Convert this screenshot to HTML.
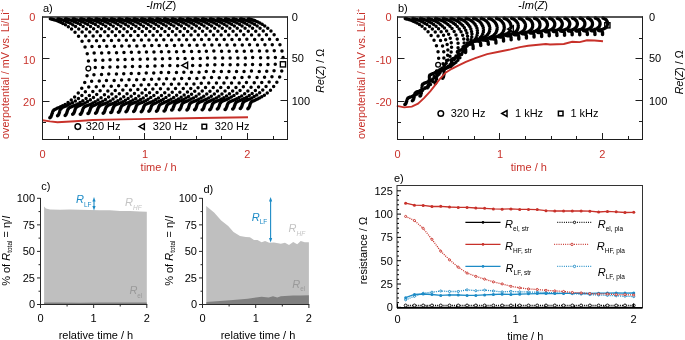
<!DOCTYPE html>
<html><head><meta charset="utf-8"><style>
html,body{margin:0;padding:0;background:#fff;width:685px;height:340px;overflow:hidden}
svg{will-change:transform}
</style></head><body>
<svg width="685" height="340" viewBox="0 0 685 340" style="display:block">
<g font-family='"Liberation Sans", sans-serif'>
<circle cx="88.35" cy="68.58" r="2.4" fill="#fff" stroke="#000" stroke-width="1.3"/>
<path d="M48.6 18.8a1.75 1.75 0 1 0 3.5 0a1.75 1.75 0 1 0 -3.5 0M48.9 18.8a1.75 1.75 0 1 0 3.5 0a1.75 1.75 0 1 0 -3.5 0M49.4 19.0a1.75 1.75 0 1 0 3.5 0a1.75 1.75 0 1 0 -3.5 0M49.8 19.1a1.75 1.75 0 1 0 3.5 0a1.75 1.75 0 1 0 -3.5 0M50.2 19.2a1.75 1.75 0 1 0 3.5 0a1.75 1.75 0 1 0 -3.5 0M50.7 19.3a1.75 1.75 0 1 0 3.5 0a1.75 1.75 0 1 0 -3.5 0M51.4 19.5a1.75 1.75 0 1 0 3.5 0a1.75 1.75 0 1 0 -3.5 0M52.1 19.7a1.75 1.75 0 1 0 3.5 0a1.75 1.75 0 1 0 -3.5 0M53.1 20.0a1.75 1.75 0 1 0 3.5 0a1.75 1.75 0 1 0 -3.5 0M54.2 20.3a1.75 1.75 0 1 0 3.5 0a1.75 1.75 0 1 0 -3.5 0M55.5 20.8a1.75 1.75 0 1 0 3.5 0a1.75 1.75 0 1 0 -3.5 0M57.1 21.4a1.75 1.75 0 1 0 3.5 0a1.75 1.75 0 1 0 -3.5 0M58.9 22.3a1.75 1.75 0 1 0 3.5 0a1.75 1.75 0 1 0 -3.5 0M61.1 23.4a1.75 1.75 0 1 0 3.5 0a1.75 1.75 0 1 0 -3.5 0M63.7 24.8a1.75 1.75 0 1 0 3.5 0a1.75 1.75 0 1 0 -3.5 0M66.6 26.7a1.75 1.75 0 1 0 3.5 0a1.75 1.75 0 1 0 -3.5 0M69.8 29.1a1.75 1.75 0 1 0 3.5 0a1.75 1.75 0 1 0 -3.5 0M73.3 32.3a1.75 1.75 0 1 0 3.5 0a1.75 1.75 0 1 0 -3.5 0M76.8 36.3a1.75 1.75 0 1 0 3.5 0a1.75 1.75 0 1 0 -3.5 0M80.3 41.2a1.75 1.75 0 1 0 3.5 0a1.75 1.75 0 1 0 -3.5 0M83.3 47.1a1.75 1.75 0 1 0 3.5 0a1.75 1.75 0 1 0 -3.5 0M85.5 53.8a1.75 1.75 0 1 0 3.5 0a1.75 1.75 0 1 0 -3.5 0M86.7 61.1a1.75 1.75 0 1 0 3.5 0a1.75 1.75 0 1 0 -3.5 0M85.3 75.8a1.75 1.75 0 1 0 3.5 0a1.75 1.75 0 1 0 -3.5 0M83.0 82.5a1.75 1.75 0 1 0 3.5 0a1.75 1.75 0 1 0 -3.5 0M80.0 88.3a1.75 1.75 0 1 0 3.5 0a1.75 1.75 0 1 0 -3.5 0M76.5 93.1a1.75 1.75 0 1 0 3.5 0a1.75 1.75 0 1 0 -3.5 0M72.9 97.1a1.75 1.75 0 1 0 3.5 0a1.75 1.75 0 1 0 -3.5 0M69.5 100.1a1.75 1.75 0 1 0 3.5 0a1.75 1.75 0 1 0 -3.5 0M66.3 102.5a1.75 1.75 0 1 0 3.5 0a1.75 1.75 0 1 0 -3.5 0M63.4 104.4a1.75 1.75 0 1 0 3.5 0a1.75 1.75 0 1 0 -3.5 0M60.9 105.8a1.75 1.75 0 1 0 3.5 0a1.75 1.75 0 1 0 -3.5 0M58.8 106.8a1.75 1.75 0 1 0 3.5 0a1.75 1.75 0 1 0 -3.5 0M56.9 107.7a1.75 1.75 0 1 0 3.5 0a1.75 1.75 0 1 0 -3.5 0M55.4 108.3a1.75 1.75 0 1 0 3.5 0a1.75 1.75 0 1 0 -3.5 0M54.1 108.9a1.75 1.75 0 1 0 3.5 0a1.75 1.75 0 1 0 -3.5 0M53.0 109.4a1.75 1.75 0 1 0 3.5 0a1.75 1.75 0 1 0 -3.5 0M52.2 109.9a1.75 1.75 0 1 0 3.5 0a1.75 1.75 0 1 0 -3.5 0M51.5 110.7a1.75 1.75 0 1 0 3.5 0a1.75 1.75 0 1 0 -3.5 0M51.0 111.7a1.75 1.75 0 1 0 3.5 0a1.75 1.75 0 1 0 -3.5 0M50.6 113.0a1.75 1.75 0 1 0 3.5 0a1.75 1.75 0 1 0 -3.5 0M50.1 114.3a1.75 1.75 0 1 0 3.5 0a1.75 1.75 0 1 0 -3.5 0M49.7 115.5a1.75 1.75 0 1 0 3.5 0a1.75 1.75 0 1 0 -3.5 0M49.3 116.4a1.75 1.75 0 1 0 3.5 0a1.75 1.75 0 1 0 -3.5 0M49.0 117.0a1.75 1.75 0 1 0 3.5 0a1.75 1.75 0 1 0 -3.5 0M48.8 117.3a1.75 1.75 0 1 0 3.5 0a1.75 1.75 0 1 0 -3.5 0M48.4 117.6a1.75 1.75 0 1 0 3.5 0a1.75 1.75 0 1 0 -3.5 0M48.1 117.7a1.75 1.75 0 1 0 3.5 0a1.75 1.75 0 1 0 -3.5 0" fill="#000"/>
<path d="M56.2 18.8a1.75 1.75 0 1 0 3.5 0a1.75 1.75 0 1 0 -3.5 0M56.5 18.8a1.75 1.75 0 1 0 3.5 0a1.75 1.75 0 1 0 -3.5 0M57.0 19.0a1.75 1.75 0 1 0 3.5 0a1.75 1.75 0 1 0 -3.5 0M57.4 19.0a1.75 1.75 0 1 0 3.5 0a1.75 1.75 0 1 0 -3.5 0M57.8 19.1a1.75 1.75 0 1 0 3.5 0a1.75 1.75 0 1 0 -3.5 0M58.3 19.3a1.75 1.75 0 1 0 3.5 0a1.75 1.75 0 1 0 -3.5 0M58.9 19.5a1.75 1.75 0 1 0 3.5 0a1.75 1.75 0 1 0 -3.5 0M59.7 19.7a1.75 1.75 0 1 0 3.5 0a1.75 1.75 0 1 0 -3.5 0M60.6 20.0a1.75 1.75 0 1 0 3.5 0a1.75 1.75 0 1 0 -3.5 0M61.6 20.3a1.75 1.75 0 1 0 3.5 0a1.75 1.75 0 1 0 -3.5 0M62.9 20.8a1.75 1.75 0 1 0 3.5 0a1.75 1.75 0 1 0 -3.5 0M64.5 21.4a1.75 1.75 0 1 0 3.5 0a1.75 1.75 0 1 0 -3.5 0M66.3 22.2a1.75 1.75 0 1 0 3.5 0a1.75 1.75 0 1 0 -3.5 0M68.5 23.3a1.75 1.75 0 1 0 3.5 0a1.75 1.75 0 1 0 -3.5 0M71.0 24.7a1.75 1.75 0 1 0 3.5 0a1.75 1.75 0 1 0 -3.5 0M73.8 26.5a1.75 1.75 0 1 0 3.5 0a1.75 1.75 0 1 0 -3.5 0M77.0 28.9a1.75 1.75 0 1 0 3.5 0a1.75 1.75 0 1 0 -3.5 0M80.4 32.0a1.75 1.75 0 1 0 3.5 0a1.75 1.75 0 1 0 -3.5 0M83.9 35.9a1.75 1.75 0 1 0 3.5 0a1.75 1.75 0 1 0 -3.5 0M87.2 40.8a1.75 1.75 0 1 0 3.5 0a1.75 1.75 0 1 0 -3.5 0M90.2 46.5a1.75 1.75 0 1 0 3.5 0a1.75 1.75 0 1 0 -3.5 0M92.4 53.1a1.75 1.75 0 1 0 3.5 0a1.75 1.75 0 1 0 -3.5 0M93.5 60.3a1.75 1.75 0 1 0 3.5 0a1.75 1.75 0 1 0 -3.5 0M93.5 67.6a1.75 1.75 0 1 0 3.5 0a1.75 1.75 0 1 0 -3.5 0M92.2 74.7a1.75 1.75 0 1 0 3.5 0a1.75 1.75 0 1 0 -3.5 0M89.9 81.2a1.75 1.75 0 1 0 3.5 0a1.75 1.75 0 1 0 -3.5 0M87.0 86.9a1.75 1.75 0 1 0 3.5 0a1.75 1.75 0 1 0 -3.5 0M83.6 91.7a1.75 1.75 0 1 0 3.5 0a1.75 1.75 0 1 0 -3.5 0M80.1 95.5a1.75 1.75 0 1 0 3.5 0a1.75 1.75 0 1 0 -3.5 0M76.7 98.6a1.75 1.75 0 1 0 3.5 0a1.75 1.75 0 1 0 -3.5 0M73.6 100.9a1.75 1.75 0 1 0 3.5 0a1.75 1.75 0 1 0 -3.5 0M70.7 102.7a1.75 1.75 0 1 0 3.5 0a1.75 1.75 0 1 0 -3.5 0M68.3 104.1a1.75 1.75 0 1 0 3.5 0a1.75 1.75 0 1 0 -3.5 0M66.2 105.1a1.75 1.75 0 1 0 3.5 0a1.75 1.75 0 1 0 -3.5 0M64.4 105.9a1.75 1.75 0 1 0 3.5 0a1.75 1.75 0 1 0 -3.5 0M62.8 106.6a1.75 1.75 0 1 0 3.5 0a1.75 1.75 0 1 0 -3.5 0M61.6 107.1a1.75 1.75 0 1 0 3.5 0a1.75 1.75 0 1 0 -3.5 0M60.5 107.6a1.75 1.75 0 1 0 3.5 0a1.75 1.75 0 1 0 -3.5 0M59.7 108.2a1.75 1.75 0 1 0 3.5 0a1.75 1.75 0 1 0 -3.5 0M59.1 108.9a1.75 1.75 0 1 0 3.5 0a1.75 1.75 0 1 0 -3.5 0M58.5 109.9a1.75 1.75 0 1 0 3.5 0a1.75 1.75 0 1 0 -3.5 0M58.1 111.1a1.75 1.75 0 1 0 3.5 0a1.75 1.75 0 1 0 -3.5 0M57.7 112.4a1.75 1.75 0 1 0 3.5 0a1.75 1.75 0 1 0 -3.5 0M57.3 113.6a1.75 1.75 0 1 0 3.5 0a1.75 1.75 0 1 0 -3.5 0M56.9 114.5a1.75 1.75 0 1 0 3.5 0a1.75 1.75 0 1 0 -3.5 0M56.6 115.0a1.75 1.75 0 1 0 3.5 0a1.75 1.75 0 1 0 -3.5 0M56.4 115.3a1.75 1.75 0 1 0 3.5 0a1.75 1.75 0 1 0 -3.5 0M56.0 115.6a1.75 1.75 0 1 0 3.5 0a1.75 1.75 0 1 0 -3.5 0M55.8 115.7a1.75 1.75 0 1 0 3.5 0a1.75 1.75 0 1 0 -3.5 0" fill="#000"/>
<path d="M63.8 18.8a1.75 1.75 0 1 0 3.5 0a1.75 1.75 0 1 0 -3.5 0M64.1 18.8a1.75 1.75 0 1 0 3.5 0a1.75 1.75 0 1 0 -3.5 0M64.6 19.0a1.75 1.75 0 1 0 3.5 0a1.75 1.75 0 1 0 -3.5 0M65.0 19.0a1.75 1.75 0 1 0 3.5 0a1.75 1.75 0 1 0 -3.5 0M65.4 19.1a1.75 1.75 0 1 0 3.5 0a1.75 1.75 0 1 0 -3.5 0M65.9 19.3a1.75 1.75 0 1 0 3.5 0a1.75 1.75 0 1 0 -3.5 0M66.5 19.5a1.75 1.75 0 1 0 3.5 0a1.75 1.75 0 1 0 -3.5 0M67.3 19.7a1.75 1.75 0 1 0 3.5 0a1.75 1.75 0 1 0 -3.5 0M68.2 19.9a1.75 1.75 0 1 0 3.5 0a1.75 1.75 0 1 0 -3.5 0M69.3 20.3a1.75 1.75 0 1 0 3.5 0a1.75 1.75 0 1 0 -3.5 0M70.5 20.8a1.75 1.75 0 1 0 3.5 0a1.75 1.75 0 1 0 -3.5 0M72.1 21.4a1.75 1.75 0 1 0 3.5 0a1.75 1.75 0 1 0 -3.5 0M73.9 22.2a1.75 1.75 0 1 0 3.5 0a1.75 1.75 0 1 0 -3.5 0M76.1 23.2a1.75 1.75 0 1 0 3.5 0a1.75 1.75 0 1 0 -3.5 0M78.6 24.6a1.75 1.75 0 1 0 3.5 0a1.75 1.75 0 1 0 -3.5 0M81.4 26.5a1.75 1.75 0 1 0 3.5 0a1.75 1.75 0 1 0 -3.5 0M84.6 28.9a1.75 1.75 0 1 0 3.5 0a1.75 1.75 0 1 0 -3.5 0M88.0 32.0a1.75 1.75 0 1 0 3.5 0a1.75 1.75 0 1 0 -3.5 0M91.4 35.9a1.75 1.75 0 1 0 3.5 0a1.75 1.75 0 1 0 -3.5 0M94.8 40.7a1.75 1.75 0 1 0 3.5 0a1.75 1.75 0 1 0 -3.5 0M97.7 46.5a1.75 1.75 0 1 0 3.5 0a1.75 1.75 0 1 0 -3.5 0M99.9 53.0a1.75 1.75 0 1 0 3.5 0a1.75 1.75 0 1 0 -3.5 0M101.1 60.2a1.75 1.75 0 1 0 3.5 0a1.75 1.75 0 1 0 -3.5 0M101.0 67.5a1.75 1.75 0 1 0 3.5 0a1.75 1.75 0 1 0 -3.5 0M99.8 74.6a1.75 1.75 0 1 0 3.5 0a1.75 1.75 0 1 0 -3.5 0M97.5 81.1a1.75 1.75 0 1 0 3.5 0a1.75 1.75 0 1 0 -3.5 0M94.5 86.8a1.75 1.75 0 1 0 3.5 0a1.75 1.75 0 1 0 -3.5 0M91.1 91.5a1.75 1.75 0 1 0 3.5 0a1.75 1.75 0 1 0 -3.5 0M87.6 95.4a1.75 1.75 0 1 0 3.5 0a1.75 1.75 0 1 0 -3.5 0M84.3 98.4a1.75 1.75 0 1 0 3.5 0a1.75 1.75 0 1 0 -3.5 0M81.1 100.7a1.75 1.75 0 1 0 3.5 0a1.75 1.75 0 1 0 -3.5 0M78.3 102.5a1.75 1.75 0 1 0 3.5 0a1.75 1.75 0 1 0 -3.5 0M75.9 103.9a1.75 1.75 0 1 0 3.5 0a1.75 1.75 0 1 0 -3.5 0M73.8 104.9a1.75 1.75 0 1 0 3.5 0a1.75 1.75 0 1 0 -3.5 0M72.0 105.7a1.75 1.75 0 1 0 3.5 0a1.75 1.75 0 1 0 -3.5 0M70.4 106.4a1.75 1.75 0 1 0 3.5 0a1.75 1.75 0 1 0 -3.5 0M69.2 106.9a1.75 1.75 0 1 0 3.5 0a1.75 1.75 0 1 0 -3.5 0M68.1 107.4a1.75 1.75 0 1 0 3.5 0a1.75 1.75 0 1 0 -3.5 0M67.3 108.0a1.75 1.75 0 1 0 3.5 0a1.75 1.75 0 1 0 -3.5 0M66.7 108.7a1.75 1.75 0 1 0 3.5 0a1.75 1.75 0 1 0 -3.5 0M66.2 109.6a1.75 1.75 0 1 0 3.5 0a1.75 1.75 0 1 0 -3.5 0M65.7 110.8a1.75 1.75 0 1 0 3.5 0a1.75 1.75 0 1 0 -3.5 0M65.3 112.1a1.75 1.75 0 1 0 3.5 0a1.75 1.75 0 1 0 -3.5 0M64.9 113.3a1.75 1.75 0 1 0 3.5 0a1.75 1.75 0 1 0 -3.5 0M64.5 114.1a1.75 1.75 0 1 0 3.5 0a1.75 1.75 0 1 0 -3.5 0M64.2 114.7a1.75 1.75 0 1 0 3.5 0a1.75 1.75 0 1 0 -3.5 0M64.0 115.0a1.75 1.75 0 1 0 3.5 0a1.75 1.75 0 1 0 -3.5 0M63.6 115.3a1.75 1.75 0 1 0 3.5 0a1.75 1.75 0 1 0 -3.5 0M63.4 115.4a1.75 1.75 0 1 0 3.5 0a1.75 1.75 0 1 0 -3.5 0" fill="#000"/>
<path d="M71.4 18.8a1.75 1.75 0 1 0 3.5 0a1.75 1.75 0 1 0 -3.5 0M71.7 18.8a1.75 1.75 0 1 0 3.5 0a1.75 1.75 0 1 0 -3.5 0M72.2 19.0a1.75 1.75 0 1 0 3.5 0a1.75 1.75 0 1 0 -3.5 0M72.6 19.0a1.75 1.75 0 1 0 3.5 0a1.75 1.75 0 1 0 -3.5 0M73.0 19.1a1.75 1.75 0 1 0 3.5 0a1.75 1.75 0 1 0 -3.5 0M73.5 19.3a1.75 1.75 0 1 0 3.5 0a1.75 1.75 0 1 0 -3.5 0M74.1 19.4a1.75 1.75 0 1 0 3.5 0a1.75 1.75 0 1 0 -3.5 0M74.8 19.7a1.75 1.75 0 1 0 3.5 0a1.75 1.75 0 1 0 -3.5 0M75.7 19.9a1.75 1.75 0 1 0 3.5 0a1.75 1.75 0 1 0 -3.5 0M76.8 20.3a1.75 1.75 0 1 0 3.5 0a1.75 1.75 0 1 0 -3.5 0M78.1 20.8a1.75 1.75 0 1 0 3.5 0a1.75 1.75 0 1 0 -3.5 0M79.6 21.4a1.75 1.75 0 1 0 3.5 0a1.75 1.75 0 1 0 -3.5 0M81.4 22.1a1.75 1.75 0 1 0 3.5 0a1.75 1.75 0 1 0 -3.5 0M83.5 23.2a1.75 1.75 0 1 0 3.5 0a1.75 1.75 0 1 0 -3.5 0M86.0 24.6a1.75 1.75 0 1 0 3.5 0a1.75 1.75 0 1 0 -3.5 0M88.8 26.4a1.75 1.75 0 1 0 3.5 0a1.75 1.75 0 1 0 -3.5 0M91.9 28.8a1.75 1.75 0 1 0 3.5 0a1.75 1.75 0 1 0 -3.5 0M95.3 31.8a1.75 1.75 0 1 0 3.5 0a1.75 1.75 0 1 0 -3.5 0M98.7 35.7a1.75 1.75 0 1 0 3.5 0a1.75 1.75 0 1 0 -3.5 0M102.1 40.5a1.75 1.75 0 1 0 3.5 0a1.75 1.75 0 1 0 -3.5 0M105.0 46.2a1.75 1.75 0 1 0 3.5 0a1.75 1.75 0 1 0 -3.5 0M107.1 52.7a1.75 1.75 0 1 0 3.5 0a1.75 1.75 0 1 0 -3.5 0M108.3 59.7a1.75 1.75 0 1 0 3.5 0a1.75 1.75 0 1 0 -3.5 0M108.2 67.0a1.75 1.75 0 1 0 3.5 0a1.75 1.75 0 1 0 -3.5 0M107.0 74.0a1.75 1.75 0 1 0 3.5 0a1.75 1.75 0 1 0 -3.5 0M104.7 80.4a1.75 1.75 0 1 0 3.5 0a1.75 1.75 0 1 0 -3.5 0M101.8 86.0a1.75 1.75 0 1 0 3.5 0a1.75 1.75 0 1 0 -3.5 0M98.4 90.7a1.75 1.75 0 1 0 3.5 0a1.75 1.75 0 1 0 -3.5 0M95.0 94.5a1.75 1.75 0 1 0 3.5 0a1.75 1.75 0 1 0 -3.5 0M91.7 97.5a1.75 1.75 0 1 0 3.5 0a1.75 1.75 0 1 0 -3.5 0M88.6 99.8a1.75 1.75 0 1 0 3.5 0a1.75 1.75 0 1 0 -3.5 0M85.8 101.6a1.75 1.75 0 1 0 3.5 0a1.75 1.75 0 1 0 -3.5 0M83.4 103.0a1.75 1.75 0 1 0 3.5 0a1.75 1.75 0 1 0 -3.5 0M81.3 104.0a1.75 1.75 0 1 0 3.5 0a1.75 1.75 0 1 0 -3.5 0M79.5 104.8a1.75 1.75 0 1 0 3.5 0a1.75 1.75 0 1 0 -3.5 0M78.0 105.4a1.75 1.75 0 1 0 3.5 0a1.75 1.75 0 1 0 -3.5 0M76.7 105.9a1.75 1.75 0 1 0 3.5 0a1.75 1.75 0 1 0 -3.5 0M75.7 106.4a1.75 1.75 0 1 0 3.5 0a1.75 1.75 0 1 0 -3.5 0M74.9 107.0a1.75 1.75 0 1 0 3.5 0a1.75 1.75 0 1 0 -3.5 0M74.2 107.7a1.75 1.75 0 1 0 3.5 0a1.75 1.75 0 1 0 -3.5 0M73.7 108.6a1.75 1.75 0 1 0 3.5 0a1.75 1.75 0 1 0 -3.5 0M73.3 109.8a1.75 1.75 0 1 0 3.5 0a1.75 1.75 0 1 0 -3.5 0M72.9 111.0a1.75 1.75 0 1 0 3.5 0a1.75 1.75 0 1 0 -3.5 0M72.5 112.2a1.75 1.75 0 1 0 3.5 0a1.75 1.75 0 1 0 -3.5 0M72.1 113.0a1.75 1.75 0 1 0 3.5 0a1.75 1.75 0 1 0 -3.5 0M71.8 113.5a1.75 1.75 0 1 0 3.5 0a1.75 1.75 0 1 0 -3.5 0M71.6 113.8a1.75 1.75 0 1 0 3.5 0a1.75 1.75 0 1 0 -3.5 0M71.3 114.1a1.75 1.75 0 1 0 3.5 0a1.75 1.75 0 1 0 -3.5 0M70.9 114.2a1.75 1.75 0 1 0 3.5 0a1.75 1.75 0 1 0 -3.5 0" fill="#000"/>
<path d="M79.0 18.8a1.75 1.75 0 1 0 3.5 0a1.75 1.75 0 1 0 -3.5 0M79.3 18.8a1.75 1.75 0 1 0 3.5 0a1.75 1.75 0 1 0 -3.5 0M79.9 19.0a1.75 1.75 0 1 0 3.5 0a1.75 1.75 0 1 0 -3.5 0M80.2 19.0a1.75 1.75 0 1 0 3.5 0a1.75 1.75 0 1 0 -3.5 0M80.6 19.1a1.75 1.75 0 1 0 3.5 0a1.75 1.75 0 1 0 -3.5 0M81.1 19.3a1.75 1.75 0 1 0 3.5 0a1.75 1.75 0 1 0 -3.5 0M81.7 19.4a1.75 1.75 0 1 0 3.5 0a1.75 1.75 0 1 0 -3.5 0M82.5 19.7a1.75 1.75 0 1 0 3.5 0a1.75 1.75 0 1 0 -3.5 0M83.4 19.9a1.75 1.75 0 1 0 3.5 0a1.75 1.75 0 1 0 -3.5 0M84.4 20.3a1.75 1.75 0 1 0 3.5 0a1.75 1.75 0 1 0 -3.5 0M85.7 20.8a1.75 1.75 0 1 0 3.5 0a1.75 1.75 0 1 0 -3.5 0M87.2 21.4a1.75 1.75 0 1 0 3.5 0a1.75 1.75 0 1 0 -3.5 0M89.1 22.2a1.75 1.75 0 1 0 3.5 0a1.75 1.75 0 1 0 -3.5 0M91.2 23.2a1.75 1.75 0 1 0 3.5 0a1.75 1.75 0 1 0 -3.5 0M93.7 24.6a1.75 1.75 0 1 0 3.5 0a1.75 1.75 0 1 0 -3.5 0M96.5 26.4a1.75 1.75 0 1 0 3.5 0a1.75 1.75 0 1 0 -3.5 0M99.6 28.8a1.75 1.75 0 1 0 3.5 0a1.75 1.75 0 1 0 -3.5 0M103.0 31.8a1.75 1.75 0 1 0 3.5 0a1.75 1.75 0 1 0 -3.5 0M106.4 35.7a1.75 1.75 0 1 0 3.5 0a1.75 1.75 0 1 0 -3.5 0M109.7 40.5a1.75 1.75 0 1 0 3.5 0a1.75 1.75 0 1 0 -3.5 0M112.6 46.2a1.75 1.75 0 1 0 3.5 0a1.75 1.75 0 1 0 -3.5 0M114.8 52.7a1.75 1.75 0 1 0 3.5 0a1.75 1.75 0 1 0 -3.5 0M116.0 59.8a1.75 1.75 0 1 0 3.5 0a1.75 1.75 0 1 0 -3.5 0M115.9 67.0a1.75 1.75 0 1 0 3.5 0a1.75 1.75 0 1 0 -3.5 0M114.7 74.1a1.75 1.75 0 1 0 3.5 0a1.75 1.75 0 1 0 -3.5 0M112.4 80.5a1.75 1.75 0 1 0 3.5 0a1.75 1.75 0 1 0 -3.5 0M109.5 86.2a1.75 1.75 0 1 0 3.5 0a1.75 1.75 0 1 0 -3.5 0M106.1 90.9a1.75 1.75 0 1 0 3.5 0a1.75 1.75 0 1 0 -3.5 0M102.7 94.7a1.75 1.75 0 1 0 3.5 0a1.75 1.75 0 1 0 -3.5 0M99.3 97.7a1.75 1.75 0 1 0 3.5 0a1.75 1.75 0 1 0 -3.5 0M96.2 100.0a1.75 1.75 0 1 0 3.5 0a1.75 1.75 0 1 0 -3.5 0M93.4 101.8a1.75 1.75 0 1 0 3.5 0a1.75 1.75 0 1 0 -3.5 0M91.0 103.1a1.75 1.75 0 1 0 3.5 0a1.75 1.75 0 1 0 -3.5 0M88.9 104.2a1.75 1.75 0 1 0 3.5 0a1.75 1.75 0 1 0 -3.5 0M87.1 105.0a1.75 1.75 0 1 0 3.5 0a1.75 1.75 0 1 0 -3.5 0M85.6 105.6a1.75 1.75 0 1 0 3.5 0a1.75 1.75 0 1 0 -3.5 0M84.4 106.1a1.75 1.75 0 1 0 3.5 0a1.75 1.75 0 1 0 -3.5 0M83.3 106.6a1.75 1.75 0 1 0 3.5 0a1.75 1.75 0 1 0 -3.5 0M82.5 107.1a1.75 1.75 0 1 0 3.5 0a1.75 1.75 0 1 0 -3.5 0M81.9 107.8a1.75 1.75 0 1 0 3.5 0a1.75 1.75 0 1 0 -3.5 0M81.4 108.8a1.75 1.75 0 1 0 3.5 0a1.75 1.75 0 1 0 -3.5 0M80.9 109.9a1.75 1.75 0 1 0 3.5 0a1.75 1.75 0 1 0 -3.5 0M80.5 111.2a1.75 1.75 0 1 0 3.5 0a1.75 1.75 0 1 0 -3.5 0M80.1 112.3a1.75 1.75 0 1 0 3.5 0a1.75 1.75 0 1 0 -3.5 0M79.7 113.1a1.75 1.75 0 1 0 3.5 0a1.75 1.75 0 1 0 -3.5 0M79.4 113.6a1.75 1.75 0 1 0 3.5 0a1.75 1.75 0 1 0 -3.5 0M79.2 113.9a1.75 1.75 0 1 0 3.5 0a1.75 1.75 0 1 0 -3.5 0M78.9 114.2a1.75 1.75 0 1 0 3.5 0a1.75 1.75 0 1 0 -3.5 0M78.5 114.3a1.75 1.75 0 1 0 3.5 0a1.75 1.75 0 1 0 -3.5 0" fill="#000"/>
<path d="M86.6 18.8a1.75 1.75 0 1 0 3.5 0a1.75 1.75 0 1 0 -3.5 0M87.0 18.8a1.75 1.75 0 1 0 3.5 0a1.75 1.75 0 1 0 -3.5 0M87.5 19.0a1.75 1.75 0 1 0 3.5 0a1.75 1.75 0 1 0 -3.5 0M87.8 19.0a1.75 1.75 0 1 0 3.5 0a1.75 1.75 0 1 0 -3.5 0M88.2 19.1a1.75 1.75 0 1 0 3.5 0a1.75 1.75 0 1 0 -3.5 0M88.7 19.3a1.75 1.75 0 1 0 3.5 0a1.75 1.75 0 1 0 -3.5 0M89.3 19.4a1.75 1.75 0 1 0 3.5 0a1.75 1.75 0 1 0 -3.5 0M90.1 19.7a1.75 1.75 0 1 0 3.5 0a1.75 1.75 0 1 0 -3.5 0M90.9 19.9a1.75 1.75 0 1 0 3.5 0a1.75 1.75 0 1 0 -3.5 0M92.0 20.3a1.75 1.75 0 1 0 3.5 0a1.75 1.75 0 1 0 -3.5 0M93.3 20.7a1.75 1.75 0 1 0 3.5 0a1.75 1.75 0 1 0 -3.5 0M94.8 21.3a1.75 1.75 0 1 0 3.5 0a1.75 1.75 0 1 0 -3.5 0M96.6 22.1a1.75 1.75 0 1 0 3.5 0a1.75 1.75 0 1 0 -3.5 0M98.7 23.2a1.75 1.75 0 1 0 3.5 0a1.75 1.75 0 1 0 -3.5 0M101.2 24.5a1.75 1.75 0 1 0 3.5 0a1.75 1.75 0 1 0 -3.5 0M104.0 26.3a1.75 1.75 0 1 0 3.5 0a1.75 1.75 0 1 0 -3.5 0M107.1 28.7a1.75 1.75 0 1 0 3.5 0a1.75 1.75 0 1 0 -3.5 0M110.4 31.7a1.75 1.75 0 1 0 3.5 0a1.75 1.75 0 1 0 -3.5 0M113.8 35.6a1.75 1.75 0 1 0 3.5 0a1.75 1.75 0 1 0 -3.5 0M117.1 40.3a1.75 1.75 0 1 0 3.5 0a1.75 1.75 0 1 0 -3.5 0M120.0 46.0a1.75 1.75 0 1 0 3.5 0a1.75 1.75 0 1 0 -3.5 0M122.2 52.5a1.75 1.75 0 1 0 3.5 0a1.75 1.75 0 1 0 -3.5 0M123.3 59.5a1.75 1.75 0 1 0 3.5 0a1.75 1.75 0 1 0 -3.5 0M123.3 66.7a1.75 1.75 0 1 0 3.5 0a1.75 1.75 0 1 0 -3.5 0M122.0 73.7a1.75 1.75 0 1 0 3.5 0a1.75 1.75 0 1 0 -3.5 0M119.8 80.1a1.75 1.75 0 1 0 3.5 0a1.75 1.75 0 1 0 -3.5 0M116.9 85.7a1.75 1.75 0 1 0 3.5 0a1.75 1.75 0 1 0 -3.5 0M113.5 90.4a1.75 1.75 0 1 0 3.5 0a1.75 1.75 0 1 0 -3.5 0M110.1 94.1a1.75 1.75 0 1 0 3.5 0a1.75 1.75 0 1 0 -3.5 0M106.8 97.1a1.75 1.75 0 1 0 3.5 0a1.75 1.75 0 1 0 -3.5 0M103.7 99.4a1.75 1.75 0 1 0 3.5 0a1.75 1.75 0 1 0 -3.5 0M101.0 101.2a1.75 1.75 0 1 0 3.5 0a1.75 1.75 0 1 0 -3.5 0M98.5 102.5a1.75 1.75 0 1 0 3.5 0a1.75 1.75 0 1 0 -3.5 0M96.4 103.6a1.75 1.75 0 1 0 3.5 0a1.75 1.75 0 1 0 -3.5 0M94.7 104.3a1.75 1.75 0 1 0 3.5 0a1.75 1.75 0 1 0 -3.5 0M93.2 105.0a1.75 1.75 0 1 0 3.5 0a1.75 1.75 0 1 0 -3.5 0M91.9 105.5a1.75 1.75 0 1 0 3.5 0a1.75 1.75 0 1 0 -3.5 0M90.9 106.0a1.75 1.75 0 1 0 3.5 0a1.75 1.75 0 1 0 -3.5 0M90.1 106.5a1.75 1.75 0 1 0 3.5 0a1.75 1.75 0 1 0 -3.5 0M89.5 107.2a1.75 1.75 0 1 0 3.5 0a1.75 1.75 0 1 0 -3.5 0M88.9 108.1a1.75 1.75 0 1 0 3.5 0a1.75 1.75 0 1 0 -3.5 0M88.5 109.3a1.75 1.75 0 1 0 3.5 0a1.75 1.75 0 1 0 -3.5 0M88.1 110.5a1.75 1.75 0 1 0 3.5 0a1.75 1.75 0 1 0 -3.5 0M87.7 111.6a1.75 1.75 0 1 0 3.5 0a1.75 1.75 0 1 0 -3.5 0M87.3 112.4a1.75 1.75 0 1 0 3.5 0a1.75 1.75 0 1 0 -3.5 0M87.0 112.9a1.75 1.75 0 1 0 3.5 0a1.75 1.75 0 1 0 -3.5 0M86.8 113.2a1.75 1.75 0 1 0 3.5 0a1.75 1.75 0 1 0 -3.5 0M86.5 113.5a1.75 1.75 0 1 0 3.5 0a1.75 1.75 0 1 0 -3.5 0M86.2 113.6a1.75 1.75 0 1 0 3.5 0a1.75 1.75 0 1 0 -3.5 0" fill="#000"/>
<path d="M94.2 18.8a1.75 1.75 0 1 0 3.5 0a1.75 1.75 0 1 0 -3.5 0M94.6 18.8a1.75 1.75 0 1 0 3.5 0a1.75 1.75 0 1 0 -3.5 0M95.1 18.9a1.75 1.75 0 1 0 3.5 0a1.75 1.75 0 1 0 -3.5 0M95.4 19.0a1.75 1.75 0 1 0 3.5 0a1.75 1.75 0 1 0 -3.5 0M95.8 19.1a1.75 1.75 0 1 0 3.5 0a1.75 1.75 0 1 0 -3.5 0M96.3 19.3a1.75 1.75 0 1 0 3.5 0a1.75 1.75 0 1 0 -3.5 0M96.9 19.4a1.75 1.75 0 1 0 3.5 0a1.75 1.75 0 1 0 -3.5 0M97.7 19.6a1.75 1.75 0 1 0 3.5 0a1.75 1.75 0 1 0 -3.5 0M98.5 19.9a1.75 1.75 0 1 0 3.5 0a1.75 1.75 0 1 0 -3.5 0M99.6 20.3a1.75 1.75 0 1 0 3.5 0a1.75 1.75 0 1 0 -3.5 0M100.9 20.7a1.75 1.75 0 1 0 3.5 0a1.75 1.75 0 1 0 -3.5 0M102.4 21.3a1.75 1.75 0 1 0 3.5 0a1.75 1.75 0 1 0 -3.5 0M104.2 22.1a1.75 1.75 0 1 0 3.5 0a1.75 1.75 0 1 0 -3.5 0M106.3 23.1a1.75 1.75 0 1 0 3.5 0a1.75 1.75 0 1 0 -3.5 0M108.7 24.5a1.75 1.75 0 1 0 3.5 0a1.75 1.75 0 1 0 -3.5 0M111.5 26.3a1.75 1.75 0 1 0 3.5 0a1.75 1.75 0 1 0 -3.5 0M114.6 28.7a1.75 1.75 0 1 0 3.5 0a1.75 1.75 0 1 0 -3.5 0M117.9 31.7a1.75 1.75 0 1 0 3.5 0a1.75 1.75 0 1 0 -3.5 0M121.3 35.5a1.75 1.75 0 1 0 3.5 0a1.75 1.75 0 1 0 -3.5 0M124.6 40.3a1.75 1.75 0 1 0 3.5 0a1.75 1.75 0 1 0 -3.5 0M127.5 45.9a1.75 1.75 0 1 0 3.5 0a1.75 1.75 0 1 0 -3.5 0M129.6 52.3a1.75 1.75 0 1 0 3.5 0a1.75 1.75 0 1 0 -3.5 0M130.8 59.3a1.75 1.75 0 1 0 3.5 0a1.75 1.75 0 1 0 -3.5 0M130.7 66.5a1.75 1.75 0 1 0 3.5 0a1.75 1.75 0 1 0 -3.5 0M129.5 73.4a1.75 1.75 0 1 0 3.5 0a1.75 1.75 0 1 0 -3.5 0M127.3 79.8a1.75 1.75 0 1 0 3.5 0a1.75 1.75 0 1 0 -3.5 0M124.4 85.4a1.75 1.75 0 1 0 3.5 0a1.75 1.75 0 1 0 -3.5 0M121.1 90.1a1.75 1.75 0 1 0 3.5 0a1.75 1.75 0 1 0 -3.5 0M117.6 93.8a1.75 1.75 0 1 0 3.5 0a1.75 1.75 0 1 0 -3.5 0M114.3 96.8a1.75 1.75 0 1 0 3.5 0a1.75 1.75 0 1 0 -3.5 0M111.3 99.1a1.75 1.75 0 1 0 3.5 0a1.75 1.75 0 1 0 -3.5 0M108.5 100.9a1.75 1.75 0 1 0 3.5 0a1.75 1.75 0 1 0 -3.5 0M106.1 102.2a1.75 1.75 0 1 0 3.5 0a1.75 1.75 0 1 0 -3.5 0M104.0 103.2a1.75 1.75 0 1 0 3.5 0a1.75 1.75 0 1 0 -3.5 0M102.3 104.0a1.75 1.75 0 1 0 3.5 0a1.75 1.75 0 1 0 -3.5 0M100.8 104.6a1.75 1.75 0 1 0 3.5 0a1.75 1.75 0 1 0 -3.5 0M99.5 105.1a1.75 1.75 0 1 0 3.5 0a1.75 1.75 0 1 0 -3.5 0M98.5 105.6a1.75 1.75 0 1 0 3.5 0a1.75 1.75 0 1 0 -3.5 0M97.7 106.2a1.75 1.75 0 1 0 3.5 0a1.75 1.75 0 1 0 -3.5 0M97.1 106.8a1.75 1.75 0 1 0 3.5 0a1.75 1.75 0 1 0 -3.5 0M96.6 107.8a1.75 1.75 0 1 0 3.5 0a1.75 1.75 0 1 0 -3.5 0M96.1 108.9a1.75 1.75 0 1 0 3.5 0a1.75 1.75 0 1 0 -3.5 0M95.7 110.1a1.75 1.75 0 1 0 3.5 0a1.75 1.75 0 1 0 -3.5 0M95.3 111.2a1.75 1.75 0 1 0 3.5 0a1.75 1.75 0 1 0 -3.5 0M95.0 112.0a1.75 1.75 0 1 0 3.5 0a1.75 1.75 0 1 0 -3.5 0M94.7 112.5a1.75 1.75 0 1 0 3.5 0a1.75 1.75 0 1 0 -3.5 0M94.4 112.8a1.75 1.75 0 1 0 3.5 0a1.75 1.75 0 1 0 -3.5 0M94.1 113.1a1.75 1.75 0 1 0 3.5 0a1.75 1.75 0 1 0 -3.5 0M93.8 113.2a1.75 1.75 0 1 0 3.5 0a1.75 1.75 0 1 0 -3.5 0" fill="#000"/>
<path d="M101.8 18.8a1.75 1.75 0 1 0 3.5 0a1.75 1.75 0 1 0 -3.5 0M102.2 18.8a1.75 1.75 0 1 0 3.5 0a1.75 1.75 0 1 0 -3.5 0M102.7 18.9a1.75 1.75 0 1 0 3.5 0a1.75 1.75 0 1 0 -3.5 0M103.0 19.0a1.75 1.75 0 1 0 3.5 0a1.75 1.75 0 1 0 -3.5 0M103.4 19.1a1.75 1.75 0 1 0 3.5 0a1.75 1.75 0 1 0 -3.5 0M103.9 19.3a1.75 1.75 0 1 0 3.5 0a1.75 1.75 0 1 0 -3.5 0M104.5 19.4a1.75 1.75 0 1 0 3.5 0a1.75 1.75 0 1 0 -3.5 0M105.3 19.6a1.75 1.75 0 1 0 3.5 0a1.75 1.75 0 1 0 -3.5 0M106.1 19.9a1.75 1.75 0 1 0 3.5 0a1.75 1.75 0 1 0 -3.5 0M107.2 20.3a1.75 1.75 0 1 0 3.5 0a1.75 1.75 0 1 0 -3.5 0M108.5 20.7a1.75 1.75 0 1 0 3.5 0a1.75 1.75 0 1 0 -3.5 0M110.0 21.3a1.75 1.75 0 1 0 3.5 0a1.75 1.75 0 1 0 -3.5 0M111.8 22.1a1.75 1.75 0 1 0 3.5 0a1.75 1.75 0 1 0 -3.5 0M113.9 23.1a1.75 1.75 0 1 0 3.5 0a1.75 1.75 0 1 0 -3.5 0M116.3 24.5a1.75 1.75 0 1 0 3.5 0a1.75 1.75 0 1 0 -3.5 0M119.1 26.3a1.75 1.75 0 1 0 3.5 0a1.75 1.75 0 1 0 -3.5 0M122.2 28.7a1.75 1.75 0 1 0 3.5 0a1.75 1.75 0 1 0 -3.5 0M125.5 31.7a1.75 1.75 0 1 0 3.5 0a1.75 1.75 0 1 0 -3.5 0M128.9 35.5a1.75 1.75 0 1 0 3.5 0a1.75 1.75 0 1 0 -3.5 0M132.2 40.2a1.75 1.75 0 1 0 3.5 0a1.75 1.75 0 1 0 -3.5 0M135.1 45.9a1.75 1.75 0 1 0 3.5 0a1.75 1.75 0 1 0 -3.5 0M137.3 52.3a1.75 1.75 0 1 0 3.5 0a1.75 1.75 0 1 0 -3.5 0M138.4 59.3a1.75 1.75 0 1 0 3.5 0a1.75 1.75 0 1 0 -3.5 0M138.3 66.5a1.75 1.75 0 1 0 3.5 0a1.75 1.75 0 1 0 -3.5 0M137.1 73.4a1.75 1.75 0 1 0 3.5 0a1.75 1.75 0 1 0 -3.5 0M134.9 79.8a1.75 1.75 0 1 0 3.5 0a1.75 1.75 0 1 0 -3.5 0M132.0 85.4a1.75 1.75 0 1 0 3.5 0a1.75 1.75 0 1 0 -3.5 0M128.7 90.1a1.75 1.75 0 1 0 3.5 0a1.75 1.75 0 1 0 -3.5 0M125.3 93.8a1.75 1.75 0 1 0 3.5 0a1.75 1.75 0 1 0 -3.5 0M122.0 96.8a1.75 1.75 0 1 0 3.5 0a1.75 1.75 0 1 0 -3.5 0M118.9 99.1a1.75 1.75 0 1 0 3.5 0a1.75 1.75 0 1 0 -3.5 0M116.1 100.8a1.75 1.75 0 1 0 3.5 0a1.75 1.75 0 1 0 -3.5 0M113.7 102.2a1.75 1.75 0 1 0 3.5 0a1.75 1.75 0 1 0 -3.5 0M111.6 103.2a1.75 1.75 0 1 0 3.5 0a1.75 1.75 0 1 0 -3.5 0M109.9 104.0a1.75 1.75 0 1 0 3.5 0a1.75 1.75 0 1 0 -3.5 0M108.4 104.6a1.75 1.75 0 1 0 3.5 0a1.75 1.75 0 1 0 -3.5 0M107.1 105.1a1.75 1.75 0 1 0 3.5 0a1.75 1.75 0 1 0 -3.5 0M106.1 105.6a1.75 1.75 0 1 0 3.5 0a1.75 1.75 0 1 0 -3.5 0M105.3 106.2a1.75 1.75 0 1 0 3.5 0a1.75 1.75 0 1 0 -3.5 0M104.7 106.8a1.75 1.75 0 1 0 3.5 0a1.75 1.75 0 1 0 -3.5 0M104.2 107.7a1.75 1.75 0 1 0 3.5 0a1.75 1.75 0 1 0 -3.5 0M103.7 108.9a1.75 1.75 0 1 0 3.5 0a1.75 1.75 0 1 0 -3.5 0M103.3 110.1a1.75 1.75 0 1 0 3.5 0a1.75 1.75 0 1 0 -3.5 0M102.9 111.2a1.75 1.75 0 1 0 3.5 0a1.75 1.75 0 1 0 -3.5 0M102.6 112.0a1.75 1.75 0 1 0 3.5 0a1.75 1.75 0 1 0 -3.5 0M102.3 112.5a1.75 1.75 0 1 0 3.5 0a1.75 1.75 0 1 0 -3.5 0M102.0 112.8a1.75 1.75 0 1 0 3.5 0a1.75 1.75 0 1 0 -3.5 0M101.7 113.0a1.75 1.75 0 1 0 3.5 0a1.75 1.75 0 1 0 -3.5 0M101.4 113.2a1.75 1.75 0 1 0 3.5 0a1.75 1.75 0 1 0 -3.5 0" fill="#000"/>
<path d="M109.5 18.8a1.75 1.75 0 1 0 3.5 0a1.75 1.75 0 1 0 -3.5 0M109.8 18.8a1.75 1.75 0 1 0 3.5 0a1.75 1.75 0 1 0 -3.5 0M110.3 18.9a1.75 1.75 0 1 0 3.5 0a1.75 1.75 0 1 0 -3.5 0M110.6 19.0a1.75 1.75 0 1 0 3.5 0a1.75 1.75 0 1 0 -3.5 0M111.0 19.1a1.75 1.75 0 1 0 3.5 0a1.75 1.75 0 1 0 -3.5 0M111.5 19.3a1.75 1.75 0 1 0 3.5 0a1.75 1.75 0 1 0 -3.5 0M112.1 19.4a1.75 1.75 0 1 0 3.5 0a1.75 1.75 0 1 0 -3.5 0M112.9 19.6a1.75 1.75 0 1 0 3.5 0a1.75 1.75 0 1 0 -3.5 0M113.7 19.9a1.75 1.75 0 1 0 3.5 0a1.75 1.75 0 1 0 -3.5 0M114.8 20.3a1.75 1.75 0 1 0 3.5 0a1.75 1.75 0 1 0 -3.5 0M116.0 20.7a1.75 1.75 0 1 0 3.5 0a1.75 1.75 0 1 0 -3.5 0M117.6 21.3a1.75 1.75 0 1 0 3.5 0a1.75 1.75 0 1 0 -3.5 0M119.3 22.1a1.75 1.75 0 1 0 3.5 0a1.75 1.75 0 1 0 -3.5 0M121.4 23.1a1.75 1.75 0 1 0 3.5 0a1.75 1.75 0 1 0 -3.5 0M123.9 24.5a1.75 1.75 0 1 0 3.5 0a1.75 1.75 0 1 0 -3.5 0M126.6 26.3a1.75 1.75 0 1 0 3.5 0a1.75 1.75 0 1 0 -3.5 0M129.7 28.6a1.75 1.75 0 1 0 3.5 0a1.75 1.75 0 1 0 -3.5 0M133.0 31.6a1.75 1.75 0 1 0 3.5 0a1.75 1.75 0 1 0 -3.5 0M136.4 35.4a1.75 1.75 0 1 0 3.5 0a1.75 1.75 0 1 0 -3.5 0M139.7 40.1a1.75 1.75 0 1 0 3.5 0a1.75 1.75 0 1 0 -3.5 0M142.5 45.7a1.75 1.75 0 1 0 3.5 0a1.75 1.75 0 1 0 -3.5 0M144.7 52.1a1.75 1.75 0 1 0 3.5 0a1.75 1.75 0 1 0 -3.5 0M145.8 59.1a1.75 1.75 0 1 0 3.5 0a1.75 1.75 0 1 0 -3.5 0M145.7 66.2a1.75 1.75 0 1 0 3.5 0a1.75 1.75 0 1 0 -3.5 0M144.5 73.1a1.75 1.75 0 1 0 3.5 0a1.75 1.75 0 1 0 -3.5 0M142.3 79.4a1.75 1.75 0 1 0 3.5 0a1.75 1.75 0 1 0 -3.5 0M139.4 85.0a1.75 1.75 0 1 0 3.5 0a1.75 1.75 0 1 0 -3.5 0M136.1 89.6a1.75 1.75 0 1 0 3.5 0a1.75 1.75 0 1 0 -3.5 0M132.7 93.4a1.75 1.75 0 1 0 3.5 0a1.75 1.75 0 1 0 -3.5 0M129.4 96.3a1.75 1.75 0 1 0 3.5 0a1.75 1.75 0 1 0 -3.5 0M126.4 98.6a1.75 1.75 0 1 0 3.5 0a1.75 1.75 0 1 0 -3.5 0M123.7 100.3a1.75 1.75 0 1 0 3.5 0a1.75 1.75 0 1 0 -3.5 0M121.3 101.7a1.75 1.75 0 1 0 3.5 0a1.75 1.75 0 1 0 -3.5 0M119.2 102.7a1.75 1.75 0 1 0 3.5 0a1.75 1.75 0 1 0 -3.5 0M117.4 103.5a1.75 1.75 0 1 0 3.5 0a1.75 1.75 0 1 0 -3.5 0M116.0 104.1a1.75 1.75 0 1 0 3.5 0a1.75 1.75 0 1 0 -3.5 0M114.7 104.6a1.75 1.75 0 1 0 3.5 0a1.75 1.75 0 1 0 -3.5 0M113.7 105.1a1.75 1.75 0 1 0 3.5 0a1.75 1.75 0 1 0 -3.5 0M112.9 105.6a1.75 1.75 0 1 0 3.5 0a1.75 1.75 0 1 0 -3.5 0M112.3 106.3a1.75 1.75 0 1 0 3.5 0a1.75 1.75 0 1 0 -3.5 0M111.8 107.2a1.75 1.75 0 1 0 3.5 0a1.75 1.75 0 1 0 -3.5 0M111.3 108.3a1.75 1.75 0 1 0 3.5 0a1.75 1.75 0 1 0 -3.5 0M110.9 109.5a1.75 1.75 0 1 0 3.5 0a1.75 1.75 0 1 0 -3.5 0M110.5 110.6a1.75 1.75 0 1 0 3.5 0a1.75 1.75 0 1 0 -3.5 0M110.2 111.4a1.75 1.75 0 1 0 3.5 0a1.75 1.75 0 1 0 -3.5 0M109.9 111.9a1.75 1.75 0 1 0 3.5 0a1.75 1.75 0 1 0 -3.5 0M109.7 112.2a1.75 1.75 0 1 0 3.5 0a1.75 1.75 0 1 0 -3.5 0M109.3 112.4a1.75 1.75 0 1 0 3.5 0a1.75 1.75 0 1 0 -3.5 0M109.0 112.6a1.75 1.75 0 1 0 3.5 0a1.75 1.75 0 1 0 -3.5 0" fill="#000"/>
<path d="M117.1 18.8a1.75 1.75 0 1 0 3.5 0a1.75 1.75 0 1 0 -3.5 0M117.4 18.8a1.75 1.75 0 1 0 3.5 0a1.75 1.75 0 1 0 -3.5 0M117.9 18.9a1.75 1.75 0 1 0 3.5 0a1.75 1.75 0 1 0 -3.5 0M118.2 19.0a1.75 1.75 0 1 0 3.5 0a1.75 1.75 0 1 0 -3.5 0M118.7 19.1a1.75 1.75 0 1 0 3.5 0a1.75 1.75 0 1 0 -3.5 0M119.1 19.3a1.75 1.75 0 1 0 3.5 0a1.75 1.75 0 1 0 -3.5 0M119.7 19.4a1.75 1.75 0 1 0 3.5 0a1.75 1.75 0 1 0 -3.5 0M120.5 19.6a1.75 1.75 0 1 0 3.5 0a1.75 1.75 0 1 0 -3.5 0M121.3 19.9a1.75 1.75 0 1 0 3.5 0a1.75 1.75 0 1 0 -3.5 0M122.4 20.3a1.75 1.75 0 1 0 3.5 0a1.75 1.75 0 1 0 -3.5 0M123.6 20.7a1.75 1.75 0 1 0 3.5 0a1.75 1.75 0 1 0 -3.5 0M125.1 21.3a1.75 1.75 0 1 0 3.5 0a1.75 1.75 0 1 0 -3.5 0M126.9 22.1a1.75 1.75 0 1 0 3.5 0a1.75 1.75 0 1 0 -3.5 0M129.0 23.1a1.75 1.75 0 1 0 3.5 0a1.75 1.75 0 1 0 -3.5 0M131.4 24.5a1.75 1.75 0 1 0 3.5 0a1.75 1.75 0 1 0 -3.5 0M134.2 26.2a1.75 1.75 0 1 0 3.5 0a1.75 1.75 0 1 0 -3.5 0M137.2 28.6a1.75 1.75 0 1 0 3.5 0a1.75 1.75 0 1 0 -3.5 0M140.5 31.6a1.75 1.75 0 1 0 3.5 0a1.75 1.75 0 1 0 -3.5 0M143.9 35.3a1.75 1.75 0 1 0 3.5 0a1.75 1.75 0 1 0 -3.5 0M147.2 40.0a1.75 1.75 0 1 0 3.5 0a1.75 1.75 0 1 0 -3.5 0M150.0 45.6a1.75 1.75 0 1 0 3.5 0a1.75 1.75 0 1 0 -3.5 0M152.2 52.0a1.75 1.75 0 1 0 3.5 0a1.75 1.75 0 1 0 -3.5 0M153.3 58.9a1.75 1.75 0 1 0 3.5 0a1.75 1.75 0 1 0 -3.5 0M153.2 66.0a1.75 1.75 0 1 0 3.5 0a1.75 1.75 0 1 0 -3.5 0M152.0 72.9a1.75 1.75 0 1 0 3.5 0a1.75 1.75 0 1 0 -3.5 0M149.8 79.2a1.75 1.75 0 1 0 3.5 0a1.75 1.75 0 1 0 -3.5 0M147.0 84.8a1.75 1.75 0 1 0 3.5 0a1.75 1.75 0 1 0 -3.5 0M143.7 89.4a1.75 1.75 0 1 0 3.5 0a1.75 1.75 0 1 0 -3.5 0M140.3 93.1a1.75 1.75 0 1 0 3.5 0a1.75 1.75 0 1 0 -3.5 0M137.0 96.1a1.75 1.75 0 1 0 3.5 0a1.75 1.75 0 1 0 -3.5 0M134.0 98.4a1.75 1.75 0 1 0 3.5 0a1.75 1.75 0 1 0 -3.5 0M131.2 100.1a1.75 1.75 0 1 0 3.5 0a1.75 1.75 0 1 0 -3.5 0M128.8 101.4a1.75 1.75 0 1 0 3.5 0a1.75 1.75 0 1 0 -3.5 0M126.8 102.4a1.75 1.75 0 1 0 3.5 0a1.75 1.75 0 1 0 -3.5 0M125.0 103.2a1.75 1.75 0 1 0 3.5 0a1.75 1.75 0 1 0 -3.5 0M123.6 103.8a1.75 1.75 0 1 0 3.5 0a1.75 1.75 0 1 0 -3.5 0M122.3 104.4a1.75 1.75 0 1 0 3.5 0a1.75 1.75 0 1 0 -3.5 0M121.3 104.8a1.75 1.75 0 1 0 3.5 0a1.75 1.75 0 1 0 -3.5 0M120.5 105.4a1.75 1.75 0 1 0 3.5 0a1.75 1.75 0 1 0 -3.5 0M119.9 106.0a1.75 1.75 0 1 0 3.5 0a1.75 1.75 0 1 0 -3.5 0M119.4 106.9a1.75 1.75 0 1 0 3.5 0a1.75 1.75 0 1 0 -3.5 0M119.0 108.0a1.75 1.75 0 1 0 3.5 0a1.75 1.75 0 1 0 -3.5 0M118.5 109.2a1.75 1.75 0 1 0 3.5 0a1.75 1.75 0 1 0 -3.5 0M118.2 110.3a1.75 1.75 0 1 0 3.5 0a1.75 1.75 0 1 0 -3.5 0M117.8 111.1a1.75 1.75 0 1 0 3.5 0a1.75 1.75 0 1 0 -3.5 0M117.5 111.6a1.75 1.75 0 1 0 3.5 0a1.75 1.75 0 1 0 -3.5 0M117.3 111.9a1.75 1.75 0 1 0 3.5 0a1.75 1.75 0 1 0 -3.5 0M117.0 112.1a1.75 1.75 0 1 0 3.5 0a1.75 1.75 0 1 0 -3.5 0M116.6 112.2a1.75 1.75 0 1 0 3.5 0a1.75 1.75 0 1 0 -3.5 0" fill="#000"/>
<path d="M124.7 18.7a1.75 1.75 0 1 0 3.5 0a1.75 1.75 0 1 0 -3.5 0M125.0 18.8a1.75 1.75 0 1 0 3.5 0a1.75 1.75 0 1 0 -3.5 0M125.5 18.9a1.75 1.75 0 1 0 3.5 0a1.75 1.75 0 1 0 -3.5 0M125.9 19.0a1.75 1.75 0 1 0 3.5 0a1.75 1.75 0 1 0 -3.5 0M126.3 19.1a1.75 1.75 0 1 0 3.5 0a1.75 1.75 0 1 0 -3.5 0M126.7 19.3a1.75 1.75 0 1 0 3.5 0a1.75 1.75 0 1 0 -3.5 0M127.3 19.4a1.75 1.75 0 1 0 3.5 0a1.75 1.75 0 1 0 -3.5 0M128.1 19.6a1.75 1.75 0 1 0 3.5 0a1.75 1.75 0 1 0 -3.5 0M128.9 19.9a1.75 1.75 0 1 0 3.5 0a1.75 1.75 0 1 0 -3.5 0M130.0 20.2a1.75 1.75 0 1 0 3.5 0a1.75 1.75 0 1 0 -3.5 0M131.2 20.7a1.75 1.75 0 1 0 3.5 0a1.75 1.75 0 1 0 -3.5 0M132.7 21.3a1.75 1.75 0 1 0 3.5 0a1.75 1.75 0 1 0 -3.5 0M134.5 22.1a1.75 1.75 0 1 0 3.5 0a1.75 1.75 0 1 0 -3.5 0M136.5 23.1a1.75 1.75 0 1 0 3.5 0a1.75 1.75 0 1 0 -3.5 0M138.9 24.4a1.75 1.75 0 1 0 3.5 0a1.75 1.75 0 1 0 -3.5 0M141.7 26.2a1.75 1.75 0 1 0 3.5 0a1.75 1.75 0 1 0 -3.5 0M144.7 28.5a1.75 1.75 0 1 0 3.5 0a1.75 1.75 0 1 0 -3.5 0M148.0 31.5a1.75 1.75 0 1 0 3.5 0a1.75 1.75 0 1 0 -3.5 0M151.4 35.2a1.75 1.75 0 1 0 3.5 0a1.75 1.75 0 1 0 -3.5 0M154.6 39.9a1.75 1.75 0 1 0 3.5 0a1.75 1.75 0 1 0 -3.5 0M157.4 45.4a1.75 1.75 0 1 0 3.5 0a1.75 1.75 0 1 0 -3.5 0M159.6 51.8a1.75 1.75 0 1 0 3.5 0a1.75 1.75 0 1 0 -3.5 0M160.7 58.7a1.75 1.75 0 1 0 3.5 0a1.75 1.75 0 1 0 -3.5 0M160.6 65.7a1.75 1.75 0 1 0 3.5 0a1.75 1.75 0 1 0 -3.5 0M159.4 72.6a1.75 1.75 0 1 0 3.5 0a1.75 1.75 0 1 0 -3.5 0M157.3 78.9a1.75 1.75 0 1 0 3.5 0a1.75 1.75 0 1 0 -3.5 0M154.4 84.4a1.75 1.75 0 1 0 3.5 0a1.75 1.75 0 1 0 -3.5 0M151.1 89.0a1.75 1.75 0 1 0 3.5 0a1.75 1.75 0 1 0 -3.5 0M147.8 92.7a1.75 1.75 0 1 0 3.5 0a1.75 1.75 0 1 0 -3.5 0M144.5 95.6a1.75 1.75 0 1 0 3.5 0a1.75 1.75 0 1 0 -3.5 0M141.5 97.9a1.75 1.75 0 1 0 3.5 0a1.75 1.75 0 1 0 -3.5 0M138.8 99.6a1.75 1.75 0 1 0 3.5 0a1.75 1.75 0 1 0 -3.5 0M136.4 100.9a1.75 1.75 0 1 0 3.5 0a1.75 1.75 0 1 0 -3.5 0M134.3 101.9a1.75 1.75 0 1 0 3.5 0a1.75 1.75 0 1 0 -3.5 0M132.6 102.7a1.75 1.75 0 1 0 3.5 0a1.75 1.75 0 1 0 -3.5 0M131.1 103.3a1.75 1.75 0 1 0 3.5 0a1.75 1.75 0 1 0 -3.5 0M129.9 103.8a1.75 1.75 0 1 0 3.5 0a1.75 1.75 0 1 0 -3.5 0M128.9 104.3a1.75 1.75 0 1 0 3.5 0a1.75 1.75 0 1 0 -3.5 0M128.1 104.8a1.75 1.75 0 1 0 3.5 0a1.75 1.75 0 1 0 -3.5 0M127.5 105.5a1.75 1.75 0 1 0 3.5 0a1.75 1.75 0 1 0 -3.5 0M127.0 106.4a1.75 1.75 0 1 0 3.5 0a1.75 1.75 0 1 0 -3.5 0M126.6 107.5a1.75 1.75 0 1 0 3.5 0a1.75 1.75 0 1 0 -3.5 0M126.2 108.7a1.75 1.75 0 1 0 3.5 0a1.75 1.75 0 1 0 -3.5 0M125.8 109.7a1.75 1.75 0 1 0 3.5 0a1.75 1.75 0 1 0 -3.5 0M125.4 110.5a1.75 1.75 0 1 0 3.5 0a1.75 1.75 0 1 0 -3.5 0M125.1 111.0a1.75 1.75 0 1 0 3.5 0a1.75 1.75 0 1 0 -3.5 0M124.9 111.3a1.75 1.75 0 1 0 3.5 0a1.75 1.75 0 1 0 -3.5 0M124.6 111.5a1.75 1.75 0 1 0 3.5 0a1.75 1.75 0 1 0 -3.5 0M124.2 111.7a1.75 1.75 0 1 0 3.5 0a1.75 1.75 0 1 0 -3.5 0" fill="#000"/>
<path d="M132.3 18.7a1.75 1.75 0 1 0 3.5 0a1.75 1.75 0 1 0 -3.5 0M132.6 18.8a1.75 1.75 0 1 0 3.5 0a1.75 1.75 0 1 0 -3.5 0M133.1 18.9a1.75 1.75 0 1 0 3.5 0a1.75 1.75 0 1 0 -3.5 0M133.5 19.0a1.75 1.75 0 1 0 3.5 0a1.75 1.75 0 1 0 -3.5 0M133.9 19.1a1.75 1.75 0 1 0 3.5 0a1.75 1.75 0 1 0 -3.5 0M134.4 19.3a1.75 1.75 0 1 0 3.5 0a1.75 1.75 0 1 0 -3.5 0M134.9 19.4a1.75 1.75 0 1 0 3.5 0a1.75 1.75 0 1 0 -3.5 0M135.7 19.6a1.75 1.75 0 1 0 3.5 0a1.75 1.75 0 1 0 -3.5 0M136.5 19.9a1.75 1.75 0 1 0 3.5 0a1.75 1.75 0 1 0 -3.5 0M137.6 20.2a1.75 1.75 0 1 0 3.5 0a1.75 1.75 0 1 0 -3.5 0M138.8 20.7a1.75 1.75 0 1 0 3.5 0a1.75 1.75 0 1 0 -3.5 0M140.3 21.3a1.75 1.75 0 1 0 3.5 0a1.75 1.75 0 1 0 -3.5 0M142.1 22.0a1.75 1.75 0 1 0 3.5 0a1.75 1.75 0 1 0 -3.5 0M144.1 23.1a1.75 1.75 0 1 0 3.5 0a1.75 1.75 0 1 0 -3.5 0M146.5 24.4a1.75 1.75 0 1 0 3.5 0a1.75 1.75 0 1 0 -3.5 0M149.2 26.2a1.75 1.75 0 1 0 3.5 0a1.75 1.75 0 1 0 -3.5 0M152.3 28.5a1.75 1.75 0 1 0 3.5 0a1.75 1.75 0 1 0 -3.5 0M155.5 31.4a1.75 1.75 0 1 0 3.5 0a1.75 1.75 0 1 0 -3.5 0M158.9 35.2a1.75 1.75 0 1 0 3.5 0a1.75 1.75 0 1 0 -3.5 0M162.1 39.8a1.75 1.75 0 1 0 3.5 0a1.75 1.75 0 1 0 -3.5 0M164.9 45.4a1.75 1.75 0 1 0 3.5 0a1.75 1.75 0 1 0 -3.5 0M167.1 51.7a1.75 1.75 0 1 0 3.5 0a1.75 1.75 0 1 0 -3.5 0M168.2 58.5a1.75 1.75 0 1 0 3.5 0a1.75 1.75 0 1 0 -3.5 0M168.1 65.6a1.75 1.75 0 1 0 3.5 0a1.75 1.75 0 1 0 -3.5 0M166.9 72.4a1.75 1.75 0 1 0 3.5 0a1.75 1.75 0 1 0 -3.5 0M164.8 78.7a1.75 1.75 0 1 0 3.5 0a1.75 1.75 0 1 0 -3.5 0M161.9 84.1a1.75 1.75 0 1 0 3.5 0a1.75 1.75 0 1 0 -3.5 0M158.7 88.7a1.75 1.75 0 1 0 3.5 0a1.75 1.75 0 1 0 -3.5 0M155.3 92.4a1.75 1.75 0 1 0 3.5 0a1.75 1.75 0 1 0 -3.5 0M152.1 95.4a1.75 1.75 0 1 0 3.5 0a1.75 1.75 0 1 0 -3.5 0M149.0 97.6a1.75 1.75 0 1 0 3.5 0a1.75 1.75 0 1 0 -3.5 0M146.3 99.3a1.75 1.75 0 1 0 3.5 0a1.75 1.75 0 1 0 -3.5 0M144.0 100.7a1.75 1.75 0 1 0 3.5 0a1.75 1.75 0 1 0 -3.5 0M141.9 101.7a1.75 1.75 0 1 0 3.5 0a1.75 1.75 0 1 0 -3.5 0M140.2 102.4a1.75 1.75 0 1 0 3.5 0a1.75 1.75 0 1 0 -3.5 0M138.7 103.0a1.75 1.75 0 1 0 3.5 0a1.75 1.75 0 1 0 -3.5 0M137.5 103.6a1.75 1.75 0 1 0 3.5 0a1.75 1.75 0 1 0 -3.5 0M136.5 104.0a1.75 1.75 0 1 0 3.5 0a1.75 1.75 0 1 0 -3.5 0M135.7 104.6a1.75 1.75 0 1 0 3.5 0a1.75 1.75 0 1 0 -3.5 0M135.1 105.2a1.75 1.75 0 1 0 3.5 0a1.75 1.75 0 1 0 -3.5 0M134.6 106.1a1.75 1.75 0 1 0 3.5 0a1.75 1.75 0 1 0 -3.5 0M134.2 107.2a1.75 1.75 0 1 0 3.5 0a1.75 1.75 0 1 0 -3.5 0M133.8 108.4a1.75 1.75 0 1 0 3.5 0a1.75 1.75 0 1 0 -3.5 0M133.4 109.5a1.75 1.75 0 1 0 3.5 0a1.75 1.75 0 1 0 -3.5 0M133.0 110.2a1.75 1.75 0 1 0 3.5 0a1.75 1.75 0 1 0 -3.5 0M132.7 110.7a1.75 1.75 0 1 0 3.5 0a1.75 1.75 0 1 0 -3.5 0M132.5 111.0a1.75 1.75 0 1 0 3.5 0a1.75 1.75 0 1 0 -3.5 0M132.2 111.3a1.75 1.75 0 1 0 3.5 0a1.75 1.75 0 1 0 -3.5 0M131.9 111.4a1.75 1.75 0 1 0 3.5 0a1.75 1.75 0 1 0 -3.5 0" fill="#000"/>
<path d="M139.9 18.7a1.75 1.75 0 1 0 3.5 0a1.75 1.75 0 1 0 -3.5 0M140.3 18.8a1.75 1.75 0 1 0 3.5 0a1.75 1.75 0 1 0 -3.5 0M140.8 18.9a1.75 1.75 0 1 0 3.5 0a1.75 1.75 0 1 0 -3.5 0M141.1 19.0a1.75 1.75 0 1 0 3.5 0a1.75 1.75 0 1 0 -3.5 0M141.5 19.1a1.75 1.75 0 1 0 3.5 0a1.75 1.75 0 1 0 -3.5 0M142.0 19.3a1.75 1.75 0 1 0 3.5 0a1.75 1.75 0 1 0 -3.5 0M142.6 19.4a1.75 1.75 0 1 0 3.5 0a1.75 1.75 0 1 0 -3.5 0M143.3 19.6a1.75 1.75 0 1 0 3.5 0a1.75 1.75 0 1 0 -3.5 0M144.2 19.9a1.75 1.75 0 1 0 3.5 0a1.75 1.75 0 1 0 -3.5 0M145.2 20.2a1.75 1.75 0 1 0 3.5 0a1.75 1.75 0 1 0 -3.5 0M146.4 20.7a1.75 1.75 0 1 0 3.5 0a1.75 1.75 0 1 0 -3.5 0M147.9 21.3a1.75 1.75 0 1 0 3.5 0a1.75 1.75 0 1 0 -3.5 0M149.7 22.1a1.75 1.75 0 1 0 3.5 0a1.75 1.75 0 1 0 -3.5 0M151.8 23.1a1.75 1.75 0 1 0 3.5 0a1.75 1.75 0 1 0 -3.5 0M154.2 24.4a1.75 1.75 0 1 0 3.5 0a1.75 1.75 0 1 0 -3.5 0M156.9 26.2a1.75 1.75 0 1 0 3.5 0a1.75 1.75 0 1 0 -3.5 0M159.9 28.5a1.75 1.75 0 1 0 3.5 0a1.75 1.75 0 1 0 -3.5 0M163.2 31.5a1.75 1.75 0 1 0 3.5 0a1.75 1.75 0 1 0 -3.5 0M166.6 35.2a1.75 1.75 0 1 0 3.5 0a1.75 1.75 0 1 0 -3.5 0M169.8 39.9a1.75 1.75 0 1 0 3.5 0a1.75 1.75 0 1 0 -3.5 0M172.7 45.4a1.75 1.75 0 1 0 3.5 0a1.75 1.75 0 1 0 -3.5 0M174.8 51.8a1.75 1.75 0 1 0 3.5 0a1.75 1.75 0 1 0 -3.5 0M175.9 58.6a1.75 1.75 0 1 0 3.5 0a1.75 1.75 0 1 0 -3.5 0M175.9 65.7a1.75 1.75 0 1 0 3.5 0a1.75 1.75 0 1 0 -3.5 0M174.7 72.6a1.75 1.75 0 1 0 3.5 0a1.75 1.75 0 1 0 -3.5 0M172.5 78.9a1.75 1.75 0 1 0 3.5 0a1.75 1.75 0 1 0 -3.5 0M169.6 84.3a1.75 1.75 0 1 0 3.5 0a1.75 1.75 0 1 0 -3.5 0M166.4 88.9a1.75 1.75 0 1 0 3.5 0a1.75 1.75 0 1 0 -3.5 0M163.0 92.7a1.75 1.75 0 1 0 3.5 0a1.75 1.75 0 1 0 -3.5 0M159.7 95.6a1.75 1.75 0 1 0 3.5 0a1.75 1.75 0 1 0 -3.5 0M156.7 97.9a1.75 1.75 0 1 0 3.5 0a1.75 1.75 0 1 0 -3.5 0M154.0 99.6a1.75 1.75 0 1 0 3.5 0a1.75 1.75 0 1 0 -3.5 0M151.6 100.9a1.75 1.75 0 1 0 3.5 0a1.75 1.75 0 1 0 -3.5 0M149.6 101.9a1.75 1.75 0 1 0 3.5 0a1.75 1.75 0 1 0 -3.5 0M147.8 102.7a1.75 1.75 0 1 0 3.5 0a1.75 1.75 0 1 0 -3.5 0M146.4 103.3a1.75 1.75 0 1 0 3.5 0a1.75 1.75 0 1 0 -3.5 0M145.2 103.8a1.75 1.75 0 1 0 3.5 0a1.75 1.75 0 1 0 -3.5 0M144.1 104.3a1.75 1.75 0 1 0 3.5 0a1.75 1.75 0 1 0 -3.5 0M143.3 104.8a1.75 1.75 0 1 0 3.5 0a1.75 1.75 0 1 0 -3.5 0M142.7 105.5a1.75 1.75 0 1 0 3.5 0a1.75 1.75 0 1 0 -3.5 0M142.2 106.4a1.75 1.75 0 1 0 3.5 0a1.75 1.75 0 1 0 -3.5 0M141.8 107.5a1.75 1.75 0 1 0 3.5 0a1.75 1.75 0 1 0 -3.5 0M141.4 108.7a1.75 1.75 0 1 0 3.5 0a1.75 1.75 0 1 0 -3.5 0M141.0 109.7a1.75 1.75 0 1 0 3.5 0a1.75 1.75 0 1 0 -3.5 0M140.6 110.5a1.75 1.75 0 1 0 3.5 0a1.75 1.75 0 1 0 -3.5 0M140.3 111.0a1.75 1.75 0 1 0 3.5 0a1.75 1.75 0 1 0 -3.5 0M140.1 111.3a1.75 1.75 0 1 0 3.5 0a1.75 1.75 0 1 0 -3.5 0M139.8 111.5a1.75 1.75 0 1 0 3.5 0a1.75 1.75 0 1 0 -3.5 0M139.5 111.7a1.75 1.75 0 1 0 3.5 0a1.75 1.75 0 1 0 -3.5 0" fill="#000"/>
<path d="M181.84 65.46L187.6 62.26L187.6 68.66Z" fill="#fff" stroke="#000" stroke-width="1.4" stroke-linejoin="miter"/>
<path d="M147.5 18.7a1.75 1.75 0 1 0 3.5 0a1.75 1.75 0 1 0 -3.5 0M147.9 18.8a1.75 1.75 0 1 0 3.5 0a1.75 1.75 0 1 0 -3.5 0M148.4 18.9a1.75 1.75 0 1 0 3.5 0a1.75 1.75 0 1 0 -3.5 0M148.7 19.0a1.75 1.75 0 1 0 3.5 0a1.75 1.75 0 1 0 -3.5 0M149.1 19.1a1.75 1.75 0 1 0 3.5 0a1.75 1.75 0 1 0 -3.5 0M149.6 19.3a1.75 1.75 0 1 0 3.5 0a1.75 1.75 0 1 0 -3.5 0M150.2 19.4a1.75 1.75 0 1 0 3.5 0a1.75 1.75 0 1 0 -3.5 0M150.9 19.6a1.75 1.75 0 1 0 3.5 0a1.75 1.75 0 1 0 -3.5 0M151.7 19.9a1.75 1.75 0 1 0 3.5 0a1.75 1.75 0 1 0 -3.5 0M152.8 20.2a1.75 1.75 0 1 0 3.5 0a1.75 1.75 0 1 0 -3.5 0M154.0 20.7a1.75 1.75 0 1 0 3.5 0a1.75 1.75 0 1 0 -3.5 0M155.5 21.3a1.75 1.75 0 1 0 3.5 0a1.75 1.75 0 1 0 -3.5 0M157.3 22.0a1.75 1.75 0 1 0 3.5 0a1.75 1.75 0 1 0 -3.5 0M159.3 23.0a1.75 1.75 0 1 0 3.5 0a1.75 1.75 0 1 0 -3.5 0M161.7 24.4a1.75 1.75 0 1 0 3.5 0a1.75 1.75 0 1 0 -3.5 0M164.4 26.1a1.75 1.75 0 1 0 3.5 0a1.75 1.75 0 1 0 -3.5 0M167.5 28.4a1.75 1.75 0 1 0 3.5 0a1.75 1.75 0 1 0 -3.5 0M170.7 31.4a1.75 1.75 0 1 0 3.5 0a1.75 1.75 0 1 0 -3.5 0M174.1 35.1a1.75 1.75 0 1 0 3.5 0a1.75 1.75 0 1 0 -3.5 0M177.3 39.8a1.75 1.75 0 1 0 3.5 0a1.75 1.75 0 1 0 -3.5 0M180.1 45.3a1.75 1.75 0 1 0 3.5 0a1.75 1.75 0 1 0 -3.5 0M182.2 51.6a1.75 1.75 0 1 0 3.5 0a1.75 1.75 0 1 0 -3.5 0M183.3 58.4a1.75 1.75 0 1 0 3.5 0a1.75 1.75 0 1 0 -3.5 0M182.1 72.3a1.75 1.75 0 1 0 3.5 0a1.75 1.75 0 1 0 -3.5 0M179.9 78.5a1.75 1.75 0 1 0 3.5 0a1.75 1.75 0 1 0 -3.5 0M177.1 84.0a1.75 1.75 0 1 0 3.5 0a1.75 1.75 0 1 0 -3.5 0M173.8 88.6a1.75 1.75 0 1 0 3.5 0a1.75 1.75 0 1 0 -3.5 0M170.5 92.3a1.75 1.75 0 1 0 3.5 0a1.75 1.75 0 1 0 -3.5 0M167.3 95.2a1.75 1.75 0 1 0 3.5 0a1.75 1.75 0 1 0 -3.5 0M164.2 97.4a1.75 1.75 0 1 0 3.5 0a1.75 1.75 0 1 0 -3.5 0M161.5 99.2a1.75 1.75 0 1 0 3.5 0a1.75 1.75 0 1 0 -3.5 0M159.2 100.5a1.75 1.75 0 1 0 3.5 0a1.75 1.75 0 1 0 -3.5 0M157.1 101.5a1.75 1.75 0 1 0 3.5 0a1.75 1.75 0 1 0 -3.5 0M155.4 102.3a1.75 1.75 0 1 0 3.5 0a1.75 1.75 0 1 0 -3.5 0M154.0 102.9a1.75 1.75 0 1 0 3.5 0a1.75 1.75 0 1 0 -3.5 0M152.7 103.4a1.75 1.75 0 1 0 3.5 0a1.75 1.75 0 1 0 -3.5 0M151.7 103.9a1.75 1.75 0 1 0 3.5 0a1.75 1.75 0 1 0 -3.5 0M150.9 104.4a1.75 1.75 0 1 0 3.5 0a1.75 1.75 0 1 0 -3.5 0M150.3 105.0a1.75 1.75 0 1 0 3.5 0a1.75 1.75 0 1 0 -3.5 0M149.8 105.9a1.75 1.75 0 1 0 3.5 0a1.75 1.75 0 1 0 -3.5 0M149.4 107.0a1.75 1.75 0 1 0 3.5 0a1.75 1.75 0 1 0 -3.5 0M149.0 108.2a1.75 1.75 0 1 0 3.5 0a1.75 1.75 0 1 0 -3.5 0M148.6 109.3a1.75 1.75 0 1 0 3.5 0a1.75 1.75 0 1 0 -3.5 0M148.2 110.1a1.75 1.75 0 1 0 3.5 0a1.75 1.75 0 1 0 -3.5 0M148.0 110.5a1.75 1.75 0 1 0 3.5 0a1.75 1.75 0 1 0 -3.5 0M147.7 110.8a1.75 1.75 0 1 0 3.5 0a1.75 1.75 0 1 0 -3.5 0M147.4 111.1a1.75 1.75 0 1 0 3.5 0a1.75 1.75 0 1 0 -3.5 0M147.1 111.2a1.75 1.75 0 1 0 3.5 0a1.75 1.75 0 1 0 -3.5 0" fill="#000"/>
<path d="M155.1 18.7a1.75 1.75 0 1 0 3.5 0a1.75 1.75 0 1 0 -3.5 0M155.5 18.8a1.75 1.75 0 1 0 3.5 0a1.75 1.75 0 1 0 -3.5 0M156.0 18.9a1.75 1.75 0 1 0 3.5 0a1.75 1.75 0 1 0 -3.5 0M156.3 19.0a1.75 1.75 0 1 0 3.5 0a1.75 1.75 0 1 0 -3.5 0M156.7 19.1a1.75 1.75 0 1 0 3.5 0a1.75 1.75 0 1 0 -3.5 0M157.2 19.3a1.75 1.75 0 1 0 3.5 0a1.75 1.75 0 1 0 -3.5 0M157.8 19.4a1.75 1.75 0 1 0 3.5 0a1.75 1.75 0 1 0 -3.5 0M158.5 19.6a1.75 1.75 0 1 0 3.5 0a1.75 1.75 0 1 0 -3.5 0M159.4 19.9a1.75 1.75 0 1 0 3.5 0a1.75 1.75 0 1 0 -3.5 0M160.4 20.2a1.75 1.75 0 1 0 3.5 0a1.75 1.75 0 1 0 -3.5 0M161.6 20.7a1.75 1.75 0 1 0 3.5 0a1.75 1.75 0 1 0 -3.5 0M163.1 21.3a1.75 1.75 0 1 0 3.5 0a1.75 1.75 0 1 0 -3.5 0M164.9 22.0a1.75 1.75 0 1 0 3.5 0a1.75 1.75 0 1 0 -3.5 0M166.9 23.1a1.75 1.75 0 1 0 3.5 0a1.75 1.75 0 1 0 -3.5 0M169.3 24.4a1.75 1.75 0 1 0 3.5 0a1.75 1.75 0 1 0 -3.5 0M172.1 26.1a1.75 1.75 0 1 0 3.5 0a1.75 1.75 0 1 0 -3.5 0M175.1 28.4a1.75 1.75 0 1 0 3.5 0a1.75 1.75 0 1 0 -3.5 0M178.3 31.4a1.75 1.75 0 1 0 3.5 0a1.75 1.75 0 1 0 -3.5 0M181.7 35.2a1.75 1.75 0 1 0 3.5 0a1.75 1.75 0 1 0 -3.5 0M184.9 39.8a1.75 1.75 0 1 0 3.5 0a1.75 1.75 0 1 0 -3.5 0M187.7 45.3a1.75 1.75 0 1 0 3.5 0a1.75 1.75 0 1 0 -3.5 0M189.8 51.6a1.75 1.75 0 1 0 3.5 0a1.75 1.75 0 1 0 -3.5 0M190.9 58.5a1.75 1.75 0 1 0 3.5 0a1.75 1.75 0 1 0 -3.5 0M190.9 65.5a1.75 1.75 0 1 0 3.5 0a1.75 1.75 0 1 0 -3.5 0M189.7 72.3a1.75 1.75 0 1 0 3.5 0a1.75 1.75 0 1 0 -3.5 0M187.6 78.6a1.75 1.75 0 1 0 3.5 0a1.75 1.75 0 1 0 -3.5 0M184.7 84.0a1.75 1.75 0 1 0 3.5 0a1.75 1.75 0 1 0 -3.5 0M181.5 88.6a1.75 1.75 0 1 0 3.5 0a1.75 1.75 0 1 0 -3.5 0M178.1 92.3a1.75 1.75 0 1 0 3.5 0a1.75 1.75 0 1 0 -3.5 0M174.9 95.2a1.75 1.75 0 1 0 3.5 0a1.75 1.75 0 1 0 -3.5 0M171.9 97.4a1.75 1.75 0 1 0 3.5 0a1.75 1.75 0 1 0 -3.5 0M169.2 99.2a1.75 1.75 0 1 0 3.5 0a1.75 1.75 0 1 0 -3.5 0M166.8 100.5a1.75 1.75 0 1 0 3.5 0a1.75 1.75 0 1 0 -3.5 0M164.8 101.5a1.75 1.75 0 1 0 3.5 0a1.75 1.75 0 1 0 -3.5 0M163.0 102.3a1.75 1.75 0 1 0 3.5 0a1.75 1.75 0 1 0 -3.5 0M161.6 102.9a1.75 1.75 0 1 0 3.5 0a1.75 1.75 0 1 0 -3.5 0M160.4 103.4a1.75 1.75 0 1 0 3.5 0a1.75 1.75 0 1 0 -3.5 0M159.4 103.9a1.75 1.75 0 1 0 3.5 0a1.75 1.75 0 1 0 -3.5 0M158.6 104.4a1.75 1.75 0 1 0 3.5 0a1.75 1.75 0 1 0 -3.5 0M157.9 105.0a1.75 1.75 0 1 0 3.5 0a1.75 1.75 0 1 0 -3.5 0M157.4 105.9a1.75 1.75 0 1 0 3.5 0a1.75 1.75 0 1 0 -3.5 0M157.0 107.0a1.75 1.75 0 1 0 3.5 0a1.75 1.75 0 1 0 -3.5 0M156.6 108.2a1.75 1.75 0 1 0 3.5 0a1.75 1.75 0 1 0 -3.5 0M156.2 109.3a1.75 1.75 0 1 0 3.5 0a1.75 1.75 0 1 0 -3.5 0M155.9 110.1a1.75 1.75 0 1 0 3.5 0a1.75 1.75 0 1 0 -3.5 0M155.6 110.5a1.75 1.75 0 1 0 3.5 0a1.75 1.75 0 1 0 -3.5 0M155.3 110.8a1.75 1.75 0 1 0 3.5 0a1.75 1.75 0 1 0 -3.5 0M155.0 111.1a1.75 1.75 0 1 0 3.5 0a1.75 1.75 0 1 0 -3.5 0M154.7 111.2a1.75 1.75 0 1 0 3.5 0a1.75 1.75 0 1 0 -3.5 0" fill="#000"/>
<path d="M162.8 18.7a1.75 1.75 0 1 0 3.5 0a1.75 1.75 0 1 0 -3.5 0M163.1 18.8a1.75 1.75 0 1 0 3.5 0a1.75 1.75 0 1 0 -3.5 0M163.6 18.9a1.75 1.75 0 1 0 3.5 0a1.75 1.75 0 1 0 -3.5 0M163.9 19.0a1.75 1.75 0 1 0 3.5 0a1.75 1.75 0 1 0 -3.5 0M164.3 19.1a1.75 1.75 0 1 0 3.5 0a1.75 1.75 0 1 0 -3.5 0M164.8 19.3a1.75 1.75 0 1 0 3.5 0a1.75 1.75 0 1 0 -3.5 0M165.4 19.4a1.75 1.75 0 1 0 3.5 0a1.75 1.75 0 1 0 -3.5 0M166.1 19.6a1.75 1.75 0 1 0 3.5 0a1.75 1.75 0 1 0 -3.5 0M167.0 19.9a1.75 1.75 0 1 0 3.5 0a1.75 1.75 0 1 0 -3.5 0M168.0 20.2a1.75 1.75 0 1 0 3.5 0a1.75 1.75 0 1 0 -3.5 0M169.3 20.7a1.75 1.75 0 1 0 3.5 0a1.75 1.75 0 1 0 -3.5 0M170.7 21.3a1.75 1.75 0 1 0 3.5 0a1.75 1.75 0 1 0 -3.5 0M172.5 22.0a1.75 1.75 0 1 0 3.5 0a1.75 1.75 0 1 0 -3.5 0M174.5 23.0a1.75 1.75 0 1 0 3.5 0a1.75 1.75 0 1 0 -3.5 0M176.9 24.4a1.75 1.75 0 1 0 3.5 0a1.75 1.75 0 1 0 -3.5 0M179.6 26.1a1.75 1.75 0 1 0 3.5 0a1.75 1.75 0 1 0 -3.5 0M182.7 28.4a1.75 1.75 0 1 0 3.5 0a1.75 1.75 0 1 0 -3.5 0M185.9 31.4a1.75 1.75 0 1 0 3.5 0a1.75 1.75 0 1 0 -3.5 0M189.3 35.1a1.75 1.75 0 1 0 3.5 0a1.75 1.75 0 1 0 -3.5 0M192.5 39.8a1.75 1.75 0 1 0 3.5 0a1.75 1.75 0 1 0 -3.5 0M195.3 45.3a1.75 1.75 0 1 0 3.5 0a1.75 1.75 0 1 0 -3.5 0M197.4 51.6a1.75 1.75 0 1 0 3.5 0a1.75 1.75 0 1 0 -3.5 0M198.5 58.4a1.75 1.75 0 1 0 3.5 0a1.75 1.75 0 1 0 -3.5 0M198.4 65.4a1.75 1.75 0 1 0 3.5 0a1.75 1.75 0 1 0 -3.5 0M197.3 72.2a1.75 1.75 0 1 0 3.5 0a1.75 1.75 0 1 0 -3.5 0M195.1 78.5a1.75 1.75 0 1 0 3.5 0a1.75 1.75 0 1 0 -3.5 0M192.2 83.9a1.75 1.75 0 1 0 3.5 0a1.75 1.75 0 1 0 -3.5 0M189.0 88.5a1.75 1.75 0 1 0 3.5 0a1.75 1.75 0 1 0 -3.5 0M185.7 92.1a1.75 1.75 0 1 0 3.5 0a1.75 1.75 0 1 0 -3.5 0M182.4 95.0a1.75 1.75 0 1 0 3.5 0a1.75 1.75 0 1 0 -3.5 0M179.4 97.3a1.75 1.75 0 1 0 3.5 0a1.75 1.75 0 1 0 -3.5 0M176.7 99.0a1.75 1.75 0 1 0 3.5 0a1.75 1.75 0 1 0 -3.5 0M174.4 100.3a1.75 1.75 0 1 0 3.5 0a1.75 1.75 0 1 0 -3.5 0M172.3 101.3a1.75 1.75 0 1 0 3.5 0a1.75 1.75 0 1 0 -3.5 0M170.6 102.1a1.75 1.75 0 1 0 3.5 0a1.75 1.75 0 1 0 -3.5 0M169.2 102.7a1.75 1.75 0 1 0 3.5 0a1.75 1.75 0 1 0 -3.5 0M168.0 103.2a1.75 1.75 0 1 0 3.5 0a1.75 1.75 0 1 0 -3.5 0M167.0 103.7a1.75 1.75 0 1 0 3.5 0a1.75 1.75 0 1 0 -3.5 0M166.2 104.2a1.75 1.75 0 1 0 3.5 0a1.75 1.75 0 1 0 -3.5 0M165.5 104.9a1.75 1.75 0 1 0 3.5 0a1.75 1.75 0 1 0 -3.5 0M165.0 105.7a1.75 1.75 0 1 0 3.5 0a1.75 1.75 0 1 0 -3.5 0M164.6 106.9a1.75 1.75 0 1 0 3.5 0a1.75 1.75 0 1 0 -3.5 0M164.2 108.1a1.75 1.75 0 1 0 3.5 0a1.75 1.75 0 1 0 -3.5 0M163.8 109.1a1.75 1.75 0 1 0 3.5 0a1.75 1.75 0 1 0 -3.5 0M163.5 109.9a1.75 1.75 0 1 0 3.5 0a1.75 1.75 0 1 0 -3.5 0M163.2 110.4a1.75 1.75 0 1 0 3.5 0a1.75 1.75 0 1 0 -3.5 0M163.0 110.7a1.75 1.75 0 1 0 3.5 0a1.75 1.75 0 1 0 -3.5 0M162.6 110.9a1.75 1.75 0 1 0 3.5 0a1.75 1.75 0 1 0 -3.5 0M162.3 111.1a1.75 1.75 0 1 0 3.5 0a1.75 1.75 0 1 0 -3.5 0" fill="#000"/>
<path d="M170.4 18.7a1.75 1.75 0 1 0 3.5 0a1.75 1.75 0 1 0 -3.5 0M170.7 18.8a1.75 1.75 0 1 0 3.5 0a1.75 1.75 0 1 0 -3.5 0M171.2 18.9a1.75 1.75 0 1 0 3.5 0a1.75 1.75 0 1 0 -3.5 0M171.5 19.0a1.75 1.75 0 1 0 3.5 0a1.75 1.75 0 1 0 -3.5 0M171.9 19.1a1.75 1.75 0 1 0 3.5 0a1.75 1.75 0 1 0 -3.5 0M172.4 19.2a1.75 1.75 0 1 0 3.5 0a1.75 1.75 0 1 0 -3.5 0M173.0 19.4a1.75 1.75 0 1 0 3.5 0a1.75 1.75 0 1 0 -3.5 0M173.7 19.6a1.75 1.75 0 1 0 3.5 0a1.75 1.75 0 1 0 -3.5 0M174.5 19.9a1.75 1.75 0 1 0 3.5 0a1.75 1.75 0 1 0 -3.5 0M175.6 20.2a1.75 1.75 0 1 0 3.5 0a1.75 1.75 0 1 0 -3.5 0M176.8 20.7a1.75 1.75 0 1 0 3.5 0a1.75 1.75 0 1 0 -3.5 0M178.3 21.2a1.75 1.75 0 1 0 3.5 0a1.75 1.75 0 1 0 -3.5 0M180.0 22.0a1.75 1.75 0 1 0 3.5 0a1.75 1.75 0 1 0 -3.5 0M182.0 23.0a1.75 1.75 0 1 0 3.5 0a1.75 1.75 0 1 0 -3.5 0M184.4 24.3a1.75 1.75 0 1 0 3.5 0a1.75 1.75 0 1 0 -3.5 0M187.1 26.1a1.75 1.75 0 1 0 3.5 0a1.75 1.75 0 1 0 -3.5 0M190.1 28.3a1.75 1.75 0 1 0 3.5 0a1.75 1.75 0 1 0 -3.5 0M193.3 31.2a1.75 1.75 0 1 0 3.5 0a1.75 1.75 0 1 0 -3.5 0M196.6 35.0a1.75 1.75 0 1 0 3.5 0a1.75 1.75 0 1 0 -3.5 0M199.8 39.5a1.75 1.75 0 1 0 3.5 0a1.75 1.75 0 1 0 -3.5 0M202.5 45.0a1.75 1.75 0 1 0 3.5 0a1.75 1.75 0 1 0 -3.5 0M204.6 51.2a1.75 1.75 0 1 0 3.5 0a1.75 1.75 0 1 0 -3.5 0M205.7 58.0a1.75 1.75 0 1 0 3.5 0a1.75 1.75 0 1 0 -3.5 0M205.6 64.9a1.75 1.75 0 1 0 3.5 0a1.75 1.75 0 1 0 -3.5 0M204.5 71.6a1.75 1.75 0 1 0 3.5 0a1.75 1.75 0 1 0 -3.5 0M202.3 77.8a1.75 1.75 0 1 0 3.5 0a1.75 1.75 0 1 0 -3.5 0M199.5 83.2a1.75 1.75 0 1 0 3.5 0a1.75 1.75 0 1 0 -3.5 0M196.3 87.7a1.75 1.75 0 1 0 3.5 0a1.75 1.75 0 1 0 -3.5 0M193.0 91.3a1.75 1.75 0 1 0 3.5 0a1.75 1.75 0 1 0 -3.5 0M189.8 94.2a1.75 1.75 0 1 0 3.5 0a1.75 1.75 0 1 0 -3.5 0M186.8 96.4a1.75 1.75 0 1 0 3.5 0a1.75 1.75 0 1 0 -3.5 0M184.2 98.1a1.75 1.75 0 1 0 3.5 0a1.75 1.75 0 1 0 -3.5 0M181.8 99.4a1.75 1.75 0 1 0 3.5 0a1.75 1.75 0 1 0 -3.5 0M179.8 100.4a1.75 1.75 0 1 0 3.5 0a1.75 1.75 0 1 0 -3.5 0M178.1 101.1a1.75 1.75 0 1 0 3.5 0a1.75 1.75 0 1 0 -3.5 0M176.7 101.7a1.75 1.75 0 1 0 3.5 0a1.75 1.75 0 1 0 -3.5 0M175.5 102.2a1.75 1.75 0 1 0 3.5 0a1.75 1.75 0 1 0 -3.5 0M174.5 102.7a1.75 1.75 0 1 0 3.5 0a1.75 1.75 0 1 0 -3.5 0M173.7 103.2a1.75 1.75 0 1 0 3.5 0a1.75 1.75 0 1 0 -3.5 0M173.1 103.9a1.75 1.75 0 1 0 3.5 0a1.75 1.75 0 1 0 -3.5 0M172.6 104.8a1.75 1.75 0 1 0 3.5 0a1.75 1.75 0 1 0 -3.5 0M172.2 105.9a1.75 1.75 0 1 0 3.5 0a1.75 1.75 0 1 0 -3.5 0M171.8 107.1a1.75 1.75 0 1 0 3.5 0a1.75 1.75 0 1 0 -3.5 0M171.4 108.1a1.75 1.75 0 1 0 3.5 0a1.75 1.75 0 1 0 -3.5 0M171.1 108.9a1.75 1.75 0 1 0 3.5 0a1.75 1.75 0 1 0 -3.5 0M170.8 109.4a1.75 1.75 0 1 0 3.5 0a1.75 1.75 0 1 0 -3.5 0M170.6 109.7a1.75 1.75 0 1 0 3.5 0a1.75 1.75 0 1 0 -3.5 0M170.3 109.9a1.75 1.75 0 1 0 3.5 0a1.75 1.75 0 1 0 -3.5 0M169.9 110.1a1.75 1.75 0 1 0 3.5 0a1.75 1.75 0 1 0 -3.5 0" fill="#000"/>
<path d="M178.0 18.7a1.75 1.75 0 1 0 3.5 0a1.75 1.75 0 1 0 -3.5 0M178.3 18.8a1.75 1.75 0 1 0 3.5 0a1.75 1.75 0 1 0 -3.5 0M178.8 18.9a1.75 1.75 0 1 0 3.5 0a1.75 1.75 0 1 0 -3.5 0M179.1 19.0a1.75 1.75 0 1 0 3.5 0a1.75 1.75 0 1 0 -3.5 0M179.5 19.1a1.75 1.75 0 1 0 3.5 0a1.75 1.75 0 1 0 -3.5 0M180.0 19.2a1.75 1.75 0 1 0 3.5 0a1.75 1.75 0 1 0 -3.5 0M180.6 19.4a1.75 1.75 0 1 0 3.5 0a1.75 1.75 0 1 0 -3.5 0M181.3 19.6a1.75 1.75 0 1 0 3.5 0a1.75 1.75 0 1 0 -3.5 0M182.1 19.9a1.75 1.75 0 1 0 3.5 0a1.75 1.75 0 1 0 -3.5 0M183.2 20.2a1.75 1.75 0 1 0 3.5 0a1.75 1.75 0 1 0 -3.5 0M184.4 20.7a1.75 1.75 0 1 0 3.5 0a1.75 1.75 0 1 0 -3.5 0M185.9 21.2a1.75 1.75 0 1 0 3.5 0a1.75 1.75 0 1 0 -3.5 0M187.6 22.0a1.75 1.75 0 1 0 3.5 0a1.75 1.75 0 1 0 -3.5 0M189.6 23.0a1.75 1.75 0 1 0 3.5 0a1.75 1.75 0 1 0 -3.5 0M192.0 24.3a1.75 1.75 0 1 0 3.5 0a1.75 1.75 0 1 0 -3.5 0M194.6 26.0a1.75 1.75 0 1 0 3.5 0a1.75 1.75 0 1 0 -3.5 0M197.6 28.3a1.75 1.75 0 1 0 3.5 0a1.75 1.75 0 1 0 -3.5 0M200.8 31.2a1.75 1.75 0 1 0 3.5 0a1.75 1.75 0 1 0 -3.5 0M204.1 34.9a1.75 1.75 0 1 0 3.5 0a1.75 1.75 0 1 0 -3.5 0M207.3 39.5a1.75 1.75 0 1 0 3.5 0a1.75 1.75 0 1 0 -3.5 0M210.1 44.9a1.75 1.75 0 1 0 3.5 0a1.75 1.75 0 1 0 -3.5 0M212.1 51.1a1.75 1.75 0 1 0 3.5 0a1.75 1.75 0 1 0 -3.5 0M213.2 57.9a1.75 1.75 0 1 0 3.5 0a1.75 1.75 0 1 0 -3.5 0M213.1 64.8a1.75 1.75 0 1 0 3.5 0a1.75 1.75 0 1 0 -3.5 0M212.0 71.5a1.75 1.75 0 1 0 3.5 0a1.75 1.75 0 1 0 -3.5 0M209.8 77.6a1.75 1.75 0 1 0 3.5 0a1.75 1.75 0 1 0 -3.5 0M207.0 83.0a1.75 1.75 0 1 0 3.5 0a1.75 1.75 0 1 0 -3.5 0M203.8 87.5a1.75 1.75 0 1 0 3.5 0a1.75 1.75 0 1 0 -3.5 0M200.5 91.1a1.75 1.75 0 1 0 3.5 0a1.75 1.75 0 1 0 -3.5 0M197.3 94.0a1.75 1.75 0 1 0 3.5 0a1.75 1.75 0 1 0 -3.5 0M194.4 96.2a1.75 1.75 0 1 0 3.5 0a1.75 1.75 0 1 0 -3.5 0M191.7 97.9a1.75 1.75 0 1 0 3.5 0a1.75 1.75 0 1 0 -3.5 0M189.4 99.1a1.75 1.75 0 1 0 3.5 0a1.75 1.75 0 1 0 -3.5 0M187.4 100.1a1.75 1.75 0 1 0 3.5 0a1.75 1.75 0 1 0 -3.5 0M185.7 100.9a1.75 1.75 0 1 0 3.5 0a1.75 1.75 0 1 0 -3.5 0M184.3 101.5a1.75 1.75 0 1 0 3.5 0a1.75 1.75 0 1 0 -3.5 0M183.1 102.0a1.75 1.75 0 1 0 3.5 0a1.75 1.75 0 1 0 -3.5 0M182.1 102.5a1.75 1.75 0 1 0 3.5 0a1.75 1.75 0 1 0 -3.5 0M181.3 103.0a1.75 1.75 0 1 0 3.5 0a1.75 1.75 0 1 0 -3.5 0M180.7 103.6a1.75 1.75 0 1 0 3.5 0a1.75 1.75 0 1 0 -3.5 0M180.2 104.5a1.75 1.75 0 1 0 3.5 0a1.75 1.75 0 1 0 -3.5 0M179.8 105.6a1.75 1.75 0 1 0 3.5 0a1.75 1.75 0 1 0 -3.5 0M179.4 106.8a1.75 1.75 0 1 0 3.5 0a1.75 1.75 0 1 0 -3.5 0M179.0 107.9a1.75 1.75 0 1 0 3.5 0a1.75 1.75 0 1 0 -3.5 0M178.7 108.6a1.75 1.75 0 1 0 3.5 0a1.75 1.75 0 1 0 -3.5 0M178.4 109.1a1.75 1.75 0 1 0 3.5 0a1.75 1.75 0 1 0 -3.5 0M178.2 109.4a1.75 1.75 0 1 0 3.5 0a1.75 1.75 0 1 0 -3.5 0M177.9 109.7a1.75 1.75 0 1 0 3.5 0a1.75 1.75 0 1 0 -3.5 0M177.6 109.8a1.75 1.75 0 1 0 3.5 0a1.75 1.75 0 1 0 -3.5 0" fill="#000"/>
<path d="M185.6 18.7a1.75 1.75 0 1 0 3.5 0a1.75 1.75 0 1 0 -3.5 0M185.9 18.8a1.75 1.75 0 1 0 3.5 0a1.75 1.75 0 1 0 -3.5 0M186.4 18.9a1.75 1.75 0 1 0 3.5 0a1.75 1.75 0 1 0 -3.5 0M186.8 19.0a1.75 1.75 0 1 0 3.5 0a1.75 1.75 0 1 0 -3.5 0M187.2 19.1a1.75 1.75 0 1 0 3.5 0a1.75 1.75 0 1 0 -3.5 0M187.6 19.2a1.75 1.75 0 1 0 3.5 0a1.75 1.75 0 1 0 -3.5 0M188.2 19.4a1.75 1.75 0 1 0 3.5 0a1.75 1.75 0 1 0 -3.5 0M188.9 19.6a1.75 1.75 0 1 0 3.5 0a1.75 1.75 0 1 0 -3.5 0M189.8 19.9a1.75 1.75 0 1 0 3.5 0a1.75 1.75 0 1 0 -3.5 0M190.8 20.2a1.75 1.75 0 1 0 3.5 0a1.75 1.75 0 1 0 -3.5 0M192.0 20.7a1.75 1.75 0 1 0 3.5 0a1.75 1.75 0 1 0 -3.5 0M193.5 21.2a1.75 1.75 0 1 0 3.5 0a1.75 1.75 0 1 0 -3.5 0M195.2 22.0a1.75 1.75 0 1 0 3.5 0a1.75 1.75 0 1 0 -3.5 0M197.2 23.0a1.75 1.75 0 1 0 3.5 0a1.75 1.75 0 1 0 -3.5 0M199.6 24.3a1.75 1.75 0 1 0 3.5 0a1.75 1.75 0 1 0 -3.5 0M202.3 26.1a1.75 1.75 0 1 0 3.5 0a1.75 1.75 0 1 0 -3.5 0M205.3 28.3a1.75 1.75 0 1 0 3.5 0a1.75 1.75 0 1 0 -3.5 0M208.5 31.2a1.75 1.75 0 1 0 3.5 0a1.75 1.75 0 1 0 -3.5 0M211.8 35.0a1.75 1.75 0 1 0 3.5 0a1.75 1.75 0 1 0 -3.5 0M214.9 39.5a1.75 1.75 0 1 0 3.5 0a1.75 1.75 0 1 0 -3.5 0M217.7 45.0a1.75 1.75 0 1 0 3.5 0a1.75 1.75 0 1 0 -3.5 0M219.8 51.2a1.75 1.75 0 1 0 3.5 0a1.75 1.75 0 1 0 -3.5 0M220.9 57.9a1.75 1.75 0 1 0 3.5 0a1.75 1.75 0 1 0 -3.5 0M220.8 64.8a1.75 1.75 0 1 0 3.5 0a1.75 1.75 0 1 0 -3.5 0M219.6 71.6a1.75 1.75 0 1 0 3.5 0a1.75 1.75 0 1 0 -3.5 0M217.5 77.7a1.75 1.75 0 1 0 3.5 0a1.75 1.75 0 1 0 -3.5 0M214.7 83.1a1.75 1.75 0 1 0 3.5 0a1.75 1.75 0 1 0 -3.5 0M211.5 87.6a1.75 1.75 0 1 0 3.5 0a1.75 1.75 0 1 0 -3.5 0M208.2 91.2a1.75 1.75 0 1 0 3.5 0a1.75 1.75 0 1 0 -3.5 0M205.0 94.0a1.75 1.75 0 1 0 3.5 0a1.75 1.75 0 1 0 -3.5 0M202.0 96.2a1.75 1.75 0 1 0 3.5 0a1.75 1.75 0 1 0 -3.5 0M199.4 97.9a1.75 1.75 0 1 0 3.5 0a1.75 1.75 0 1 0 -3.5 0M197.0 99.2a1.75 1.75 0 1 0 3.5 0a1.75 1.75 0 1 0 -3.5 0M195.0 100.2a1.75 1.75 0 1 0 3.5 0a1.75 1.75 0 1 0 -3.5 0M193.3 101.0a1.75 1.75 0 1 0 3.5 0a1.75 1.75 0 1 0 -3.5 0M191.9 101.6a1.75 1.75 0 1 0 3.5 0a1.75 1.75 0 1 0 -3.5 0M190.7 102.1a1.75 1.75 0 1 0 3.5 0a1.75 1.75 0 1 0 -3.5 0M189.7 102.5a1.75 1.75 0 1 0 3.5 0a1.75 1.75 0 1 0 -3.5 0M188.9 103.1a1.75 1.75 0 1 0 3.5 0a1.75 1.75 0 1 0 -3.5 0M188.3 103.7a1.75 1.75 0 1 0 3.5 0a1.75 1.75 0 1 0 -3.5 0M187.8 104.6a1.75 1.75 0 1 0 3.5 0a1.75 1.75 0 1 0 -3.5 0M187.4 105.7a1.75 1.75 0 1 0 3.5 0a1.75 1.75 0 1 0 -3.5 0M187.0 106.9a1.75 1.75 0 1 0 3.5 0a1.75 1.75 0 1 0 -3.5 0M186.7 108.0a1.75 1.75 0 1 0 3.5 0a1.75 1.75 0 1 0 -3.5 0M186.3 108.7a1.75 1.75 0 1 0 3.5 0a1.75 1.75 0 1 0 -3.5 0M186.0 109.2a1.75 1.75 0 1 0 3.5 0a1.75 1.75 0 1 0 -3.5 0M185.8 109.5a1.75 1.75 0 1 0 3.5 0a1.75 1.75 0 1 0 -3.5 0M185.5 109.8a1.75 1.75 0 1 0 3.5 0a1.75 1.75 0 1 0 -3.5 0M185.2 109.9a1.75 1.75 0 1 0 3.5 0a1.75 1.75 0 1 0 -3.5 0" fill="#000"/>
<path d="M193.2 18.7a1.75 1.75 0 1 0 3.5 0a1.75 1.75 0 1 0 -3.5 0M193.6 18.8a1.75 1.75 0 1 0 3.5 0a1.75 1.75 0 1 0 -3.5 0M194.0 18.9a1.75 1.75 0 1 0 3.5 0a1.75 1.75 0 1 0 -3.5 0M194.4 19.0a1.75 1.75 0 1 0 3.5 0a1.75 1.75 0 1 0 -3.5 0M194.8 19.1a1.75 1.75 0 1 0 3.5 0a1.75 1.75 0 1 0 -3.5 0M195.2 19.2a1.75 1.75 0 1 0 3.5 0a1.75 1.75 0 1 0 -3.5 0M195.8 19.4a1.75 1.75 0 1 0 3.5 0a1.75 1.75 0 1 0 -3.5 0M196.5 19.6a1.75 1.75 0 1 0 3.5 0a1.75 1.75 0 1 0 -3.5 0M197.4 19.9a1.75 1.75 0 1 0 3.5 0a1.75 1.75 0 1 0 -3.5 0M198.4 20.2a1.75 1.75 0 1 0 3.5 0a1.75 1.75 0 1 0 -3.5 0M199.6 20.7a1.75 1.75 0 1 0 3.5 0a1.75 1.75 0 1 0 -3.5 0M201.1 21.2a1.75 1.75 0 1 0 3.5 0a1.75 1.75 0 1 0 -3.5 0M202.8 22.0a1.75 1.75 0 1 0 3.5 0a1.75 1.75 0 1 0 -3.5 0M204.9 23.0a1.75 1.75 0 1 0 3.5 0a1.75 1.75 0 1 0 -3.5 0M207.2 24.3a1.75 1.75 0 1 0 3.5 0a1.75 1.75 0 1 0 -3.5 0M209.9 26.1a1.75 1.75 0 1 0 3.5 0a1.75 1.75 0 1 0 -3.5 0M212.9 28.3a1.75 1.75 0 1 0 3.5 0a1.75 1.75 0 1 0 -3.5 0M216.1 31.2a1.75 1.75 0 1 0 3.5 0a1.75 1.75 0 1 0 -3.5 0M219.4 34.9a1.75 1.75 0 1 0 3.5 0a1.75 1.75 0 1 0 -3.5 0M222.5 39.5a1.75 1.75 0 1 0 3.5 0a1.75 1.75 0 1 0 -3.5 0M225.3 45.0a1.75 1.75 0 1 0 3.5 0a1.75 1.75 0 1 0 -3.5 0M227.4 51.2a1.75 1.75 0 1 0 3.5 0a1.75 1.75 0 1 0 -3.5 0M228.4 57.9a1.75 1.75 0 1 0 3.5 0a1.75 1.75 0 1 0 -3.5 0M228.4 64.8a1.75 1.75 0 1 0 3.5 0a1.75 1.75 0 1 0 -3.5 0M227.2 71.5a1.75 1.75 0 1 0 3.5 0a1.75 1.75 0 1 0 -3.5 0M225.0 77.7a1.75 1.75 0 1 0 3.5 0a1.75 1.75 0 1 0 -3.5 0M222.2 83.0a1.75 1.75 0 1 0 3.5 0a1.75 1.75 0 1 0 -3.5 0M219.0 87.5a1.75 1.75 0 1 0 3.5 0a1.75 1.75 0 1 0 -3.5 0M215.7 91.1a1.75 1.75 0 1 0 3.5 0a1.75 1.75 0 1 0 -3.5 0M212.6 94.0a1.75 1.75 0 1 0 3.5 0a1.75 1.75 0 1 0 -3.5 0M209.6 96.2a1.75 1.75 0 1 0 3.5 0a1.75 1.75 0 1 0 -3.5 0M207.0 97.9a1.75 1.75 0 1 0 3.5 0a1.75 1.75 0 1 0 -3.5 0M204.6 99.2a1.75 1.75 0 1 0 3.5 0a1.75 1.75 0 1 0 -3.5 0M202.6 100.1a1.75 1.75 0 1 0 3.5 0a1.75 1.75 0 1 0 -3.5 0M200.9 100.9a1.75 1.75 0 1 0 3.5 0a1.75 1.75 0 1 0 -3.5 0M199.5 101.5a1.75 1.75 0 1 0 3.5 0a1.75 1.75 0 1 0 -3.5 0M198.3 102.0a1.75 1.75 0 1 0 3.5 0a1.75 1.75 0 1 0 -3.5 0M197.3 102.5a1.75 1.75 0 1 0 3.5 0a1.75 1.75 0 1 0 -3.5 0M196.6 103.0a1.75 1.75 0 1 0 3.5 0a1.75 1.75 0 1 0 -3.5 0M195.9 103.6a1.75 1.75 0 1 0 3.5 0a1.75 1.75 0 1 0 -3.5 0M195.5 104.5a1.75 1.75 0 1 0 3.5 0a1.75 1.75 0 1 0 -3.5 0M195.1 105.6a1.75 1.75 0 1 0 3.5 0a1.75 1.75 0 1 0 -3.5 0M194.7 106.8a1.75 1.75 0 1 0 3.5 0a1.75 1.75 0 1 0 -3.5 0M194.3 107.9a1.75 1.75 0 1 0 3.5 0a1.75 1.75 0 1 0 -3.5 0M193.9 108.7a1.75 1.75 0 1 0 3.5 0a1.75 1.75 0 1 0 -3.5 0M193.6 109.1a1.75 1.75 0 1 0 3.5 0a1.75 1.75 0 1 0 -3.5 0M193.4 109.4a1.75 1.75 0 1 0 3.5 0a1.75 1.75 0 1 0 -3.5 0M193.1 109.7a1.75 1.75 0 1 0 3.5 0a1.75 1.75 0 1 0 -3.5 0M192.8 109.8a1.75 1.75 0 1 0 3.5 0a1.75 1.75 0 1 0 -3.5 0" fill="#000"/>
<path d="M200.8 18.7a1.75 1.75 0 1 0 3.5 0a1.75 1.75 0 1 0 -3.5 0M201.2 18.8a1.75 1.75 0 1 0 3.5 0a1.75 1.75 0 1 0 -3.5 0M201.7 18.9a1.75 1.75 0 1 0 3.5 0a1.75 1.75 0 1 0 -3.5 0M202.0 19.0a1.75 1.75 0 1 0 3.5 0a1.75 1.75 0 1 0 -3.5 0M202.4 19.1a1.75 1.75 0 1 0 3.5 0a1.75 1.75 0 1 0 -3.5 0M202.9 19.2a1.75 1.75 0 1 0 3.5 0a1.75 1.75 0 1 0 -3.5 0M203.4 19.4a1.75 1.75 0 1 0 3.5 0a1.75 1.75 0 1 0 -3.5 0M204.2 19.6a1.75 1.75 0 1 0 3.5 0a1.75 1.75 0 1 0 -3.5 0M205.0 19.9a1.75 1.75 0 1 0 3.5 0a1.75 1.75 0 1 0 -3.5 0M206.0 20.2a1.75 1.75 0 1 0 3.5 0a1.75 1.75 0 1 0 -3.5 0M207.3 20.7a1.75 1.75 0 1 0 3.5 0a1.75 1.75 0 1 0 -3.5 0M208.7 21.2a1.75 1.75 0 1 0 3.5 0a1.75 1.75 0 1 0 -3.5 0M210.5 22.0a1.75 1.75 0 1 0 3.5 0a1.75 1.75 0 1 0 -3.5 0M212.5 23.0a1.75 1.75 0 1 0 3.5 0a1.75 1.75 0 1 0 -3.5 0M214.8 24.3a1.75 1.75 0 1 0 3.5 0a1.75 1.75 0 1 0 -3.5 0M217.5 26.1a1.75 1.75 0 1 0 3.5 0a1.75 1.75 0 1 0 -3.5 0M220.5 28.3a1.75 1.75 0 1 0 3.5 0a1.75 1.75 0 1 0 -3.5 0M223.7 31.3a1.75 1.75 0 1 0 3.5 0a1.75 1.75 0 1 0 -3.5 0M227.0 35.0a1.75 1.75 0 1 0 3.5 0a1.75 1.75 0 1 0 -3.5 0M230.2 39.5a1.75 1.75 0 1 0 3.5 0a1.75 1.75 0 1 0 -3.5 0M232.9 45.0a1.75 1.75 0 1 0 3.5 0a1.75 1.75 0 1 0 -3.5 0M235.0 51.2a1.75 1.75 0 1 0 3.5 0a1.75 1.75 0 1 0 -3.5 0M236.1 57.9a1.75 1.75 0 1 0 3.5 0a1.75 1.75 0 1 0 -3.5 0M236.0 64.8a1.75 1.75 0 1 0 3.5 0a1.75 1.75 0 1 0 -3.5 0M234.8 71.5a1.75 1.75 0 1 0 3.5 0a1.75 1.75 0 1 0 -3.5 0M232.7 77.7a1.75 1.75 0 1 0 3.5 0a1.75 1.75 0 1 0 -3.5 0M229.8 83.0a1.75 1.75 0 1 0 3.5 0a1.75 1.75 0 1 0 -3.5 0M226.6 87.5a1.75 1.75 0 1 0 3.5 0a1.75 1.75 0 1 0 -3.5 0M223.3 91.1a1.75 1.75 0 1 0 3.5 0a1.75 1.75 0 1 0 -3.5 0M220.2 94.0a1.75 1.75 0 1 0 3.5 0a1.75 1.75 0 1 0 -3.5 0M217.2 96.2a1.75 1.75 0 1 0 3.5 0a1.75 1.75 0 1 0 -3.5 0M214.6 97.9a1.75 1.75 0 1 0 3.5 0a1.75 1.75 0 1 0 -3.5 0M212.2 99.2a1.75 1.75 0 1 0 3.5 0a1.75 1.75 0 1 0 -3.5 0M210.2 100.1a1.75 1.75 0 1 0 3.5 0a1.75 1.75 0 1 0 -3.5 0M208.6 100.9a1.75 1.75 0 1 0 3.5 0a1.75 1.75 0 1 0 -3.5 0M207.1 101.5a1.75 1.75 0 1 0 3.5 0a1.75 1.75 0 1 0 -3.5 0M205.9 102.0a1.75 1.75 0 1 0 3.5 0a1.75 1.75 0 1 0 -3.5 0M205.0 102.5a1.75 1.75 0 1 0 3.5 0a1.75 1.75 0 1 0 -3.5 0M204.2 103.0a1.75 1.75 0 1 0 3.5 0a1.75 1.75 0 1 0 -3.5 0M203.6 103.6a1.75 1.75 0 1 0 3.5 0a1.75 1.75 0 1 0 -3.5 0M203.1 104.5a1.75 1.75 0 1 0 3.5 0a1.75 1.75 0 1 0 -3.5 0M202.7 105.6a1.75 1.75 0 1 0 3.5 0a1.75 1.75 0 1 0 -3.5 0M202.3 106.8a1.75 1.75 0 1 0 3.5 0a1.75 1.75 0 1 0 -3.5 0M201.9 107.9a1.75 1.75 0 1 0 3.5 0a1.75 1.75 0 1 0 -3.5 0M201.5 108.7a1.75 1.75 0 1 0 3.5 0a1.75 1.75 0 1 0 -3.5 0M201.3 109.2a1.75 1.75 0 1 0 3.5 0a1.75 1.75 0 1 0 -3.5 0M201.0 109.4a1.75 1.75 0 1 0 3.5 0a1.75 1.75 0 1 0 -3.5 0M200.7 109.7a1.75 1.75 0 1 0 3.5 0a1.75 1.75 0 1 0 -3.5 0M200.4 109.8a1.75 1.75 0 1 0 3.5 0a1.75 1.75 0 1 0 -3.5 0" fill="#000"/>
<path d="M208.5 18.7a1.75 1.75 0 1 0 3.5 0a1.75 1.75 0 1 0 -3.5 0M208.8 18.8a1.75 1.75 0 1 0 3.5 0a1.75 1.75 0 1 0 -3.5 0M209.3 18.9a1.75 1.75 0 1 0 3.5 0a1.75 1.75 0 1 0 -3.5 0M209.6 19.0a1.75 1.75 0 1 0 3.5 0a1.75 1.75 0 1 0 -3.5 0M210.0 19.1a1.75 1.75 0 1 0 3.5 0a1.75 1.75 0 1 0 -3.5 0M210.5 19.2a1.75 1.75 0 1 0 3.5 0a1.75 1.75 0 1 0 -3.5 0M211.1 19.4a1.75 1.75 0 1 0 3.5 0a1.75 1.75 0 1 0 -3.5 0M211.8 19.6a1.75 1.75 0 1 0 3.5 0a1.75 1.75 0 1 0 -3.5 0M212.6 19.9a1.75 1.75 0 1 0 3.5 0a1.75 1.75 0 1 0 -3.5 0M213.6 20.2a1.75 1.75 0 1 0 3.5 0a1.75 1.75 0 1 0 -3.5 0M214.9 20.7a1.75 1.75 0 1 0 3.5 0a1.75 1.75 0 1 0 -3.5 0M216.3 21.2a1.75 1.75 0 1 0 3.5 0a1.75 1.75 0 1 0 -3.5 0M218.1 22.0a1.75 1.75 0 1 0 3.5 0a1.75 1.75 0 1 0 -3.5 0M220.1 23.0a1.75 1.75 0 1 0 3.5 0a1.75 1.75 0 1 0 -3.5 0M222.4 24.3a1.75 1.75 0 1 0 3.5 0a1.75 1.75 0 1 0 -3.5 0M225.1 26.0a1.75 1.75 0 1 0 3.5 0a1.75 1.75 0 1 0 -3.5 0M228.1 28.3a1.75 1.75 0 1 0 3.5 0a1.75 1.75 0 1 0 -3.5 0M231.3 31.2a1.75 1.75 0 1 0 3.5 0a1.75 1.75 0 1 0 -3.5 0M234.6 34.9a1.75 1.75 0 1 0 3.5 0a1.75 1.75 0 1 0 -3.5 0M237.7 39.5a1.75 1.75 0 1 0 3.5 0a1.75 1.75 0 1 0 -3.5 0M240.5 44.9a1.75 1.75 0 1 0 3.5 0a1.75 1.75 0 1 0 -3.5 0M242.5 51.2a1.75 1.75 0 1 0 3.5 0a1.75 1.75 0 1 0 -3.5 0M243.6 57.9a1.75 1.75 0 1 0 3.5 0a1.75 1.75 0 1 0 -3.5 0M243.5 64.8a1.75 1.75 0 1 0 3.5 0a1.75 1.75 0 1 0 -3.5 0M242.3 71.5a1.75 1.75 0 1 0 3.5 0a1.75 1.75 0 1 0 -3.5 0M240.2 77.6a1.75 1.75 0 1 0 3.5 0a1.75 1.75 0 1 0 -3.5 0M237.4 82.9a1.75 1.75 0 1 0 3.5 0a1.75 1.75 0 1 0 -3.5 0M234.2 87.4a1.75 1.75 0 1 0 3.5 0a1.75 1.75 0 1 0 -3.5 0M230.9 91.0a1.75 1.75 0 1 0 3.5 0a1.75 1.75 0 1 0 -3.5 0M227.7 93.8a1.75 1.75 0 1 0 3.5 0a1.75 1.75 0 1 0 -3.5 0M224.8 96.0a1.75 1.75 0 1 0 3.5 0a1.75 1.75 0 1 0 -3.5 0M222.1 97.7a1.75 1.75 0 1 0 3.5 0a1.75 1.75 0 1 0 -3.5 0M219.8 99.0a1.75 1.75 0 1 0 3.5 0a1.75 1.75 0 1 0 -3.5 0M217.8 100.0a1.75 1.75 0 1 0 3.5 0a1.75 1.75 0 1 0 -3.5 0M216.1 100.7a1.75 1.75 0 1 0 3.5 0a1.75 1.75 0 1 0 -3.5 0M214.7 101.3a1.75 1.75 0 1 0 3.5 0a1.75 1.75 0 1 0 -3.5 0M213.5 101.8a1.75 1.75 0 1 0 3.5 0a1.75 1.75 0 1 0 -3.5 0M212.6 102.3a1.75 1.75 0 1 0 3.5 0a1.75 1.75 0 1 0 -3.5 0M211.8 102.8a1.75 1.75 0 1 0 3.5 0a1.75 1.75 0 1 0 -3.5 0M211.2 103.5a1.75 1.75 0 1 0 3.5 0a1.75 1.75 0 1 0 -3.5 0M210.7 104.3a1.75 1.75 0 1 0 3.5 0a1.75 1.75 0 1 0 -3.5 0M210.3 105.5a1.75 1.75 0 1 0 3.5 0a1.75 1.75 0 1 0 -3.5 0M209.9 106.7a1.75 1.75 0 1 0 3.5 0a1.75 1.75 0 1 0 -3.5 0M209.5 107.7a1.75 1.75 0 1 0 3.5 0a1.75 1.75 0 1 0 -3.5 0M209.2 108.5a1.75 1.75 0 1 0 3.5 0a1.75 1.75 0 1 0 -3.5 0M208.9 109.0a1.75 1.75 0 1 0 3.5 0a1.75 1.75 0 1 0 -3.5 0M208.6 109.3a1.75 1.75 0 1 0 3.5 0a1.75 1.75 0 1 0 -3.5 0M208.3 109.5a1.75 1.75 0 1 0 3.5 0a1.75 1.75 0 1 0 -3.5 0M208.0 109.7a1.75 1.75 0 1 0 3.5 0a1.75 1.75 0 1 0 -3.5 0" fill="#000"/>
<path d="M216.1 18.7a1.75 1.75 0 1 0 3.5 0a1.75 1.75 0 1 0 -3.5 0M216.4 18.8a1.75 1.75 0 1 0 3.5 0a1.75 1.75 0 1 0 -3.5 0M216.9 18.9a1.75 1.75 0 1 0 3.5 0a1.75 1.75 0 1 0 -3.5 0M217.2 19.0a1.75 1.75 0 1 0 3.5 0a1.75 1.75 0 1 0 -3.5 0M217.6 19.1a1.75 1.75 0 1 0 3.5 0a1.75 1.75 0 1 0 -3.5 0M218.1 19.2a1.75 1.75 0 1 0 3.5 0a1.75 1.75 0 1 0 -3.5 0M218.7 19.4a1.75 1.75 0 1 0 3.5 0a1.75 1.75 0 1 0 -3.5 0M219.4 19.6a1.75 1.75 0 1 0 3.5 0a1.75 1.75 0 1 0 -3.5 0M220.2 19.9a1.75 1.75 0 1 0 3.5 0a1.75 1.75 0 1 0 -3.5 0M221.2 20.2a1.75 1.75 0 1 0 3.5 0a1.75 1.75 0 1 0 -3.5 0M222.4 20.6a1.75 1.75 0 1 0 3.5 0a1.75 1.75 0 1 0 -3.5 0M223.9 21.2a1.75 1.75 0 1 0 3.5 0a1.75 1.75 0 1 0 -3.5 0M225.6 22.0a1.75 1.75 0 1 0 3.5 0a1.75 1.75 0 1 0 -3.5 0M227.6 23.0a1.75 1.75 0 1 0 3.5 0a1.75 1.75 0 1 0 -3.5 0M229.9 24.3a1.75 1.75 0 1 0 3.5 0a1.75 1.75 0 1 0 -3.5 0M232.6 26.0a1.75 1.75 0 1 0 3.5 0a1.75 1.75 0 1 0 -3.5 0M235.5 28.2a1.75 1.75 0 1 0 3.5 0a1.75 1.75 0 1 0 -3.5 0M238.7 31.1a1.75 1.75 0 1 0 3.5 0a1.75 1.75 0 1 0 -3.5 0M242.0 34.8a1.75 1.75 0 1 0 3.5 0a1.75 1.75 0 1 0 -3.5 0M245.1 39.3a1.75 1.75 0 1 0 3.5 0a1.75 1.75 0 1 0 -3.5 0M247.8 44.7a1.75 1.75 0 1 0 3.5 0a1.75 1.75 0 1 0 -3.5 0M249.9 50.9a1.75 1.75 0 1 0 3.5 0a1.75 1.75 0 1 0 -3.5 0M250.9 57.6a1.75 1.75 0 1 0 3.5 0a1.75 1.75 0 1 0 -3.5 0M250.8 64.4a1.75 1.75 0 1 0 3.5 0a1.75 1.75 0 1 0 -3.5 0M249.7 71.0a1.75 1.75 0 1 0 3.5 0a1.75 1.75 0 1 0 -3.5 0M247.5 77.1a1.75 1.75 0 1 0 3.5 0a1.75 1.75 0 1 0 -3.5 0M244.7 82.4a1.75 1.75 0 1 0 3.5 0a1.75 1.75 0 1 0 -3.5 0M241.6 86.8a1.75 1.75 0 1 0 3.5 0a1.75 1.75 0 1 0 -3.5 0M238.3 90.4a1.75 1.75 0 1 0 3.5 0a1.75 1.75 0 1 0 -3.5 0M235.2 93.2a1.75 1.75 0 1 0 3.5 0a1.75 1.75 0 1 0 -3.5 0M232.2 95.4a1.75 1.75 0 1 0 3.5 0a1.75 1.75 0 1 0 -3.5 0M229.6 97.0a1.75 1.75 0 1 0 3.5 0a1.75 1.75 0 1 0 -3.5 0M227.3 98.3a1.75 1.75 0 1 0 3.5 0a1.75 1.75 0 1 0 -3.5 0M225.4 99.3a1.75 1.75 0 1 0 3.5 0a1.75 1.75 0 1 0 -3.5 0M223.7 100.0a1.75 1.75 0 1 0 3.5 0a1.75 1.75 0 1 0 -3.5 0M222.3 100.6a1.75 1.75 0 1 0 3.5 0a1.75 1.75 0 1 0 -3.5 0M221.1 101.1a1.75 1.75 0 1 0 3.5 0a1.75 1.75 0 1 0 -3.5 0M220.1 101.6a1.75 1.75 0 1 0 3.5 0a1.75 1.75 0 1 0 -3.5 0M219.4 102.1a1.75 1.75 0 1 0 3.5 0a1.75 1.75 0 1 0 -3.5 0M218.8 102.7a1.75 1.75 0 1 0 3.5 0a1.75 1.75 0 1 0 -3.5 0M218.3 103.6a1.75 1.75 0 1 0 3.5 0a1.75 1.75 0 1 0 -3.5 0M217.9 104.7a1.75 1.75 0 1 0 3.5 0a1.75 1.75 0 1 0 -3.5 0M217.5 106.0a1.75 1.75 0 1 0 3.5 0a1.75 1.75 0 1 0 -3.5 0M217.1 107.0a1.75 1.75 0 1 0 3.5 0a1.75 1.75 0 1 0 -3.5 0M216.8 107.8a1.75 1.75 0 1 0 3.5 0a1.75 1.75 0 1 0 -3.5 0M216.5 108.3a1.75 1.75 0 1 0 3.5 0a1.75 1.75 0 1 0 -3.5 0M216.3 108.6a1.75 1.75 0 1 0 3.5 0a1.75 1.75 0 1 0 -3.5 0M216.0 108.8a1.75 1.75 0 1 0 3.5 0a1.75 1.75 0 1 0 -3.5 0M215.6 108.9a1.75 1.75 0 1 0 3.5 0a1.75 1.75 0 1 0 -3.5 0" fill="#000"/>
<path d="M223.7 18.7a1.75 1.75 0 1 0 3.5 0a1.75 1.75 0 1 0 -3.5 0M224.0 18.8a1.75 1.75 0 1 0 3.5 0a1.75 1.75 0 1 0 -3.5 0M224.5 18.9a1.75 1.75 0 1 0 3.5 0a1.75 1.75 0 1 0 -3.5 0M224.8 19.0a1.75 1.75 0 1 0 3.5 0a1.75 1.75 0 1 0 -3.5 0M225.2 19.1a1.75 1.75 0 1 0 3.5 0a1.75 1.75 0 1 0 -3.5 0M225.7 19.2a1.75 1.75 0 1 0 3.5 0a1.75 1.75 0 1 0 -3.5 0M226.3 19.4a1.75 1.75 0 1 0 3.5 0a1.75 1.75 0 1 0 -3.5 0M227.0 19.6a1.75 1.75 0 1 0 3.5 0a1.75 1.75 0 1 0 -3.5 0M227.8 19.9a1.75 1.75 0 1 0 3.5 0a1.75 1.75 0 1 0 -3.5 0M228.9 20.2a1.75 1.75 0 1 0 3.5 0a1.75 1.75 0 1 0 -3.5 0M230.1 20.7a1.75 1.75 0 1 0 3.5 0a1.75 1.75 0 1 0 -3.5 0M231.5 21.2a1.75 1.75 0 1 0 3.5 0a1.75 1.75 0 1 0 -3.5 0M233.3 22.0a1.75 1.75 0 1 0 3.5 0a1.75 1.75 0 1 0 -3.5 0M235.3 23.0a1.75 1.75 0 1 0 3.5 0a1.75 1.75 0 1 0 -3.5 0M237.7 24.3a1.75 1.75 0 1 0 3.5 0a1.75 1.75 0 1 0 -3.5 0M240.3 26.0a1.75 1.75 0 1 0 3.5 0a1.75 1.75 0 1 0 -3.5 0M243.3 28.3a1.75 1.75 0 1 0 3.5 0a1.75 1.75 0 1 0 -3.5 0M246.5 31.2a1.75 1.75 0 1 0 3.5 0a1.75 1.75 0 1 0 -3.5 0M249.8 34.9a1.75 1.75 0 1 0 3.5 0a1.75 1.75 0 1 0 -3.5 0M252.9 39.5a1.75 1.75 0 1 0 3.5 0a1.75 1.75 0 1 0 -3.5 0M255.7 44.9a1.75 1.75 0 1 0 3.5 0a1.75 1.75 0 1 0 -3.5 0M257.7 51.1a1.75 1.75 0 1 0 3.5 0a1.75 1.75 0 1 0 -3.5 0M258.8 57.8a1.75 1.75 0 1 0 3.5 0a1.75 1.75 0 1 0 -3.5 0M258.7 64.7a1.75 1.75 0 1 0 3.5 0a1.75 1.75 0 1 0 -3.5 0M257.5 71.4a1.75 1.75 0 1 0 3.5 0a1.75 1.75 0 1 0 -3.5 0M255.3 77.5a1.75 1.75 0 1 0 3.5 0a1.75 1.75 0 1 0 -3.5 0M252.5 82.8a1.75 1.75 0 1 0 3.5 0a1.75 1.75 0 1 0 -3.5 0M249.3 87.3a1.75 1.75 0 1 0 3.5 0a1.75 1.75 0 1 0 -3.5 0M246.1 90.9a1.75 1.75 0 1 0 3.5 0a1.75 1.75 0 1 0 -3.5 0M242.9 93.7a1.75 1.75 0 1 0 3.5 0a1.75 1.75 0 1 0 -3.5 0M240.0 95.9a1.75 1.75 0 1 0 3.5 0a1.75 1.75 0 1 0 -3.5 0M237.3 97.5a1.75 1.75 0 1 0 3.5 0a1.75 1.75 0 1 0 -3.5 0M235.0 98.8a1.75 1.75 0 1 0 3.5 0a1.75 1.75 0 1 0 -3.5 0M233.0 99.8a1.75 1.75 0 1 0 3.5 0a1.75 1.75 0 1 0 -3.5 0M231.4 100.6a1.75 1.75 0 1 0 3.5 0a1.75 1.75 0 1 0 -3.5 0M229.9 101.1a1.75 1.75 0 1 0 3.5 0a1.75 1.75 0 1 0 -3.5 0M228.8 101.6a1.75 1.75 0 1 0 3.5 0a1.75 1.75 0 1 0 -3.5 0M227.8 102.1a1.75 1.75 0 1 0 3.5 0a1.75 1.75 0 1 0 -3.5 0M227.0 102.6a1.75 1.75 0 1 0 3.5 0a1.75 1.75 0 1 0 -3.5 0M226.4 103.3a1.75 1.75 0 1 0 3.5 0a1.75 1.75 0 1 0 -3.5 0M225.9 104.2a1.75 1.75 0 1 0 3.5 0a1.75 1.75 0 1 0 -3.5 0M225.5 105.3a1.75 1.75 0 1 0 3.5 0a1.75 1.75 0 1 0 -3.5 0M225.1 106.5a1.75 1.75 0 1 0 3.5 0a1.75 1.75 0 1 0 -3.5 0M224.7 107.5a1.75 1.75 0 1 0 3.5 0a1.75 1.75 0 1 0 -3.5 0M224.4 108.3a1.75 1.75 0 1 0 3.5 0a1.75 1.75 0 1 0 -3.5 0M224.1 108.8a1.75 1.75 0 1 0 3.5 0a1.75 1.75 0 1 0 -3.5 0M223.9 109.1a1.75 1.75 0 1 0 3.5 0a1.75 1.75 0 1 0 -3.5 0M223.6 109.4a1.75 1.75 0 1 0 3.5 0a1.75 1.75 0 1 0 -3.5 0M223.3 109.5a1.75 1.75 0 1 0 3.5 0a1.75 1.75 0 1 0 -3.5 0" fill="#000"/>
<path d="M231.3 18.7a1.75 1.75 0 1 0 3.5 0a1.75 1.75 0 1 0 -3.5 0M231.6 18.8a1.75 1.75 0 1 0 3.5 0a1.75 1.75 0 1 0 -3.5 0M232.1 18.9a1.75 1.75 0 1 0 3.5 0a1.75 1.75 0 1 0 -3.5 0M232.4 19.0a1.75 1.75 0 1 0 3.5 0a1.75 1.75 0 1 0 -3.5 0M232.8 19.1a1.75 1.75 0 1 0 3.5 0a1.75 1.75 0 1 0 -3.5 0M233.3 19.2a1.75 1.75 0 1 0 3.5 0a1.75 1.75 0 1 0 -3.5 0M233.9 19.4a1.75 1.75 0 1 0 3.5 0a1.75 1.75 0 1 0 -3.5 0M234.6 19.6a1.75 1.75 0 1 0 3.5 0a1.75 1.75 0 1 0 -3.5 0M235.4 19.9a1.75 1.75 0 1 0 3.5 0a1.75 1.75 0 1 0 -3.5 0M236.5 20.2a1.75 1.75 0 1 0 3.5 0a1.75 1.75 0 1 0 -3.5 0M237.7 20.6a1.75 1.75 0 1 0 3.5 0a1.75 1.75 0 1 0 -3.5 0M239.1 21.2a1.75 1.75 0 1 0 3.5 0a1.75 1.75 0 1 0 -3.5 0M240.9 22.0a1.75 1.75 0 1 0 3.5 0a1.75 1.75 0 1 0 -3.5 0M242.9 23.0a1.75 1.75 0 1 0 3.5 0a1.75 1.75 0 1 0 -3.5 0M245.2 24.3a1.75 1.75 0 1 0 3.5 0a1.75 1.75 0 1 0 -3.5 0M247.9 26.0a1.75 1.75 0 1 0 3.5 0a1.75 1.75 0 1 0 -3.5 0M250.8 28.3a1.75 1.75 0 1 0 3.5 0a1.75 1.75 0 1 0 -3.5 0M254.0 31.2a1.75 1.75 0 1 0 3.5 0a1.75 1.75 0 1 0 -3.5 0M257.3 34.9a1.75 1.75 0 1 0 3.5 0a1.75 1.75 0 1 0 -3.5 0M260.4 39.4a1.75 1.75 0 1 0 3.5 0a1.75 1.75 0 1 0 -3.5 0M263.2 44.8a1.75 1.75 0 1 0 3.5 0a1.75 1.75 0 1 0 -3.5 0M265.2 51.0a1.75 1.75 0 1 0 3.5 0a1.75 1.75 0 1 0 -3.5 0M266.2 57.7a1.75 1.75 0 1 0 3.5 0a1.75 1.75 0 1 0 -3.5 0M266.2 64.5a1.75 1.75 0 1 0 3.5 0a1.75 1.75 0 1 0 -3.5 0M265.0 71.2a1.75 1.75 0 1 0 3.5 0a1.75 1.75 0 1 0 -3.5 0M262.8 77.3a1.75 1.75 0 1 0 3.5 0a1.75 1.75 0 1 0 -3.5 0M260.0 82.6a1.75 1.75 0 1 0 3.5 0a1.75 1.75 0 1 0 -3.5 0M256.8 87.0a1.75 1.75 0 1 0 3.5 0a1.75 1.75 0 1 0 -3.5 0M253.6 90.6a1.75 1.75 0 1 0 3.5 0a1.75 1.75 0 1 0 -3.5 0M250.4 93.4a1.75 1.75 0 1 0 3.5 0a1.75 1.75 0 1 0 -3.5 0M247.5 95.6a1.75 1.75 0 1 0 3.5 0a1.75 1.75 0 1 0 -3.5 0M244.9 97.2a1.75 1.75 0 1 0 3.5 0a1.75 1.75 0 1 0 -3.5 0M242.6 98.5a1.75 1.75 0 1 0 3.5 0a1.75 1.75 0 1 0 -3.5 0M240.6 99.5a1.75 1.75 0 1 0 3.5 0a1.75 1.75 0 1 0 -3.5 0M238.9 100.2a1.75 1.75 0 1 0 3.5 0a1.75 1.75 0 1 0 -3.5 0M237.5 100.8a1.75 1.75 0 1 0 3.5 0a1.75 1.75 0 1 0 -3.5 0M236.3 101.3a1.75 1.75 0 1 0 3.5 0a1.75 1.75 0 1 0 -3.5 0M235.4 101.8a1.75 1.75 0 1 0 3.5 0a1.75 1.75 0 1 0 -3.5 0M234.6 102.3a1.75 1.75 0 1 0 3.5 0a1.75 1.75 0 1 0 -3.5 0M234.0 102.9a1.75 1.75 0 1 0 3.5 0a1.75 1.75 0 1 0 -3.5 0M233.5 103.8a1.75 1.75 0 1 0 3.5 0a1.75 1.75 0 1 0 -3.5 0M233.1 104.9a1.75 1.75 0 1 0 3.5 0a1.75 1.75 0 1 0 -3.5 0M232.7 106.1a1.75 1.75 0 1 0 3.5 0a1.75 1.75 0 1 0 -3.5 0M232.3 107.2a1.75 1.75 0 1 0 3.5 0a1.75 1.75 0 1 0 -3.5 0M232.0 108.0a1.75 1.75 0 1 0 3.5 0a1.75 1.75 0 1 0 -3.5 0M231.7 108.5a1.75 1.75 0 1 0 3.5 0a1.75 1.75 0 1 0 -3.5 0M231.5 108.7a1.75 1.75 0 1 0 3.5 0a1.75 1.75 0 1 0 -3.5 0M231.2 109.0a1.75 1.75 0 1 0 3.5 0a1.75 1.75 0 1 0 -3.5 0M230.9 109.1a1.75 1.75 0 1 0 3.5 0a1.75 1.75 0 1 0 -3.5 0" fill="#000"/>
<path d="M238.9 18.7a1.75 1.75 0 1 0 3.5 0a1.75 1.75 0 1 0 -3.5 0M239.2 18.8a1.75 1.75 0 1 0 3.5 0a1.75 1.75 0 1 0 -3.5 0M239.7 18.9a1.75 1.75 0 1 0 3.5 0a1.75 1.75 0 1 0 -3.5 0M240.1 19.0a1.75 1.75 0 1 0 3.5 0a1.75 1.75 0 1 0 -3.5 0M240.4 19.1a1.75 1.75 0 1 0 3.5 0a1.75 1.75 0 1 0 -3.5 0M240.9 19.2a1.75 1.75 0 1 0 3.5 0a1.75 1.75 0 1 0 -3.5 0M241.5 19.4a1.75 1.75 0 1 0 3.5 0a1.75 1.75 0 1 0 -3.5 0M242.2 19.6a1.75 1.75 0 1 0 3.5 0a1.75 1.75 0 1 0 -3.5 0M243.0 19.9a1.75 1.75 0 1 0 3.5 0a1.75 1.75 0 1 0 -3.5 0M244.0 20.2a1.75 1.75 0 1 0 3.5 0a1.75 1.75 0 1 0 -3.5 0M245.3 20.6a1.75 1.75 0 1 0 3.5 0a1.75 1.75 0 1 0 -3.5 0M246.7 21.2a1.75 1.75 0 1 0 3.5 0a1.75 1.75 0 1 0 -3.5 0M248.4 22.0a1.75 1.75 0 1 0 3.5 0a1.75 1.75 0 1 0 -3.5 0M250.4 23.0a1.75 1.75 0 1 0 3.5 0a1.75 1.75 0 1 0 -3.5 0M252.7 24.3a1.75 1.75 0 1 0 3.5 0a1.75 1.75 0 1 0 -3.5 0M255.4 26.0a1.75 1.75 0 1 0 3.5 0a1.75 1.75 0 1 0 -3.5 0M258.3 28.2a1.75 1.75 0 1 0 3.5 0a1.75 1.75 0 1 0 -3.5 0M261.5 31.1a1.75 1.75 0 1 0 3.5 0a1.75 1.75 0 1 0 -3.5 0M264.7 34.8a1.75 1.75 0 1 0 3.5 0a1.75 1.75 0 1 0 -3.5 0M267.8 39.3a1.75 1.75 0 1 0 3.5 0a1.75 1.75 0 1 0 -3.5 0M270.5 44.7a1.75 1.75 0 1 0 3.5 0a1.75 1.75 0 1 0 -3.5 0M272.5 50.8a1.75 1.75 0 1 0 3.5 0a1.75 1.75 0 1 0 -3.5 0M273.6 57.4a1.75 1.75 0 1 0 3.5 0a1.75 1.75 0 1 0 -3.5 0M273.5 64.2a1.75 1.75 0 1 0 3.5 0a1.75 1.75 0 1 0 -3.5 0M272.3 70.8a1.75 1.75 0 1 0 3.5 0a1.75 1.75 0 1 0 -3.5 0M270.2 76.8a1.75 1.75 0 1 0 3.5 0a1.75 1.75 0 1 0 -3.5 0M267.4 82.1a1.75 1.75 0 1 0 3.5 0a1.75 1.75 0 1 0 -3.5 0M264.3 86.5a1.75 1.75 0 1 0 3.5 0a1.75 1.75 0 1 0 -3.5 0M261.0 90.0a1.75 1.75 0 1 0 3.5 0a1.75 1.75 0 1 0 -3.5 0M257.9 92.8a1.75 1.75 0 1 0 3.5 0a1.75 1.75 0 1 0 -3.5 0M255.0 95.0a1.75 1.75 0 1 0 3.5 0a1.75 1.75 0 1 0 -3.5 0M252.4 96.6a1.75 1.75 0 1 0 3.5 0a1.75 1.75 0 1 0 -3.5 0M250.1 97.9a1.75 1.75 0 1 0 3.5 0a1.75 1.75 0 1 0 -3.5 0M248.1 98.9a1.75 1.75 0 1 0 3.5 0a1.75 1.75 0 1 0 -3.5 0M246.5 99.6a1.75 1.75 0 1 0 3.5 0a1.75 1.75 0 1 0 -3.5 0M245.1 100.2a1.75 1.75 0 1 0 3.5 0a1.75 1.75 0 1 0 -3.5 0M243.9 100.7a1.75 1.75 0 1 0 3.5 0a1.75 1.75 0 1 0 -3.5 0M243.0 101.1a1.75 1.75 0 1 0 3.5 0a1.75 1.75 0 1 0 -3.5 0M242.2 101.7a1.75 1.75 0 1 0 3.5 0a1.75 1.75 0 1 0 -3.5 0M241.6 102.3a1.75 1.75 0 1 0 3.5 0a1.75 1.75 0 1 0 -3.5 0M241.1 103.2a1.75 1.75 0 1 0 3.5 0a1.75 1.75 0 1 0 -3.5 0M240.7 104.3a1.75 1.75 0 1 0 3.5 0a1.75 1.75 0 1 0 -3.5 0M240.3 105.5a1.75 1.75 0 1 0 3.5 0a1.75 1.75 0 1 0 -3.5 0M240.0 106.6a1.75 1.75 0 1 0 3.5 0a1.75 1.75 0 1 0 -3.5 0M239.6 107.3a1.75 1.75 0 1 0 3.5 0a1.75 1.75 0 1 0 -3.5 0M239.3 107.8a1.75 1.75 0 1 0 3.5 0a1.75 1.75 0 1 0 -3.5 0M239.1 108.1a1.75 1.75 0 1 0 3.5 0a1.75 1.75 0 1 0 -3.5 0M238.8 108.4a1.75 1.75 0 1 0 3.5 0a1.75 1.75 0 1 0 -3.5 0M238.5 108.5a1.75 1.75 0 1 0 3.5 0a1.75 1.75 0 1 0 -3.5 0" fill="#000"/>
<rect x="280.34" y="61.75" width="5.2" height="5.2" fill="#fff" stroke="#000" stroke-width="1.4"/>
<path d="M246.5 18.7a1.75 1.75 0 1 0 3.5 0a1.75 1.75 0 1 0 -3.5 0M246.9 18.8a1.75 1.75 0 1 0 3.5 0a1.75 1.75 0 1 0 -3.5 0M247.4 18.9a1.75 1.75 0 1 0 3.5 0a1.75 1.75 0 1 0 -3.5 0M247.7 19.0a1.75 1.75 0 1 0 3.5 0a1.75 1.75 0 1 0 -3.5 0M248.1 19.1a1.75 1.75 0 1 0 3.5 0a1.75 1.75 0 1 0 -3.5 0M248.5 19.2a1.75 1.75 0 1 0 3.5 0a1.75 1.75 0 1 0 -3.5 0M249.1 19.4a1.75 1.75 0 1 0 3.5 0a1.75 1.75 0 1 0 -3.5 0M249.8 19.6a1.75 1.75 0 1 0 3.5 0a1.75 1.75 0 1 0 -3.5 0M250.7 19.9a1.75 1.75 0 1 0 3.5 0a1.75 1.75 0 1 0 -3.5 0M251.7 20.2a1.75 1.75 0 1 0 3.5 0a1.75 1.75 0 1 0 -3.5 0M252.9 20.6a1.75 1.75 0 1 0 3.5 0a1.75 1.75 0 1 0 -3.5 0M254.3 21.2a1.75 1.75 0 1 0 3.5 0a1.75 1.75 0 1 0 -3.5 0M256.1 22.0a1.75 1.75 0 1 0 3.5 0a1.75 1.75 0 1 0 -3.5 0M258.1 23.0a1.75 1.75 0 1 0 3.5 0a1.75 1.75 0 1 0 -3.5 0M260.4 24.3a1.75 1.75 0 1 0 3.5 0a1.75 1.75 0 1 0 -3.5 0M263.0 26.0a1.75 1.75 0 1 0 3.5 0a1.75 1.75 0 1 0 -3.5 0M266.0 28.2a1.75 1.75 0 1 0 3.5 0a1.75 1.75 0 1 0 -3.5 0M269.2 31.1a1.75 1.75 0 1 0 3.5 0a1.75 1.75 0 1 0 -3.5 0M272.4 34.8a1.75 1.75 0 1 0 3.5 0a1.75 1.75 0 1 0 -3.5 0M275.5 39.4a1.75 1.75 0 1 0 3.5 0a1.75 1.75 0 1 0 -3.5 0M278.2 44.7a1.75 1.75 0 1 0 3.5 0a1.75 1.75 0 1 0 -3.5 0M280.2 50.9a1.75 1.75 0 1 0 3.5 0a1.75 1.75 0 1 0 -3.5 0M281.3 57.5a1.75 1.75 0 1 0 3.5 0a1.75 1.75 0 1 0 -3.5 0M280.0 70.9a1.75 1.75 0 1 0 3.5 0a1.75 1.75 0 1 0 -3.5 0M277.9 77.0a1.75 1.75 0 1 0 3.5 0a1.75 1.75 0 1 0 -3.5 0M275.1 82.2a1.75 1.75 0 1 0 3.5 0a1.75 1.75 0 1 0 -3.5 0M271.9 86.6a1.75 1.75 0 1 0 3.5 0a1.75 1.75 0 1 0 -3.5 0M268.7 90.2a1.75 1.75 0 1 0 3.5 0a1.75 1.75 0 1 0 -3.5 0M265.5 93.0a1.75 1.75 0 1 0 3.5 0a1.75 1.75 0 1 0 -3.5 0M262.6 95.2a1.75 1.75 0 1 0 3.5 0a1.75 1.75 0 1 0 -3.5 0M260.0 96.8a1.75 1.75 0 1 0 3.5 0a1.75 1.75 0 1 0 -3.5 0M257.7 98.1a1.75 1.75 0 1 0 3.5 0a1.75 1.75 0 1 0 -3.5 0M255.8 99.0a1.75 1.75 0 1 0 3.5 0a1.75 1.75 0 1 0 -3.5 0M254.1 99.8a1.75 1.75 0 1 0 3.5 0a1.75 1.75 0 1 0 -3.5 0M252.7 100.4a1.75 1.75 0 1 0 3.5 0a1.75 1.75 0 1 0 -3.5 0M251.5 100.9a1.75 1.75 0 1 0 3.5 0a1.75 1.75 0 1 0 -3.5 0M250.6 101.3a1.75 1.75 0 1 0 3.5 0a1.75 1.75 0 1 0 -3.5 0M249.8 101.8a1.75 1.75 0 1 0 3.5 0a1.75 1.75 0 1 0 -3.5 0M249.2 102.5a1.75 1.75 0 1 0 3.5 0a1.75 1.75 0 1 0 -3.5 0M248.7 103.4a1.75 1.75 0 1 0 3.5 0a1.75 1.75 0 1 0 -3.5 0M248.3 104.5a1.75 1.75 0 1 0 3.5 0a1.75 1.75 0 1 0 -3.5 0M248.0 105.7a1.75 1.75 0 1 0 3.5 0a1.75 1.75 0 1 0 -3.5 0M247.6 106.8a1.75 1.75 0 1 0 3.5 0a1.75 1.75 0 1 0 -3.5 0M247.2 107.5a1.75 1.75 0 1 0 3.5 0a1.75 1.75 0 1 0 -3.5 0M246.9 108.0a1.75 1.75 0 1 0 3.5 0a1.75 1.75 0 1 0 -3.5 0M246.7 108.3a1.75 1.75 0 1 0 3.5 0a1.75 1.75 0 1 0 -3.5 0M246.4 108.6a1.75 1.75 0 1 0 3.5 0a1.75 1.75 0 1 0 -3.5 0M246.1 108.7a1.75 1.75 0 1 0 3.5 0a1.75 1.75 0 1 0 -3.5 0" fill="#000"/>
<polyline points="42.5,120.2 50,121.4 57.5,122.3 75,121.2 92.6,120 120,119.4 150,118.9 200,118 248,117.3" fill="none" stroke="#c8312a" stroke-width="1.9" />
<line x1="42" y1="17" x2="288" y2="17" stroke="#1e1e1e" stroke-width="1.5" />
<line x1="42.5" y1="16.5" x2="42.5" y2="140" stroke="#1e1e1e" stroke-width="1" />
<line x1="287.5" y1="16.5" x2="287.5" y2="140" stroke="#1e1e1e" stroke-width="1" />
<line x1="42" y1="139.5" x2="288" y2="139.5" stroke="#1e1e1e" stroke-width="1" />
<line x1="42.5" y1="37.5" x2="46" y2="37.5" stroke="#1e1e1e" stroke-width="1" />
<line x1="42.5" y1="58.5" x2="49.5" y2="58.5" stroke="#1e1e1e" stroke-width="1" />
<line x1="42.5" y1="80.5" x2="46" y2="80.5" stroke="#1e1e1e" stroke-width="1" />
<line x1="42.5" y1="101.5" x2="49.5" y2="101.5" stroke="#1e1e1e" stroke-width="1" />
<line x1="42.5" y1="122.5" x2="46" y2="122.5" stroke="#1e1e1e" stroke-width="1" />
<line x1="287.5" y1="38.5" x2="284" y2="38.5" stroke="#1e1e1e" stroke-width="1" />
<line x1="287.5" y1="58.5" x2="280.5" y2="58.5" stroke="#1e1e1e" stroke-width="1" />
<line x1="287.5" y1="79.5" x2="284" y2="79.5" stroke="#1e1e1e" stroke-width="1" />
<line x1="287.5" y1="100.5" x2="280.5" y2="100.5" stroke="#1e1e1e" stroke-width="1" />
<line x1="287.5" y1="121.5" x2="284" y2="121.5" stroke="#1e1e1e" stroke-width="1" />
<line x1="68.5" y1="139.5" x2="68.5" y2="136" stroke="#1e1e1e" stroke-width="1" />
<line x1="93.5" y1="139.5" x2="93.5" y2="136" stroke="#1e1e1e" stroke-width="1" />
<line x1="119.5" y1="139.5" x2="119.5" y2="136" stroke="#1e1e1e" stroke-width="1" />
<line x1="144.5" y1="139.5" x2="144.5" y2="133" stroke="#1e1e1e" stroke-width="1" />
<line x1="170.5" y1="139.5" x2="170.5" y2="136" stroke="#1e1e1e" stroke-width="1" />
<line x1="196.5" y1="139.5" x2="196.5" y2="136" stroke="#1e1e1e" stroke-width="1" />
<line x1="221.5" y1="139.5" x2="221.5" y2="136" stroke="#1e1e1e" stroke-width="1" />
<line x1="247.5" y1="139.5" x2="247.5" y2="133" stroke="#1e1e1e" stroke-width="1" />
<line x1="273.5" y1="139.5" x2="273.5" y2="136" stroke="#1e1e1e" stroke-width="1" />
<text x="35.3" y="21.3" font-size="11" fill="#c8312a" text-anchor="end" >0</text>
<text x="35.3" y="63.5" font-size="11" fill="#c8312a" text-anchor="end" >10</text>
<text x="35.3" y="105.7" font-size="11" fill="#c8312a" text-anchor="end" >20</text>
<text x="291.7" y="20.6" font-size="11" fill="#000" text-anchor="start" >0</text>
<text x="291.7" y="62" font-size="11" fill="#000" text-anchor="start" >50</text>
<text x="291.7" y="104.8" font-size="11" fill="#000" text-anchor="start" >100</text>
<text x="42.5" y="157.8" font-size="11" fill="#c8312a" text-anchor="middle" >0</text>
<text x="144.95" y="157.8" font-size="11" fill="#c8312a" text-anchor="middle" >1</text>
<text x="247.4" y="157.8" font-size="11" fill="#c8312a" text-anchor="middle" >2</text>
<circle cx="77.8" cy="126.6" r="2.8" fill="none" stroke="#000" stroke-width="1.45"/>
<text x="85.7" y="129.6" font-size="11" fill="#000" text-anchor="start" >320 Hz</text>
<path d="M139.1 126.6L144.32 123.7L144.32 129.5Z" fill="#fff" stroke="#000" stroke-width="1.5" stroke-linejoin="miter"/>
<text x="152.8" y="129.6" font-size="11" fill="#000" text-anchor="start" >320 Hz</text>
<rect x="202" y="124.3" width="4.6" height="4.6" fill="#fff" stroke="#000" stroke-width="1.5"/>
<text x="214.7" y="129.6" font-size="11" fill="#000" text-anchor="start" >320 Hz</text>
<text x="43" y="11.6" font-size="11" fill="#000" text-anchor="start" >a)</text>
<text x="146.2" y="9.4" font-size="11" fill="#000" text-anchor="start" ><tspan font-style="italic">-Im</tspan>(<tspan font-style="italic">Z</tspan>)</text>
<circle cx="438.1" cy="64.73" r="2.4" fill="#fff" stroke="#000" stroke-width="1.3"/>
<path d="M403.5 18.6a1.75 1.75 0 1 0 3.5 0a1.75 1.75 0 1 0 -3.5 0M403.9 18.7a1.75 1.75 0 1 0 3.5 0a1.75 1.75 0 1 0 -3.5 0M404.4 18.8a1.75 1.75 0 1 0 3.5 0a1.75 1.75 0 1 0 -3.5 0M404.7 18.9a1.75 1.75 0 1 0 3.5 0a1.75 1.75 0 1 0 -3.5 0M405.1 19.0a1.75 1.75 0 1 0 3.5 0a1.75 1.75 0 1 0 -3.5 0M405.6 19.1a1.75 1.75 0 1 0 3.5 0a1.75 1.75 0 1 0 -3.5 0M406.2 19.3a1.75 1.75 0 1 0 3.5 0a1.75 1.75 0 1 0 -3.5 0M406.9 19.5a1.75 1.75 0 1 0 3.5 0a1.75 1.75 0 1 0 -3.5 0M407.8 19.8a1.75 1.75 0 1 0 3.5 0a1.75 1.75 0 1 0 -3.5 0M408.8 20.1a1.75 1.75 0 1 0 3.5 0a1.75 1.75 0 1 0 -3.5 0M410.0 20.6a1.75 1.75 0 1 0 3.5 0a1.75 1.75 0 1 0 -3.5 0M411.5 21.2a1.75 1.75 0 1 0 3.5 0a1.75 1.75 0 1 0 -3.5 0M413.3 22.0a1.75 1.75 0 1 0 3.5 0a1.75 1.75 0 1 0 -3.5 0M415.3 23.1a1.75 1.75 0 1 0 3.5 0a1.75 1.75 0 1 0 -3.5 0M417.7 24.4a1.75 1.75 0 1 0 3.5 0a1.75 1.75 0 1 0 -3.5 0M420.3 26.3a1.75 1.75 0 1 0 3.5 0a1.75 1.75 0 1 0 -3.5 0M423.2 28.7a1.75 1.75 0 1 0 3.5 0a1.75 1.75 0 1 0 -3.5 0M426.3 31.7a1.75 1.75 0 1 0 3.5 0a1.75 1.75 0 1 0 -3.5 0M429.4 35.5a1.75 1.75 0 1 0 3.5 0a1.75 1.75 0 1 0 -3.5 0M432.3 40.2a1.75 1.75 0 1 0 3.5 0a1.75 1.75 0 1 0 -3.5 0M434.7 45.7a1.75 1.75 0 1 0 3.5 0a1.75 1.75 0 1 0 -3.5 0M436.3 51.8a1.75 1.75 0 1 0 3.5 0a1.75 1.75 0 1 0 -3.5 0M436.9 58.2a1.75 1.75 0 1 0 3.5 0a1.75 1.75 0 1 0 -3.5 0M434.8 70.9a1.75 1.75 0 1 0 3.5 0a1.75 1.75 0 1 0 -3.5 0M432.5 76.4a1.75 1.75 0 1 0 3.5 0a1.75 1.75 0 1 0 -3.5 0M429.7 81.1a1.75 1.75 0 1 0 3.5 0a1.75 1.75 0 1 0 -3.5 0M426.6 85.0a1.75 1.75 0 1 0 3.5 0a1.75 1.75 0 1 0 -3.5 0M423.5 88.1a1.75 1.75 0 1 0 3.5 0a1.75 1.75 0 1 0 -3.5 0M420.6 90.6a1.75 1.75 0 1 0 3.5 0a1.75 1.75 0 1 0 -3.5 0M417.9 92.4a1.75 1.75 0 1 0 3.5 0a1.75 1.75 0 1 0 -3.5 0M415.5 93.9a1.75 1.75 0 1 0 3.5 0a1.75 1.75 0 1 0 -3.5 0M413.4 95.0a1.75 1.75 0 1 0 3.5 0a1.75 1.75 0 1 0 -3.5 0M411.7 95.8a1.75 1.75 0 1 0 3.5 0a1.75 1.75 0 1 0 -3.5 0M410.2 96.4a1.75 1.75 0 1 0 3.5 0a1.75 1.75 0 1 0 -3.5 0M408.9 96.9a1.75 1.75 0 1 0 3.5 0a1.75 1.75 0 1 0 -3.5 0M407.9 97.3a1.75 1.75 0 1 0 3.5 0a1.75 1.75 0 1 0 -3.5 0M407.0 97.7a1.75 1.75 0 1 0 3.5 0a1.75 1.75 0 1 0 -3.5 0M406.3 98.1a1.75 1.75 0 1 0 3.5 0a1.75 1.75 0 1 0 -3.5 0M405.8 98.7a1.75 1.75 0 1 0 3.5 0a1.75 1.75 0 1 0 -3.5 0M405.4 99.7a1.75 1.75 0 1 0 3.5 0a1.75 1.75 0 1 0 -3.5 0M405.0 101.1a1.75 1.75 0 1 0 3.5 0a1.75 1.75 0 1 0 -3.5 0M404.6 102.4a1.75 1.75 0 1 0 3.5 0a1.75 1.75 0 1 0 -3.5 0M404.2 103.3a1.75 1.75 0 1 0 3.5 0a1.75 1.75 0 1 0 -3.5 0M403.9 103.9a1.75 1.75 0 1 0 3.5 0a1.75 1.75 0 1 0 -3.5 0M403.7 104.1a1.75 1.75 0 1 0 3.5 0a1.75 1.75 0 1 0 -3.5 0M403.4 104.3a1.75 1.75 0 1 0 3.5 0a1.75 1.75 0 1 0 -3.5 0M403.1 104.4a1.75 1.75 0 1 0 3.5 0a1.75 1.75 0 1 0 -3.5 0" fill="#000"/>
<path d="M411.1 18.6a1.75 1.75 0 1 0 3.5 0a1.75 1.75 0 1 0 -3.5 0M411.5 18.6a1.75 1.75 0 1 0 3.5 0a1.75 1.75 0 1 0 -3.5 0M412.0 18.8a1.75 1.75 0 1 0 3.5 0a1.75 1.75 0 1 0 -3.5 0M412.3 18.9a1.75 1.75 0 1 0 3.5 0a1.75 1.75 0 1 0 -3.5 0M412.7 19.0a1.75 1.75 0 1 0 3.5 0a1.75 1.75 0 1 0 -3.5 0M413.2 19.1a1.75 1.75 0 1 0 3.5 0a1.75 1.75 0 1 0 -3.5 0M413.8 19.3a1.75 1.75 0 1 0 3.5 0a1.75 1.75 0 1 0 -3.5 0M414.5 19.5a1.75 1.75 0 1 0 3.5 0a1.75 1.75 0 1 0 -3.5 0M415.4 19.8a1.75 1.75 0 1 0 3.5 0a1.75 1.75 0 1 0 -3.5 0M416.4 20.1a1.75 1.75 0 1 0 3.5 0a1.75 1.75 0 1 0 -3.5 0M417.7 20.6a1.75 1.75 0 1 0 3.5 0a1.75 1.75 0 1 0 -3.5 0M419.2 21.3a1.75 1.75 0 1 0 3.5 0a1.75 1.75 0 1 0 -3.5 0M420.9 22.1a1.75 1.75 0 1 0 3.5 0a1.75 1.75 0 1 0 -3.5 0M422.9 23.2a1.75 1.75 0 1 0 3.5 0a1.75 1.75 0 1 0 -3.5 0M425.2 24.6a1.75 1.75 0 1 0 3.5 0a1.75 1.75 0 1 0 -3.5 0M427.8 26.5a1.75 1.75 0 1 0 3.5 0a1.75 1.75 0 1 0 -3.5 0M430.6 29.0a1.75 1.75 0 1 0 3.5 0a1.75 1.75 0 1 0 -3.5 0M433.5 32.1a1.75 1.75 0 1 0 3.5 0a1.75 1.75 0 1 0 -3.5 0M436.3 35.9a1.75 1.75 0 1 0 3.5 0a1.75 1.75 0 1 0 -3.5 0M438.8 40.6a1.75 1.75 0 1 0 3.5 0a1.75 1.75 0 1 0 -3.5 0M440.8 45.9a1.75 1.75 0 1 0 3.5 0a1.75 1.75 0 1 0 -3.5 0M442.0 51.8a1.75 1.75 0 1 0 3.5 0a1.75 1.75 0 1 0 -3.5 0M442.1 57.9a1.75 1.75 0 1 0 3.5 0a1.75 1.75 0 1 0 -3.5 0M441.3 63.8a1.75 1.75 0 1 0 3.5 0a1.75 1.75 0 1 0 -3.5 0M439.6 69.4a1.75 1.75 0 1 0 3.5 0a1.75 1.75 0 1 0 -3.5 0M437.2 74.3a1.75 1.75 0 1 0 3.5 0a1.75 1.75 0 1 0 -3.5 0M434.4 78.4a1.75 1.75 0 1 0 3.5 0a1.75 1.75 0 1 0 -3.5 0M431.5 81.7a1.75 1.75 0 1 0 3.5 0a1.75 1.75 0 1 0 -3.5 0M428.7 84.4a1.75 1.75 0 1 0 3.5 0a1.75 1.75 0 1 0 -3.5 0M426.0 86.4a1.75 1.75 0 1 0 3.5 0a1.75 1.75 0 1 0 -3.5 0M423.6 88.0a1.75 1.75 0 1 0 3.5 0a1.75 1.75 0 1 0 -3.5 0M421.5 89.2a1.75 1.75 0 1 0 3.5 0a1.75 1.75 0 1 0 -3.5 0M419.7 90.1a1.75 1.75 0 1 0 3.5 0a1.75 1.75 0 1 0 -3.5 0M418.1 90.8a1.75 1.75 0 1 0 3.5 0a1.75 1.75 0 1 0 -3.5 0M416.8 91.4a1.75 1.75 0 1 0 3.5 0a1.75 1.75 0 1 0 -3.5 0M415.7 91.8a1.75 1.75 0 1 0 3.5 0a1.75 1.75 0 1 0 -3.5 0M414.8 92.1a1.75 1.75 0 1 0 3.5 0a1.75 1.75 0 1 0 -3.5 0M414.1 92.5a1.75 1.75 0 1 0 3.5 0a1.75 1.75 0 1 0 -3.5 0M413.5 93.0a1.75 1.75 0 1 0 3.5 0a1.75 1.75 0 1 0 -3.5 0M413.1 93.7a1.75 1.75 0 1 0 3.5 0a1.75 1.75 0 1 0 -3.5 0M412.8 95.0a1.75 1.75 0 1 0 3.5 0a1.75 1.75 0 1 0 -3.5 0M412.5 96.7a1.75 1.75 0 1 0 3.5 0a1.75 1.75 0 1 0 -3.5 0M412.1 98.4a1.75 1.75 0 1 0 3.5 0a1.75 1.75 0 1 0 -3.5 0M411.7 99.5a1.75 1.75 0 1 0 3.5 0a1.75 1.75 0 1 0 -3.5 0M411.4 100.1a1.75 1.75 0 1 0 3.5 0a1.75 1.75 0 1 0 -3.5 0M411.2 100.4a1.75 1.75 0 1 0 3.5 0a1.75 1.75 0 1 0 -3.5 0M410.9 100.6a1.75 1.75 0 1 0 3.5 0a1.75 1.75 0 1 0 -3.5 0M410.6 100.7a1.75 1.75 0 1 0 3.5 0a1.75 1.75 0 1 0 -3.5 0" fill="#000"/>
<path d="M418.7 18.5a1.75 1.75 0 1 0 3.5 0a1.75 1.75 0 1 0 -3.5 0M419.0 18.6a1.75 1.75 0 1 0 3.5 0a1.75 1.75 0 1 0 -3.5 0M419.5 18.7a1.75 1.75 0 1 0 3.5 0a1.75 1.75 0 1 0 -3.5 0M419.8 18.8a1.75 1.75 0 1 0 3.5 0a1.75 1.75 0 1 0 -3.5 0M420.2 18.9a1.75 1.75 0 1 0 3.5 0a1.75 1.75 0 1 0 -3.5 0M420.7 19.1a1.75 1.75 0 1 0 3.5 0a1.75 1.75 0 1 0 -3.5 0M421.3 19.2a1.75 1.75 0 1 0 3.5 0a1.75 1.75 0 1 0 -3.5 0M421.9 19.4a1.75 1.75 0 1 0 3.5 0a1.75 1.75 0 1 0 -3.5 0M422.8 19.7a1.75 1.75 0 1 0 3.5 0a1.75 1.75 0 1 0 -3.5 0M423.7 20.1a1.75 1.75 0 1 0 3.5 0a1.75 1.75 0 1 0 -3.5 0M424.9 20.5a1.75 1.75 0 1 0 3.5 0a1.75 1.75 0 1 0 -3.5 0M426.3 21.2a1.75 1.75 0 1 0 3.5 0a1.75 1.75 0 1 0 -3.5 0M427.9 22.0a1.75 1.75 0 1 0 3.5 0a1.75 1.75 0 1 0 -3.5 0M429.8 23.0a1.75 1.75 0 1 0 3.5 0a1.75 1.75 0 1 0 -3.5 0M431.9 24.5a1.75 1.75 0 1 0 3.5 0a1.75 1.75 0 1 0 -3.5 0M434.3 26.3a1.75 1.75 0 1 0 3.5 0a1.75 1.75 0 1 0 -3.5 0M436.8 28.7a1.75 1.75 0 1 0 3.5 0a1.75 1.75 0 1 0 -3.5 0M439.4 31.7a1.75 1.75 0 1 0 3.5 0a1.75 1.75 0 1 0 -3.5 0M441.8 35.3a1.75 1.75 0 1 0 3.5 0a1.75 1.75 0 1 0 -3.5 0M443.9 39.7a1.75 1.75 0 1 0 3.5 0a1.75 1.75 0 1 0 -3.5 0M445.4 44.6a1.75 1.75 0 1 0 3.5 0a1.75 1.75 0 1 0 -3.5 0M446.1 49.9a1.75 1.75 0 1 0 3.5 0a1.75 1.75 0 1 0 -3.5 0M445.9 55.3a1.75 1.75 0 1 0 3.5 0a1.75 1.75 0 1 0 -3.5 0M444.8 60.4a1.75 1.75 0 1 0 3.5 0a1.75 1.75 0 1 0 -3.5 0M443.0 65.1a1.75 1.75 0 1 0 3.5 0a1.75 1.75 0 1 0 -3.5 0M440.8 69.2a1.75 1.75 0 1 0 3.5 0a1.75 1.75 0 1 0 -3.5 0M438.3 72.6a1.75 1.75 0 1 0 3.5 0a1.75 1.75 0 1 0 -3.5 0M435.7 75.3a1.75 1.75 0 1 0 3.5 0a1.75 1.75 0 1 0 -3.5 0M433.3 77.4a1.75 1.75 0 1 0 3.5 0a1.75 1.75 0 1 0 -3.5 0M431.0 79.1a1.75 1.75 0 1 0 3.5 0a1.75 1.75 0 1 0 -3.5 0M429.0 80.3a1.75 1.75 0 1 0 3.5 0a1.75 1.75 0 1 0 -3.5 0M427.2 81.3a1.75 1.75 0 1 0 3.5 0a1.75 1.75 0 1 0 -3.5 0M425.7 82.0a1.75 1.75 0 1 0 3.5 0a1.75 1.75 0 1 0 -3.5 0M424.4 82.6a1.75 1.75 0 1 0 3.5 0a1.75 1.75 0 1 0 -3.5 0M423.3 83.0a1.75 1.75 0 1 0 3.5 0a1.75 1.75 0 1 0 -3.5 0M422.4 83.3a1.75 1.75 0 1 0 3.5 0a1.75 1.75 0 1 0 -3.5 0M421.7 83.7a1.75 1.75 0 1 0 3.5 0a1.75 1.75 0 1 0 -3.5 0M421.1 84.1a1.75 1.75 0 1 0 3.5 0a1.75 1.75 0 1 0 -3.5 0M420.6 84.7a1.75 1.75 0 1 0 3.5 0a1.75 1.75 0 1 0 -3.5 0M420.4 85.8a1.75 1.75 0 1 0 3.5 0a1.75 1.75 0 1 0 -3.5 0M420.2 87.8a1.75 1.75 0 1 0 3.5 0a1.75 1.75 0 1 0 -3.5 0M420.0 90.5a1.75 1.75 0 1 0 3.5 0a1.75 1.75 0 1 0 -3.5 0M419.6 93.0a1.75 1.75 0 1 0 3.5 0a1.75 1.75 0 1 0 -3.5 0M419.2 94.6a1.75 1.75 0 1 0 3.5 0a1.75 1.75 0 1 0 -3.5 0M418.9 95.4a1.75 1.75 0 1 0 3.5 0a1.75 1.75 0 1 0 -3.5 0M418.7 95.8a1.75 1.75 0 1 0 3.5 0a1.75 1.75 0 1 0 -3.5 0M418.5 96.0a1.75 1.75 0 1 0 3.5 0a1.75 1.75 0 1 0 -3.5 0M418.2 96.1a1.75 1.75 0 1 0 3.5 0a1.75 1.75 0 1 0 -3.5 0" fill="#000"/>
<path d="M426.3 18.5a1.75 1.75 0 1 0 3.5 0a1.75 1.75 0 1 0 -3.5 0M426.6 18.6a1.75 1.75 0 1 0 3.5 0a1.75 1.75 0 1 0 -3.5 0M427.0 18.7a1.75 1.75 0 1 0 3.5 0a1.75 1.75 0 1 0 -3.5 0M427.3 18.8a1.75 1.75 0 1 0 3.5 0a1.75 1.75 0 1 0 -3.5 0M427.7 18.9a1.75 1.75 0 1 0 3.5 0a1.75 1.75 0 1 0 -3.5 0M428.1 19.0a1.75 1.75 0 1 0 3.5 0a1.75 1.75 0 1 0 -3.5 0M428.6 19.2a1.75 1.75 0 1 0 3.5 0a1.75 1.75 0 1 0 -3.5 0M429.3 19.4a1.75 1.75 0 1 0 3.5 0a1.75 1.75 0 1 0 -3.5 0M430.0 19.6a1.75 1.75 0 1 0 3.5 0a1.75 1.75 0 1 0 -3.5 0M430.9 20.0a1.75 1.75 0 1 0 3.5 0a1.75 1.75 0 1 0 -3.5 0M432.0 20.4a1.75 1.75 0 1 0 3.5 0a1.75 1.75 0 1 0 -3.5 0M433.3 21.0a1.75 1.75 0 1 0 3.5 0a1.75 1.75 0 1 0 -3.5 0M434.8 21.8a1.75 1.75 0 1 0 3.5 0a1.75 1.75 0 1 0 -3.5 0M436.5 22.8a1.75 1.75 0 1 0 3.5 0a1.75 1.75 0 1 0 -3.5 0M438.4 24.2a1.75 1.75 0 1 0 3.5 0a1.75 1.75 0 1 0 -3.5 0M440.5 25.9a1.75 1.75 0 1 0 3.5 0a1.75 1.75 0 1 0 -3.5 0M442.7 28.1a1.75 1.75 0 1 0 3.5 0a1.75 1.75 0 1 0 -3.5 0M444.9 30.9a1.75 1.75 0 1 0 3.5 0a1.75 1.75 0 1 0 -3.5 0M446.9 34.3a1.75 1.75 0 1 0 3.5 0a1.75 1.75 0 1 0 -3.5 0M448.5 38.3a1.75 1.75 0 1 0 3.5 0a1.75 1.75 0 1 0 -3.5 0M449.5 42.7a1.75 1.75 0 1 0 3.5 0a1.75 1.75 0 1 0 -3.5 0M449.8 47.3a1.75 1.75 0 1 0 3.5 0a1.75 1.75 0 1 0 -3.5 0M449.4 51.9a1.75 1.75 0 1 0 3.5 0a1.75 1.75 0 1 0 -3.5 0M448.2 56.2a1.75 1.75 0 1 0 3.5 0a1.75 1.75 0 1 0 -3.5 0M446.5 60.1a1.75 1.75 0 1 0 3.5 0a1.75 1.75 0 1 0 -3.5 0M444.5 63.3a1.75 1.75 0 1 0 3.5 0a1.75 1.75 0 1 0 -3.5 0M442.3 66.0a1.75 1.75 0 1 0 3.5 0a1.75 1.75 0 1 0 -3.5 0M440.1 68.2a1.75 1.75 0 1 0 3.5 0a1.75 1.75 0 1 0 -3.5 0M438.0 69.8a1.75 1.75 0 1 0 3.5 0a1.75 1.75 0 1 0 -3.5 0M436.1 71.1a1.75 1.75 0 1 0 3.5 0a1.75 1.75 0 1 0 -3.5 0M434.5 72.1a1.75 1.75 0 1 0 3.5 0a1.75 1.75 0 1 0 -3.5 0M433.0 72.8a1.75 1.75 0 1 0 3.5 0a1.75 1.75 0 1 0 -3.5 0M431.8 73.4a1.75 1.75 0 1 0 3.5 0a1.75 1.75 0 1 0 -3.5 0M430.8 73.8a1.75 1.75 0 1 0 3.5 0a1.75 1.75 0 1 0 -3.5 0M429.9 74.2a1.75 1.75 0 1 0 3.5 0a1.75 1.75 0 1 0 -3.5 0M429.2 74.5a1.75 1.75 0 1 0 3.5 0a1.75 1.75 0 1 0 -3.5 0M428.6 74.7a1.75 1.75 0 1 0 3.5 0a1.75 1.75 0 1 0 -3.5 0M428.1 75.1a1.75 1.75 0 1 0 3.5 0a1.75 1.75 0 1 0 -3.5 0M427.8 75.8a1.75 1.75 0 1 0 3.5 0a1.75 1.75 0 1 0 -3.5 0M427.6 77.1a1.75 1.75 0 1 0 3.5 0a1.75 1.75 0 1 0 -3.5 0M427.6 79.3a1.75 1.75 0 1 0 3.5 0a1.75 1.75 0 1 0 -3.5 0M427.4 82.1a1.75 1.75 0 1 0 3.5 0a1.75 1.75 0 1 0 -3.5 0M427.0 84.7a1.75 1.75 0 1 0 3.5 0a1.75 1.75 0 1 0 -3.5 0M426.7 86.3a1.75 1.75 0 1 0 3.5 0a1.75 1.75 0 1 0 -3.5 0M426.4 87.1a1.75 1.75 0 1 0 3.5 0a1.75 1.75 0 1 0 -3.5 0M426.2 87.5a1.75 1.75 0 1 0 3.5 0a1.75 1.75 0 1 0 -3.5 0M426.0 87.7a1.75 1.75 0 1 0 3.5 0a1.75 1.75 0 1 0 -3.5 0M425.7 87.8a1.75 1.75 0 1 0 3.5 0a1.75 1.75 0 1 0 -3.5 0" fill="#000"/>
<path d="M433.9 18.5a1.75 1.75 0 1 0 3.5 0a1.75 1.75 0 1 0 -3.5 0M434.2 18.6a1.75 1.75 0 1 0 3.5 0a1.75 1.75 0 1 0 -3.5 0M434.7 18.7a1.75 1.75 0 1 0 3.5 0a1.75 1.75 0 1 0 -3.5 0M435.0 18.8a1.75 1.75 0 1 0 3.5 0a1.75 1.75 0 1 0 -3.5 0M435.4 18.9a1.75 1.75 0 1 0 3.5 0a1.75 1.75 0 1 0 -3.5 0M435.8 19.0a1.75 1.75 0 1 0 3.5 0a1.75 1.75 0 1 0 -3.5 0M436.3 19.2a1.75 1.75 0 1 0 3.5 0a1.75 1.75 0 1 0 -3.5 0M437.0 19.4a1.75 1.75 0 1 0 3.5 0a1.75 1.75 0 1 0 -3.5 0M437.8 19.7a1.75 1.75 0 1 0 3.5 0a1.75 1.75 0 1 0 -3.5 0M438.7 20.0a1.75 1.75 0 1 0 3.5 0a1.75 1.75 0 1 0 -3.5 0M439.8 20.5a1.75 1.75 0 1 0 3.5 0a1.75 1.75 0 1 0 -3.5 0M441.1 21.1a1.75 1.75 0 1 0 3.5 0a1.75 1.75 0 1 0 -3.5 0M442.6 22.0a1.75 1.75 0 1 0 3.5 0a1.75 1.75 0 1 0 -3.5 0M444.3 23.0a1.75 1.75 0 1 0 3.5 0a1.75 1.75 0 1 0 -3.5 0M446.2 24.5a1.75 1.75 0 1 0 3.5 0a1.75 1.75 0 1 0 -3.5 0M448.2 26.3a1.75 1.75 0 1 0 3.5 0a1.75 1.75 0 1 0 -3.5 0M450.3 28.6a1.75 1.75 0 1 0 3.5 0a1.75 1.75 0 1 0 -3.5 0M452.4 31.5a1.75 1.75 0 1 0 3.5 0a1.75 1.75 0 1 0 -3.5 0M454.2 35.0a1.75 1.75 0 1 0 3.5 0a1.75 1.75 0 1 0 -3.5 0M455.5 38.9a1.75 1.75 0 1 0 3.5 0a1.75 1.75 0 1 0 -3.5 0M456.3 43.2a1.75 1.75 0 1 0 3.5 0a1.75 1.75 0 1 0 -3.5 0M456.3 47.7a1.75 1.75 0 1 0 3.5 0a1.75 1.75 0 1 0 -3.5 0M455.6 52.0a1.75 1.75 0 1 0 3.5 0a1.75 1.75 0 1 0 -3.5 0M454.3 56.0a1.75 1.75 0 1 0 3.5 0a1.75 1.75 0 1 0 -3.5 0M452.5 59.4a1.75 1.75 0 1 0 3.5 0a1.75 1.75 0 1 0 -3.5 0M450.5 62.4a1.75 1.75 0 1 0 3.5 0a1.75 1.75 0 1 0 -3.5 0M448.3 64.7a1.75 1.75 0 1 0 3.5 0a1.75 1.75 0 1 0 -3.5 0M446.3 66.6a1.75 1.75 0 1 0 3.5 0a1.75 1.75 0 1 0 -3.5 0M444.4 68.0a1.75 1.75 0 1 0 3.5 0a1.75 1.75 0 1 0 -3.5 0M442.7 69.1a1.75 1.75 0 1 0 3.5 0a1.75 1.75 0 1 0 -3.5 0M441.2 70.0a1.75 1.75 0 1 0 3.5 0a1.75 1.75 0 1 0 -3.5 0M439.9 70.6a1.75 1.75 0 1 0 3.5 0a1.75 1.75 0 1 0 -3.5 0M438.8 71.1a1.75 1.75 0 1 0 3.5 0a1.75 1.75 0 1 0 -3.5 0M437.8 71.5a1.75 1.75 0 1 0 3.5 0a1.75 1.75 0 1 0 -3.5 0M437.0 71.8a1.75 1.75 0 1 0 3.5 0a1.75 1.75 0 1 0 -3.5 0M436.4 72.0a1.75 1.75 0 1 0 3.5 0a1.75 1.75 0 1 0 -3.5 0M435.9 72.3a1.75 1.75 0 1 0 3.5 0a1.75 1.75 0 1 0 -3.5 0M435.5 72.7a1.75 1.75 0 1 0 3.5 0a1.75 1.75 0 1 0 -3.5 0M435.2 73.3a1.75 1.75 0 1 0 3.5 0a1.75 1.75 0 1 0 -3.5 0M435.0 74.4a1.75 1.75 0 1 0 3.5 0a1.75 1.75 0 1 0 -3.5 0M435.0 76.4a1.75 1.75 0 1 0 3.5 0a1.75 1.75 0 1 0 -3.5 0M434.8 78.9a1.75 1.75 0 1 0 3.5 0a1.75 1.75 0 1 0 -3.5 0M434.5 81.1a1.75 1.75 0 1 0 3.5 0a1.75 1.75 0 1 0 -3.5 0M434.1 82.4a1.75 1.75 0 1 0 3.5 0a1.75 1.75 0 1 0 -3.5 0M433.9 83.0a1.75 1.75 0 1 0 3.5 0a1.75 1.75 0 1 0 -3.5 0M433.8 83.3a1.75 1.75 0 1 0 3.5 0a1.75 1.75 0 1 0 -3.5 0M433.5 83.6a1.75 1.75 0 1 0 3.5 0a1.75 1.75 0 1 0 -3.5 0" fill="#000"/>
<path d="M441.5 18.5a1.75 1.75 0 1 0 3.5 0a1.75 1.75 0 1 0 -3.5 0M441.9 18.6a1.75 1.75 0 1 0 3.5 0a1.75 1.75 0 1 0 -3.5 0M442.3 18.7a1.75 1.75 0 1 0 3.5 0a1.75 1.75 0 1 0 -3.5 0M442.6 18.8a1.75 1.75 0 1 0 3.5 0a1.75 1.75 0 1 0 -3.5 0M443.0 18.9a1.75 1.75 0 1 0 3.5 0a1.75 1.75 0 1 0 -3.5 0M443.4 19.0a1.75 1.75 0 1 0 3.5 0a1.75 1.75 0 1 0 -3.5 0M444.0 19.2a1.75 1.75 0 1 0 3.5 0a1.75 1.75 0 1 0 -3.5 0M444.6 19.4a1.75 1.75 0 1 0 3.5 0a1.75 1.75 0 1 0 -3.5 0M445.4 19.7a1.75 1.75 0 1 0 3.5 0a1.75 1.75 0 1 0 -3.5 0M446.3 20.1a1.75 1.75 0 1 0 3.5 0a1.75 1.75 0 1 0 -3.5 0M447.4 20.5a1.75 1.75 0 1 0 3.5 0a1.75 1.75 0 1 0 -3.5 0M448.7 21.2a1.75 1.75 0 1 0 3.5 0a1.75 1.75 0 1 0 -3.5 0M450.1 22.0a1.75 1.75 0 1 0 3.5 0a1.75 1.75 0 1 0 -3.5 0M451.8 23.2a1.75 1.75 0 1 0 3.5 0a1.75 1.75 0 1 0 -3.5 0M453.6 24.6a1.75 1.75 0 1 0 3.5 0a1.75 1.75 0 1 0 -3.5 0M455.5 26.5a1.75 1.75 0 1 0 3.5 0a1.75 1.75 0 1 0 -3.5 0M457.5 28.9a1.75 1.75 0 1 0 3.5 0a1.75 1.75 0 1 0 -3.5 0M459.3 31.8a1.75 1.75 0 1 0 3.5 0a1.75 1.75 0 1 0 -3.5 0M460.9 35.2a1.75 1.75 0 1 0 3.5 0a1.75 1.75 0 1 0 -3.5 0M462.0 39.0a1.75 1.75 0 1 0 3.5 0a1.75 1.75 0 1 0 -3.5 0M462.4 43.1a1.75 1.75 0 1 0 3.5 0a1.75 1.75 0 1 0 -3.5 0M462.2 47.2a1.75 1.75 0 1 0 3.5 0a1.75 1.75 0 1 0 -3.5 0M461.3 51.1a1.75 1.75 0 1 0 3.5 0a1.75 1.75 0 1 0 -3.5 0M459.8 54.6a1.75 1.75 0 1 0 3.5 0a1.75 1.75 0 1 0 -3.5 0M458.1 57.7a1.75 1.75 0 1 0 3.5 0a1.75 1.75 0 1 0 -3.5 0M456.1 60.2a1.75 1.75 0 1 0 3.5 0a1.75 1.75 0 1 0 -3.5 0M454.2 62.2a1.75 1.75 0 1 0 3.5 0a1.75 1.75 0 1 0 -3.5 0M452.3 63.8a1.75 1.75 0 1 0 3.5 0a1.75 1.75 0 1 0 -3.5 0M450.6 65.0a1.75 1.75 0 1 0 3.5 0a1.75 1.75 0 1 0 -3.5 0M449.1 65.9a1.75 1.75 0 1 0 3.5 0a1.75 1.75 0 1 0 -3.5 0M447.7 66.6a1.75 1.75 0 1 0 3.5 0a1.75 1.75 0 1 0 -3.5 0M446.6 67.2a1.75 1.75 0 1 0 3.5 0a1.75 1.75 0 1 0 -3.5 0M445.6 67.6a1.75 1.75 0 1 0 3.5 0a1.75 1.75 0 1 0 -3.5 0M444.8 67.9a1.75 1.75 0 1 0 3.5 0a1.75 1.75 0 1 0 -3.5 0M444.2 68.2a1.75 1.75 0 1 0 3.5 0a1.75 1.75 0 1 0 -3.5 0M443.6 68.4a1.75 1.75 0 1 0 3.5 0a1.75 1.75 0 1 0 -3.5 0M443.1 68.6a1.75 1.75 0 1 0 3.5 0a1.75 1.75 0 1 0 -3.5 0M442.8 68.9a1.75 1.75 0 1 0 3.5 0a1.75 1.75 0 1 0 -3.5 0M442.6 69.5a1.75 1.75 0 1 0 3.5 0a1.75 1.75 0 1 0 -3.5 0M442.4 70.5a1.75 1.75 0 1 0 3.5 0a1.75 1.75 0 1 0 -3.5 0M442.4 72.3a1.75 1.75 0 1 0 3.5 0a1.75 1.75 0 1 0 -3.5 0M442.2 74.4a1.75 1.75 0 1 0 3.5 0a1.75 1.75 0 1 0 -3.5 0M441.9 76.1a1.75 1.75 0 1 0 3.5 0a1.75 1.75 0 1 0 -3.5 0M441.6 77.2a1.75 1.75 0 1 0 3.5 0a1.75 1.75 0 1 0 -3.5 0M441.4 77.7a1.75 1.75 0 1 0 3.5 0a1.75 1.75 0 1 0 -3.5 0M441.2 78.1a1.75 1.75 0 1 0 3.5 0a1.75 1.75 0 1 0 -3.5 0M440.9 78.2a1.75 1.75 0 1 0 3.5 0a1.75 1.75 0 1 0 -3.5 0" fill="#000"/>
<path d="M449.1 18.5a1.75 1.75 0 1 0 3.5 0a1.75 1.75 0 1 0 -3.5 0M449.5 18.6a1.75 1.75 0 1 0 3.5 0a1.75 1.75 0 1 0 -3.5 0M450.0 18.7a1.75 1.75 0 1 0 3.5 0a1.75 1.75 0 1 0 -3.5 0M450.3 18.8a1.75 1.75 0 1 0 3.5 0a1.75 1.75 0 1 0 -3.5 0M450.7 18.9a1.75 1.75 0 1 0 3.5 0a1.75 1.75 0 1 0 -3.5 0M451.2 19.1a1.75 1.75 0 1 0 3.5 0a1.75 1.75 0 1 0 -3.5 0M451.8 19.3a1.75 1.75 0 1 0 3.5 0a1.75 1.75 0 1 0 -3.5 0M452.4 19.5a1.75 1.75 0 1 0 3.5 0a1.75 1.75 0 1 0 -3.5 0M453.2 19.9a1.75 1.75 0 1 0 3.5 0a1.75 1.75 0 1 0 -3.5 0M454.1 20.3a1.75 1.75 0 1 0 3.5 0a1.75 1.75 0 1 0 -3.5 0M455.2 20.9a1.75 1.75 0 1 0 3.5 0a1.75 1.75 0 1 0 -3.5 0M456.5 21.6a1.75 1.75 0 1 0 3.5 0a1.75 1.75 0 1 0 -3.5 0M457.9 22.7a1.75 1.75 0 1 0 3.5 0a1.75 1.75 0 1 0 -3.5 0M459.4 24.0a1.75 1.75 0 1 0 3.5 0a1.75 1.75 0 1 0 -3.5 0M461.0 25.6a1.75 1.75 0 1 0 3.5 0a1.75 1.75 0 1 0 -3.5 0M462.6 27.7a1.75 1.75 0 1 0 3.5 0a1.75 1.75 0 1 0 -3.5 0M464.0 30.2a1.75 1.75 0 1 0 3.5 0a1.75 1.75 0 1 0 -3.5 0M465.1 33.1a1.75 1.75 0 1 0 3.5 0a1.75 1.75 0 1 0 -3.5 0M465.8 36.3a1.75 1.75 0 1 0 3.5 0a1.75 1.75 0 1 0 -3.5 0M465.9 39.6a1.75 1.75 0 1 0 3.5 0a1.75 1.75 0 1 0 -3.5 0M465.5 42.9a1.75 1.75 0 1 0 3.5 0a1.75 1.75 0 1 0 -3.5 0M464.6 46.0a1.75 1.75 0 1 0 3.5 0a1.75 1.75 0 1 0 -3.5 0M463.4 48.7a1.75 1.75 0 1 0 3.5 0a1.75 1.75 0 1 0 -3.5 0M461.9 51.0a1.75 1.75 0 1 0 3.5 0a1.75 1.75 0 1 0 -3.5 0M460.3 52.9a1.75 1.75 0 1 0 3.5 0a1.75 1.75 0 1 0 -3.5 0M458.7 54.4a1.75 1.75 0 1 0 3.5 0a1.75 1.75 0 1 0 -3.5 0M457.2 55.6a1.75 1.75 0 1 0 3.5 0a1.75 1.75 0 1 0 -3.5 0M455.9 56.5a1.75 1.75 0 1 0 3.5 0a1.75 1.75 0 1 0 -3.5 0M454.7 57.1a1.75 1.75 0 1 0 3.5 0a1.75 1.75 0 1 0 -3.5 0M453.7 57.7a1.75 1.75 0 1 0 3.5 0a1.75 1.75 0 1 0 -3.5 0M452.8 58.1a1.75 1.75 0 1 0 3.5 0a1.75 1.75 0 1 0 -3.5 0M452.1 58.4a1.75 1.75 0 1 0 3.5 0a1.75 1.75 0 1 0 -3.5 0M451.5 58.6a1.75 1.75 0 1 0 3.5 0a1.75 1.75 0 1 0 -3.5 0M451.0 58.8a1.75 1.75 0 1 0 3.5 0a1.75 1.75 0 1 0 -3.5 0M450.5 58.9a1.75 1.75 0 1 0 3.5 0a1.75 1.75 0 1 0 -3.5 0M450.2 59.1a1.75 1.75 0 1 0 3.5 0a1.75 1.75 0 1 0 -3.5 0M449.9 59.4a1.75 1.75 0 1 0 3.5 0a1.75 1.75 0 1 0 -3.5 0M449.8 59.8a1.75 1.75 0 1 0 3.5 0a1.75 1.75 0 1 0 -3.5 0M449.7 60.8a1.75 1.75 0 1 0 3.5 0a1.75 1.75 0 1 0 -3.5 0M449.7 62.2a1.75 1.75 0 1 0 3.5 0a1.75 1.75 0 1 0 -3.5 0M449.5 63.9a1.75 1.75 0 1 0 3.5 0a1.75 1.75 0 1 0 -3.5 0M449.3 65.3a1.75 1.75 0 1 0 3.5 0a1.75 1.75 0 1 0 -3.5 0M449.1 66.2a1.75 1.75 0 1 0 3.5 0a1.75 1.75 0 1 0 -3.5 0M448.9 66.5a1.75 1.75 0 1 0 3.5 0a1.75 1.75 0 1 0 -3.5 0M448.7 66.8a1.75 1.75 0 1 0 3.5 0a1.75 1.75 0 1 0 -3.5 0" fill="#000"/>
<path d="M456.6 18.4a1.75 1.75 0 1 0 3.5 0a1.75 1.75 0 1 0 -3.5 0M457.0 18.5a1.75 1.75 0 1 0 3.5 0a1.75 1.75 0 1 0 -3.5 0M457.5 18.6a1.75 1.75 0 1 0 3.5 0a1.75 1.75 0 1 0 -3.5 0M458.1 18.8a1.75 1.75 0 1 0 3.5 0a1.75 1.75 0 1 0 -3.5 0M458.5 19.0a1.75 1.75 0 1 0 3.5 0a1.75 1.75 0 1 0 -3.5 0M459.0 19.2a1.75 1.75 0 1 0 3.5 0a1.75 1.75 0 1 0 -3.5 0M459.6 19.4a1.75 1.75 0 1 0 3.5 0a1.75 1.75 0 1 0 -3.5 0M460.3 19.7a1.75 1.75 0 1 0 3.5 0a1.75 1.75 0 1 0 -3.5 0M461.1 20.1a1.75 1.75 0 1 0 3.5 0a1.75 1.75 0 1 0 -3.5 0M462.0 20.6a1.75 1.75 0 1 0 3.5 0a1.75 1.75 0 1 0 -3.5 0M463.1 21.3a1.75 1.75 0 1 0 3.5 0a1.75 1.75 0 1 0 -3.5 0M464.3 22.3a1.75 1.75 0 1 0 3.5 0a1.75 1.75 0 1 0 -3.5 0M465.5 23.4a1.75 1.75 0 1 0 3.5 0a1.75 1.75 0 1 0 -3.5 0M466.8 24.9a1.75 1.75 0 1 0 3.5 0a1.75 1.75 0 1 0 -3.5 0M468.1 26.8a1.75 1.75 0 1 0 3.5 0a1.75 1.75 0 1 0 -3.5 0M469.1 29.0a1.75 1.75 0 1 0 3.5 0a1.75 1.75 0 1 0 -3.5 0M469.8 31.4a1.75 1.75 0 1 0 3.5 0a1.75 1.75 0 1 0 -3.5 0M470.2 34.1a1.75 1.75 0 1 0 3.5 0a1.75 1.75 0 1 0 -3.5 0M470.0 36.9a1.75 1.75 0 1 0 3.5 0a1.75 1.75 0 1 0 -3.5 0M469.4 39.6a1.75 1.75 0 1 0 3.5 0a1.75 1.75 0 1 0 -3.5 0M468.3 42.0a1.75 1.75 0 1 0 3.5 0a1.75 1.75 0 1 0 -3.5 0M466.9 44.1a1.75 1.75 0 1 0 3.5 0a1.75 1.75 0 1 0 -3.5 0M465.3 45.9a1.75 1.75 0 1 0 3.5 0a1.75 1.75 0 1 0 -3.5 0M463.7 47.3a1.75 1.75 0 1 0 3.5 0a1.75 1.75 0 1 0 -3.5 0M462.0 48.4a1.75 1.75 0 1 0 3.5 0a1.75 1.75 0 1 0 -3.5 0M460.4 49.3a1.75 1.75 0 1 0 3.5 0a1.75 1.75 0 1 0 -3.5 0M459.0 49.9a1.75 1.75 0 1 0 3.5 0a1.75 1.75 0 1 0 -3.5 0M457.9 50.4a1.75 1.75 0 1 0 3.5 0a1.75 1.75 0 1 0 -3.5 0M457.0 50.8a1.75 1.75 0 1 0 3.5 0a1.75 1.75 0 1 0 -3.5 0M456.4 51.1a1.75 1.75 0 1 0 3.5 0a1.75 1.75 0 1 0 -3.5 0M456.1 51.3a1.75 1.75 0 1 0 3.5 0a1.75 1.75 0 1 0 -3.5 0M456.1 51.6a1.75 1.75 0 1 0 3.5 0a1.75 1.75 0 1 0 -3.5 0M456.2 51.9a1.75 1.75 0 1 0 3.5 0a1.75 1.75 0 1 0 -3.5 0M456.4 52.5a1.75 1.75 0 1 0 3.5 0a1.75 1.75 0 1 0 -3.5 0M456.6 53.3a1.75 1.75 0 1 0 3.5 0a1.75 1.75 0 1 0 -3.5 0M456.7 54.4a1.75 1.75 0 1 0 3.5 0a1.75 1.75 0 1 0 -3.5 0M456.6 55.8a1.75 1.75 0 1 0 3.5 0a1.75 1.75 0 1 0 -3.5 0M456.5 56.8a1.75 1.75 0 1 0 3.5 0a1.75 1.75 0 1 0 -3.5 0M456.4 57.4a1.75 1.75 0 1 0 3.5 0a1.75 1.75 0 1 0 -3.5 0M456.3 57.8a1.75 1.75 0 1 0 3.5 0a1.75 1.75 0 1 0 -3.5 0" fill="#000"/>
<path d="M464.2 18.4a1.75 1.75 0 1 0 3.5 0a1.75 1.75 0 1 0 -3.5 0M464.6 18.5a1.75 1.75 0 1 0 3.5 0a1.75 1.75 0 1 0 -3.5 0M465.0 18.6a1.75 1.75 0 1 0 3.5 0a1.75 1.75 0 1 0 -3.5 0M465.6 18.8a1.75 1.75 0 1 0 3.5 0a1.75 1.75 0 1 0 -3.5 0M466.0 18.9a1.75 1.75 0 1 0 3.5 0a1.75 1.75 0 1 0 -3.5 0M466.4 19.1a1.75 1.75 0 1 0 3.5 0a1.75 1.75 0 1 0 -3.5 0M467.0 19.3a1.75 1.75 0 1 0 3.5 0a1.75 1.75 0 1 0 -3.5 0M467.6 19.6a1.75 1.75 0 1 0 3.5 0a1.75 1.75 0 1 0 -3.5 0M468.3 20.0a1.75 1.75 0 1 0 3.5 0a1.75 1.75 0 1 0 -3.5 0M469.2 20.5a1.75 1.75 0 1 0 3.5 0a1.75 1.75 0 1 0 -3.5 0M470.2 21.2a1.75 1.75 0 1 0 3.5 0a1.75 1.75 0 1 0 -3.5 0M471.2 22.1a1.75 1.75 0 1 0 3.5 0a1.75 1.75 0 1 0 -3.5 0M472.3 23.2a1.75 1.75 0 1 0 3.5 0a1.75 1.75 0 1 0 -3.5 0M473.4 24.6a1.75 1.75 0 1 0 3.5 0a1.75 1.75 0 1 0 -3.5 0M474.4 26.3a1.75 1.75 0 1 0 3.5 0a1.75 1.75 0 1 0 -3.5 0M475.2 28.3a1.75 1.75 0 1 0 3.5 0a1.75 1.75 0 1 0 -3.5 0M475.6 30.6a1.75 1.75 0 1 0 3.5 0a1.75 1.75 0 1 0 -3.5 0M475.7 33.0a1.75 1.75 0 1 0 3.5 0a1.75 1.75 0 1 0 -3.5 0M475.3 35.3a1.75 1.75 0 1 0 3.5 0a1.75 1.75 0 1 0 -3.5 0M474.5 37.6a1.75 1.75 0 1 0 3.5 0a1.75 1.75 0 1 0 -3.5 0M473.3 39.6a1.75 1.75 0 1 0 3.5 0a1.75 1.75 0 1 0 -3.5 0M471.8 41.3a1.75 1.75 0 1 0 3.5 0a1.75 1.75 0 1 0 -3.5 0M470.1 42.8a1.75 1.75 0 1 0 3.5 0a1.75 1.75 0 1 0 -3.5 0M468.3 43.9a1.75 1.75 0 1 0 3.5 0a1.75 1.75 0 1 0 -3.5 0M466.5 44.8a1.75 1.75 0 1 0 3.5 0a1.75 1.75 0 1 0 -3.5 0M464.8 45.5a1.75 1.75 0 1 0 3.5 0a1.75 1.75 0 1 0 -3.5 0M463.4 46.0a1.75 1.75 0 1 0 3.5 0a1.75 1.75 0 1 0 -3.5 0M462.3 46.4a1.75 1.75 0 1 0 3.5 0a1.75 1.75 0 1 0 -3.5 0M461.6 46.7a1.75 1.75 0 1 0 3.5 0a1.75 1.75 0 1 0 -3.5 0M461.3 46.9a1.75 1.75 0 1 0 3.5 0a1.75 1.75 0 1 0 -3.5 0M461.6 47.2a1.75 1.75 0 1 0 3.5 0a1.75 1.75 0 1 0 -3.5 0M462.0 47.3a1.75 1.75 0 1 0 3.5 0a1.75 1.75 0 1 0 -3.5 0M462.5 47.4a1.75 1.75 0 1 0 3.5 0a1.75 1.75 0 1 0 -3.5 0M462.8 47.5a1.75 1.75 0 1 0 3.5 0a1.75 1.75 0 1 0 -3.5 0M463.2 47.7a1.75 1.75 0 1 0 3.5 0a1.75 1.75 0 1 0 -3.5 0M463.5 48.1a1.75 1.75 0 1 0 3.5 0a1.75 1.75 0 1 0 -3.5 0M463.7 48.7a1.75 1.75 0 1 0 3.5 0a1.75 1.75 0 1 0 -3.5 0M463.9 49.8a1.75 1.75 0 1 0 3.5 0a1.75 1.75 0 1 0 -3.5 0M464.0 50.9a1.75 1.75 0 1 0 3.5 0a1.75 1.75 0 1 0 -3.5 0M463.9 51.8a1.75 1.75 0 1 0 3.5 0a1.75 1.75 0 1 0 -3.5 0M463.9 52.3a1.75 1.75 0 1 0 3.5 0a1.75 1.75 0 1 0 -3.5 0M463.8 52.6a1.75 1.75 0 1 0 3.5 0a1.75 1.75 0 1 0 -3.5 0" fill="#000"/>
<path d="M471.8 18.4a1.75 1.75 0 1 0 3.5 0a1.75 1.75 0 1 0 -3.5 0M472.2 18.5a1.75 1.75 0 1 0 3.5 0a1.75 1.75 0 1 0 -3.5 0M472.5 18.6a1.75 1.75 0 1 0 3.5 0a1.75 1.75 0 1 0 -3.5 0M473.1 18.8a1.75 1.75 0 1 0 3.5 0a1.75 1.75 0 1 0 -3.5 0M473.4 18.9a1.75 1.75 0 1 0 3.5 0a1.75 1.75 0 1 0 -3.5 0M473.9 19.1a1.75 1.75 0 1 0 3.5 0a1.75 1.75 0 1 0 -3.5 0M474.4 19.3a1.75 1.75 0 1 0 3.5 0a1.75 1.75 0 1 0 -3.5 0M475.0 19.6a1.75 1.75 0 1 0 3.5 0a1.75 1.75 0 1 0 -3.5 0M475.7 19.9a1.75 1.75 0 1 0 3.5 0a1.75 1.75 0 1 0 -3.5 0M476.4 20.4a1.75 1.75 0 1 0 3.5 0a1.75 1.75 0 1 0 -3.5 0M477.3 21.1a1.75 1.75 0 1 0 3.5 0a1.75 1.75 0 1 0 -3.5 0M478.3 22.0a1.75 1.75 0 1 0 3.5 0a1.75 1.75 0 1 0 -3.5 0M479.2 23.0a1.75 1.75 0 1 0 3.5 0a1.75 1.75 0 1 0 -3.5 0M480.1 24.4a1.75 1.75 0 1 0 3.5 0a1.75 1.75 0 1 0 -3.5 0M480.9 26.0a1.75 1.75 0 1 0 3.5 0a1.75 1.75 0 1 0 -3.5 0M481.5 27.8a1.75 1.75 0 1 0 3.5 0a1.75 1.75 0 1 0 -3.5 0M481.7 29.9a1.75 1.75 0 1 0 3.5 0a1.75 1.75 0 1 0 -3.5 0M481.6 32.0a1.75 1.75 0 1 0 3.5 0a1.75 1.75 0 1 0 -3.5 0M481.0 34.0a1.75 1.75 0 1 0 3.5 0a1.75 1.75 0 1 0 -3.5 0M480.0 35.9a1.75 1.75 0 1 0 3.5 0a1.75 1.75 0 1 0 -3.5 0M478.7 37.6a1.75 1.75 0 1 0 3.5 0a1.75 1.75 0 1 0 -3.5 0M477.1 39.0a1.75 1.75 0 1 0 3.5 0a1.75 1.75 0 1 0 -3.5 0M475.3 40.2a1.75 1.75 0 1 0 3.5 0a1.75 1.75 0 1 0 -3.5 0M473.4 41.1a1.75 1.75 0 1 0 3.5 0a1.75 1.75 0 1 0 -3.5 0M471.6 41.8a1.75 1.75 0 1 0 3.5 0a1.75 1.75 0 1 0 -3.5 0M469.9 42.3a1.75 1.75 0 1 0 3.5 0a1.75 1.75 0 1 0 -3.5 0M468.4 42.7a1.75 1.75 0 1 0 3.5 0a1.75 1.75 0 1 0 -3.5 0M467.4 43.0a1.75 1.75 0 1 0 3.5 0a1.75 1.75 0 1 0 -3.5 0M466.9 43.3a1.75 1.75 0 1 0 3.5 0a1.75 1.75 0 1 0 -3.5 0M467.3 43.6a1.75 1.75 0 1 0 3.5 0a1.75 1.75 0 1 0 -3.5 0M467.9 43.7a1.75 1.75 0 1 0 3.5 0a1.75 1.75 0 1 0 -3.5 0M468.6 43.8a1.75 1.75 0 1 0 3.5 0a1.75 1.75 0 1 0 -3.5 0M469.2 43.9a1.75 1.75 0 1 0 3.5 0a1.75 1.75 0 1 0 -3.5 0M469.8 44.0a1.75 1.75 0 1 0 3.5 0a1.75 1.75 0 1 0 -3.5 0M470.3 44.2a1.75 1.75 0 1 0 3.5 0a1.75 1.75 0 1 0 -3.5 0M470.7 44.5a1.75 1.75 0 1 0 3.5 0a1.75 1.75 0 1 0 -3.5 0M471.0 45.1a1.75 1.75 0 1 0 3.5 0a1.75 1.75 0 1 0 -3.5 0M471.3 46.1a1.75 1.75 0 1 0 3.5 0a1.75 1.75 0 1 0 -3.5 0M471.4 47.1a1.75 1.75 0 1 0 3.5 0a1.75 1.75 0 1 0 -3.5 0M471.4 47.9a1.75 1.75 0 1 0 3.5 0a1.75 1.75 0 1 0 -3.5 0M471.4 48.3a1.75 1.75 0 1 0 3.5 0a1.75 1.75 0 1 0 -3.5 0M471.4 48.6a1.75 1.75 0 1 0 3.5 0a1.75 1.75 0 1 0 -3.5 0" fill="#000"/>
<path d="M479.4 18.4a1.75 1.75 0 1 0 3.5 0a1.75 1.75 0 1 0 -3.5 0M479.7 18.5a1.75 1.75 0 1 0 3.5 0a1.75 1.75 0 1 0 -3.5 0M480.1 18.6a1.75 1.75 0 1 0 3.5 0a1.75 1.75 0 1 0 -3.5 0M480.6 18.7a1.75 1.75 0 1 0 3.5 0a1.75 1.75 0 1 0 -3.5 0M481.0 18.9a1.75 1.75 0 1 0 3.5 0a1.75 1.75 0 1 0 -3.5 0M481.4 19.0a1.75 1.75 0 1 0 3.5 0a1.75 1.75 0 1 0 -3.5 0M481.9 19.2a1.75 1.75 0 1 0 3.5 0a1.75 1.75 0 1 0 -3.5 0M482.4 19.5a1.75 1.75 0 1 0 3.5 0a1.75 1.75 0 1 0 -3.5 0M483.1 19.9a1.75 1.75 0 1 0 3.5 0a1.75 1.75 0 1 0 -3.5 0M483.8 20.4a1.75 1.75 0 1 0 3.5 0a1.75 1.75 0 1 0 -3.5 0M484.6 21.0a1.75 1.75 0 1 0 3.5 0a1.75 1.75 0 1 0 -3.5 0M485.4 21.9a1.75 1.75 0 1 0 3.5 0a1.75 1.75 0 1 0 -3.5 0M486.3 22.9a1.75 1.75 0 1 0 3.5 0a1.75 1.75 0 1 0 -3.5 0M487.0 24.2a1.75 1.75 0 1 0 3.5 0a1.75 1.75 0 1 0 -3.5 0M487.6 25.7a1.75 1.75 0 1 0 3.5 0a1.75 1.75 0 1 0 -3.5 0M488.0 27.4a1.75 1.75 0 1 0 3.5 0a1.75 1.75 0 1 0 -3.5 0M488.1 29.3a1.75 1.75 0 1 0 3.5 0a1.75 1.75 0 1 0 -3.5 0M487.7 31.2a1.75 1.75 0 1 0 3.5 0a1.75 1.75 0 1 0 -3.5 0M487.0 32.9a1.75 1.75 0 1 0 3.5 0a1.75 1.75 0 1 0 -3.5 0M485.9 34.6a1.75 1.75 0 1 0 3.5 0a1.75 1.75 0 1 0 -3.5 0M484.5 36.0a1.75 1.75 0 1 0 3.5 0a1.75 1.75 0 1 0 -3.5 0M482.8 37.1a1.75 1.75 0 1 0 3.5 0a1.75 1.75 0 1 0 -3.5 0M480.9 38.1a1.75 1.75 0 1 0 3.5 0a1.75 1.75 0 1 0 -3.5 0M479.0 38.8a1.75 1.75 0 1 0 3.5 0a1.75 1.75 0 1 0 -3.5 0M477.1 39.4a1.75 1.75 0 1 0 3.5 0a1.75 1.75 0 1 0 -3.5 0M475.4 39.8a1.75 1.75 0 1 0 3.5 0a1.75 1.75 0 1 0 -3.5 0M474.0 40.2a1.75 1.75 0 1 0 3.5 0a1.75 1.75 0 1 0 -3.5 0M473.1 40.4a1.75 1.75 0 1 0 3.5 0a1.75 1.75 0 1 0 -3.5 0M472.9 40.6a1.75 1.75 0 1 0 3.5 0a1.75 1.75 0 1 0 -3.5 0M473.7 40.9a1.75 1.75 0 1 0 3.5 0a1.75 1.75 0 1 0 -3.5 0M474.6 40.9a1.75 1.75 0 1 0 3.5 0a1.75 1.75 0 1 0 -3.5 0M475.5 41.0a1.75 1.75 0 1 0 3.5 0a1.75 1.75 0 1 0 -3.5 0M476.3 41.1a1.75 1.75 0 1 0 3.5 0a1.75 1.75 0 1 0 -3.5 0M477.0 41.2a1.75 1.75 0 1 0 3.5 0a1.75 1.75 0 1 0 -3.5 0M477.6 41.4a1.75 1.75 0 1 0 3.5 0a1.75 1.75 0 1 0 -3.5 0M478.1 41.7a1.75 1.75 0 1 0 3.5 0a1.75 1.75 0 1 0 -3.5 0M478.5 42.3a1.75 1.75 0 1 0 3.5 0a1.75 1.75 0 1 0 -3.5 0M478.8 43.2a1.75 1.75 0 1 0 3.5 0a1.75 1.75 0 1 0 -3.5 0M478.9 44.1a1.75 1.75 0 1 0 3.5 0a1.75 1.75 0 1 0 -3.5 0M478.9 44.8a1.75 1.75 0 1 0 3.5 0a1.75 1.75 0 1 0 -3.5 0M478.9 45.1a1.75 1.75 0 1 0 3.5 0a1.75 1.75 0 1 0 -3.5 0M479.0 45.4a1.75 1.75 0 1 0 3.5 0a1.75 1.75 0 1 0 -3.5 0" fill="#000"/>
<path d="M487.0 18.4a1.75 1.75 0 1 0 3.5 0a1.75 1.75 0 1 0 -3.5 0M487.4 18.4a1.75 1.75 0 1 0 3.5 0a1.75 1.75 0 1 0 -3.5 0M487.8 18.6a1.75 1.75 0 1 0 3.5 0a1.75 1.75 0 1 0 -3.5 0M488.3 18.7a1.75 1.75 0 1 0 3.5 0a1.75 1.75 0 1 0 -3.5 0M488.7 18.9a1.75 1.75 0 1 0 3.5 0a1.75 1.75 0 1 0 -3.5 0M489.1 19.1a1.75 1.75 0 1 0 3.5 0a1.75 1.75 0 1 0 -3.5 0M489.6 19.3a1.75 1.75 0 1 0 3.5 0a1.75 1.75 0 1 0 -3.5 0M490.1 19.6a1.75 1.75 0 1 0 3.5 0a1.75 1.75 0 1 0 -3.5 0M490.8 20.0a1.75 1.75 0 1 0 3.5 0a1.75 1.75 0 1 0 -3.5 0M491.5 20.5a1.75 1.75 0 1 0 3.5 0a1.75 1.75 0 1 0 -3.5 0M492.3 21.2a1.75 1.75 0 1 0 3.5 0a1.75 1.75 0 1 0 -3.5 0M493.1 22.1a1.75 1.75 0 1 0 3.5 0a1.75 1.75 0 1 0 -3.5 0M493.9 23.2a1.75 1.75 0 1 0 3.5 0a1.75 1.75 0 1 0 -3.5 0M494.6 24.5a1.75 1.75 0 1 0 3.5 0a1.75 1.75 0 1 0 -3.5 0M495.1 26.0a1.75 1.75 0 1 0 3.5 0a1.75 1.75 0 1 0 -3.5 0M495.4 27.8a1.75 1.75 0 1 0 3.5 0a1.75 1.75 0 1 0 -3.5 0M495.3 29.6a1.75 1.75 0 1 0 3.5 0a1.75 1.75 0 1 0 -3.5 0M494.8 31.3a1.75 1.75 0 1 0 3.5 0a1.75 1.75 0 1 0 -3.5 0M494.0 33.0a1.75 1.75 0 1 0 3.5 0a1.75 1.75 0 1 0 -3.5 0M492.8 34.5a1.75 1.75 0 1 0 3.5 0a1.75 1.75 0 1 0 -3.5 0M491.4 35.8a1.75 1.75 0 1 0 3.5 0a1.75 1.75 0 1 0 -3.5 0M489.7 36.8a1.75 1.75 0 1 0 3.5 0a1.75 1.75 0 1 0 -3.5 0M487.9 37.6a1.75 1.75 0 1 0 3.5 0a1.75 1.75 0 1 0 -3.5 0M486.0 38.3a1.75 1.75 0 1 0 3.5 0a1.75 1.75 0 1 0 -3.5 0M484.2 38.8a1.75 1.75 0 1 0 3.5 0a1.75 1.75 0 1 0 -3.5 0M482.6 39.2a1.75 1.75 0 1 0 3.5 0a1.75 1.75 0 1 0 -3.5 0M481.4 39.4a1.75 1.75 0 1 0 3.5 0a1.75 1.75 0 1 0 -3.5 0M480.7 39.7a1.75 1.75 0 1 0 3.5 0a1.75 1.75 0 1 0 -3.5 0M480.9 40.0a1.75 1.75 0 1 0 3.5 0a1.75 1.75 0 1 0 -3.5 0M481.6 40.1a1.75 1.75 0 1 0 3.5 0a1.75 1.75 0 1 0 -3.5 0M482.5 40.1a1.75 1.75 0 1 0 3.5 0a1.75 1.75 0 1 0 -3.5 0M483.3 40.2a1.75 1.75 0 1 0 3.5 0a1.75 1.75 0 1 0 -3.5 0M484.1 40.3a1.75 1.75 0 1 0 3.5 0a1.75 1.75 0 1 0 -3.5 0M484.8 40.4a1.75 1.75 0 1 0 3.5 0a1.75 1.75 0 1 0 -3.5 0M485.3 40.5a1.75 1.75 0 1 0 3.5 0a1.75 1.75 0 1 0 -3.5 0M485.8 40.9a1.75 1.75 0 1 0 3.5 0a1.75 1.75 0 1 0 -3.5 0M486.2 41.5a1.75 1.75 0 1 0 3.5 0a1.75 1.75 0 1 0 -3.5 0M486.4 42.4a1.75 1.75 0 1 0 3.5 0a1.75 1.75 0 1 0 -3.5 0M486.5 43.3a1.75 1.75 0 1 0 3.5 0a1.75 1.75 0 1 0 -3.5 0M486.5 43.9a1.75 1.75 0 1 0 3.5 0a1.75 1.75 0 1 0 -3.5 0M486.6 44.3a1.75 1.75 0 1 0 3.5 0a1.75 1.75 0 1 0 -3.5 0" fill="#000"/>
<path d="M494.7 18.3a1.75 1.75 0 1 0 3.5 0a1.75 1.75 0 1 0 -3.5 0M495.0 18.4a1.75 1.75 0 1 0 3.5 0a1.75 1.75 0 1 0 -3.5 0M495.4 18.6a1.75 1.75 0 1 0 3.5 0a1.75 1.75 0 1 0 -3.5 0M495.9 18.7a1.75 1.75 0 1 0 3.5 0a1.75 1.75 0 1 0 -3.5 0M496.3 18.9a1.75 1.75 0 1 0 3.5 0a1.75 1.75 0 1 0 -3.5 0M496.7 19.1a1.75 1.75 0 1 0 3.5 0a1.75 1.75 0 1 0 -3.5 0M497.2 19.3a1.75 1.75 0 1 0 3.5 0a1.75 1.75 0 1 0 -3.5 0M497.8 19.6a1.75 1.75 0 1 0 3.5 0a1.75 1.75 0 1 0 -3.5 0M498.4 20.0a1.75 1.75 0 1 0 3.5 0a1.75 1.75 0 1 0 -3.5 0M499.1 20.6a1.75 1.75 0 1 0 3.5 0a1.75 1.75 0 1 0 -3.5 0M499.9 21.3a1.75 1.75 0 1 0 3.5 0a1.75 1.75 0 1 0 -3.5 0M500.6 22.2a1.75 1.75 0 1 0 3.5 0a1.75 1.75 0 1 0 -3.5 0M501.4 23.3a1.75 1.75 0 1 0 3.5 0a1.75 1.75 0 1 0 -3.5 0M502.0 24.6a1.75 1.75 0 1 0 3.5 0a1.75 1.75 0 1 0 -3.5 0M502.4 26.2a1.75 1.75 0 1 0 3.5 0a1.75 1.75 0 1 0 -3.5 0M502.5 27.8a1.75 1.75 0 1 0 3.5 0a1.75 1.75 0 1 0 -3.5 0M502.3 29.5a1.75 1.75 0 1 0 3.5 0a1.75 1.75 0 1 0 -3.5 0M501.7 31.1a1.75 1.75 0 1 0 3.5 0a1.75 1.75 0 1 0 -3.5 0M500.8 32.7a1.75 1.75 0 1 0 3.5 0a1.75 1.75 0 1 0 -3.5 0M499.6 34.0a1.75 1.75 0 1 0 3.5 0a1.75 1.75 0 1 0 -3.5 0M498.2 35.1a1.75 1.75 0 1 0 3.5 0a1.75 1.75 0 1 0 -3.5 0M496.6 36.0a1.75 1.75 0 1 0 3.5 0a1.75 1.75 0 1 0 -3.5 0M494.9 36.7a1.75 1.75 0 1 0 3.5 0a1.75 1.75 0 1 0 -3.5 0M493.1 37.3a1.75 1.75 0 1 0 3.5 0a1.75 1.75 0 1 0 -3.5 0M491.5 37.7a1.75 1.75 0 1 0 3.5 0a1.75 1.75 0 1 0 -3.5 0M490.0 38.0a1.75 1.75 0 1 0 3.5 0a1.75 1.75 0 1 0 -3.5 0M489.0 38.2a1.75 1.75 0 1 0 3.5 0a1.75 1.75 0 1 0 -3.5 0M488.5 38.4a1.75 1.75 0 1 0 3.5 0a1.75 1.75 0 1 0 -3.5 0M488.9 38.7a1.75 1.75 0 1 0 3.5 0a1.75 1.75 0 1 0 -3.5 0M489.6 38.8a1.75 1.75 0 1 0 3.5 0a1.75 1.75 0 1 0 -3.5 0M490.5 38.8a1.75 1.75 0 1 0 3.5 0a1.75 1.75 0 1 0 -3.5 0M491.3 38.9a1.75 1.75 0 1 0 3.5 0a1.75 1.75 0 1 0 -3.5 0M492.0 38.9a1.75 1.75 0 1 0 3.5 0a1.75 1.75 0 1 0 -3.5 0M492.6 39.0a1.75 1.75 0 1 0 3.5 0a1.75 1.75 0 1 0 -3.5 0M493.1 39.2a1.75 1.75 0 1 0 3.5 0a1.75 1.75 0 1 0 -3.5 0M493.5 39.6a1.75 1.75 0 1 0 3.5 0a1.75 1.75 0 1 0 -3.5 0M493.9 40.2a1.75 1.75 0 1 0 3.5 0a1.75 1.75 0 1 0 -3.5 0M494.1 41.1a1.75 1.75 0 1 0 3.5 0a1.75 1.75 0 1 0 -3.5 0M494.2 42.0a1.75 1.75 0 1 0 3.5 0a1.75 1.75 0 1 0 -3.5 0M494.2 42.6a1.75 1.75 0 1 0 3.5 0a1.75 1.75 0 1 0 -3.5 0M494.2 42.9a1.75 1.75 0 1 0 3.5 0a1.75 1.75 0 1 0 -3.5 0" fill="#000"/>
<path d="M507.58 29L513.34 25.8L513.34 32.2Z" fill="#fff" stroke="#000" stroke-width="1.4" stroke-linejoin="miter"/>
<path d="M502.3 18.3a1.75 1.75 0 1 0 3.5 0a1.75 1.75 0 1 0 -3.5 0M502.6 18.4a1.75 1.75 0 1 0 3.5 0a1.75 1.75 0 1 0 -3.5 0M503.0 18.5a1.75 1.75 0 1 0 3.5 0a1.75 1.75 0 1 0 -3.5 0M503.5 18.7a1.75 1.75 0 1 0 3.5 0a1.75 1.75 0 1 0 -3.5 0M503.9 18.9a1.75 1.75 0 1 0 3.5 0a1.75 1.75 0 1 0 -3.5 0M504.3 19.0a1.75 1.75 0 1 0 3.5 0a1.75 1.75 0 1 0 -3.5 0M504.7 19.3a1.75 1.75 0 1 0 3.5 0a1.75 1.75 0 1 0 -3.5 0M505.3 19.6a1.75 1.75 0 1 0 3.5 0a1.75 1.75 0 1 0 -3.5 0M505.9 20.0a1.75 1.75 0 1 0 3.5 0a1.75 1.75 0 1 0 -3.5 0M506.5 20.6a1.75 1.75 0 1 0 3.5 0a1.75 1.75 0 1 0 -3.5 0M507.2 21.3a1.75 1.75 0 1 0 3.5 0a1.75 1.75 0 1 0 -3.5 0M507.9 22.2a1.75 1.75 0 1 0 3.5 0a1.75 1.75 0 1 0 -3.5 0M508.5 23.3a1.75 1.75 0 1 0 3.5 0a1.75 1.75 0 1 0 -3.5 0M509.0 24.5a1.75 1.75 0 1 0 3.5 0a1.75 1.75 0 1 0 -3.5 0M509.3 25.9a1.75 1.75 0 1 0 3.5 0a1.75 1.75 0 1 0 -3.5 0M509.3 27.5a1.75 1.75 0 1 0 3.5 0a1.75 1.75 0 1 0 -3.5 0M508.4 30.5a1.75 1.75 0 1 0 3.5 0a1.75 1.75 0 1 0 -3.5 0M507.5 31.8a1.75 1.75 0 1 0 3.5 0a1.75 1.75 0 1 0 -3.5 0M506.4 32.9a1.75 1.75 0 1 0 3.5 0a1.75 1.75 0 1 0 -3.5 0M505.0 33.8a1.75 1.75 0 1 0 3.5 0a1.75 1.75 0 1 0 -3.5 0M503.5 34.6a1.75 1.75 0 1 0 3.5 0a1.75 1.75 0 1 0 -3.5 0M501.9 35.2a1.75 1.75 0 1 0 3.5 0a1.75 1.75 0 1 0 -3.5 0M500.4 35.6a1.75 1.75 0 1 0 3.5 0a1.75 1.75 0 1 0 -3.5 0M498.9 36.0a1.75 1.75 0 1 0 3.5 0a1.75 1.75 0 1 0 -3.5 0M497.7 36.2a1.75 1.75 0 1 0 3.5 0a1.75 1.75 0 1 0 -3.5 0M496.8 36.4a1.75 1.75 0 1 0 3.5 0a1.75 1.75 0 1 0 -3.5 0M496.5 36.6a1.75 1.75 0 1 0 3.5 0a1.75 1.75 0 1 0 -3.5 0M497.1 36.8a1.75 1.75 0 1 0 3.5 0a1.75 1.75 0 1 0 -3.5 0M497.8 36.8a1.75 1.75 0 1 0 3.5 0a1.75 1.75 0 1 0 -3.5 0M498.5 36.9a1.75 1.75 0 1 0 3.5 0a1.75 1.75 0 1 0 -3.5 0M499.3 36.9a1.75 1.75 0 1 0 3.5 0a1.75 1.75 0 1 0 -3.5 0M499.9 37.0a1.75 1.75 0 1 0 3.5 0a1.75 1.75 0 1 0 -3.5 0M500.5 37.1a1.75 1.75 0 1 0 3.5 0a1.75 1.75 0 1 0 -3.5 0M500.9 37.3a1.75 1.75 0 1 0 3.5 0a1.75 1.75 0 1 0 -3.5 0M501.3 37.6a1.75 1.75 0 1 0 3.5 0a1.75 1.75 0 1 0 -3.5 0M501.6 38.3a1.75 1.75 0 1 0 3.5 0a1.75 1.75 0 1 0 -3.5 0M501.7 39.2a1.75 1.75 0 1 0 3.5 0a1.75 1.75 0 1 0 -3.5 0M501.8 40.1a1.75 1.75 0 1 0 3.5 0a1.75 1.75 0 1 0 -3.5 0M501.8 40.6a1.75 1.75 0 1 0 3.5 0a1.75 1.75 0 1 0 -3.5 0M501.8 41.1a1.75 1.75 0 1 0 3.5 0a1.75 1.75 0 1 0 -3.5 0" fill="#000"/>
<path d="M509.9 18.3a1.75 1.75 0 1 0 3.5 0a1.75 1.75 0 1 0 -3.5 0M510.2 18.4a1.75 1.75 0 1 0 3.5 0a1.75 1.75 0 1 0 -3.5 0M510.5 18.5a1.75 1.75 0 1 0 3.5 0a1.75 1.75 0 1 0 -3.5 0M511.0 18.7a1.75 1.75 0 1 0 3.5 0a1.75 1.75 0 1 0 -3.5 0M511.3 18.8a1.75 1.75 0 1 0 3.5 0a1.75 1.75 0 1 0 -3.5 0M511.7 19.0a1.75 1.75 0 1 0 3.5 0a1.75 1.75 0 1 0 -3.5 0M512.2 19.2a1.75 1.75 0 1 0 3.5 0a1.75 1.75 0 1 0 -3.5 0M512.7 19.5a1.75 1.75 0 1 0 3.5 0a1.75 1.75 0 1 0 -3.5 0M513.2 19.9a1.75 1.75 0 1 0 3.5 0a1.75 1.75 0 1 0 -3.5 0M513.8 20.4a1.75 1.75 0 1 0 3.5 0a1.75 1.75 0 1 0 -3.5 0M514.5 21.1a1.75 1.75 0 1 0 3.5 0a1.75 1.75 0 1 0 -3.5 0M515.1 21.9a1.75 1.75 0 1 0 3.5 0a1.75 1.75 0 1 0 -3.5 0M515.7 22.9a1.75 1.75 0 1 0 3.5 0a1.75 1.75 0 1 0 -3.5 0M516.2 24.1a1.75 1.75 0 1 0 3.5 0a1.75 1.75 0 1 0 -3.5 0M516.5 25.4a1.75 1.75 0 1 0 3.5 0a1.75 1.75 0 1 0 -3.5 0M516.5 26.9a1.75 1.75 0 1 0 3.5 0a1.75 1.75 0 1 0 -3.5 0M516.2 28.3a1.75 1.75 0 1 0 3.5 0a1.75 1.75 0 1 0 -3.5 0M515.6 29.7a1.75 1.75 0 1 0 3.5 0a1.75 1.75 0 1 0 -3.5 0M514.7 30.9a1.75 1.75 0 1 0 3.5 0a1.75 1.75 0 1 0 -3.5 0M513.7 32.0a1.75 1.75 0 1 0 3.5 0a1.75 1.75 0 1 0 -3.5 0M512.4 32.8a1.75 1.75 0 1 0 3.5 0a1.75 1.75 0 1 0 -3.5 0M511.0 33.5a1.75 1.75 0 1 0 3.5 0a1.75 1.75 0 1 0 -3.5 0M509.5 34.1a1.75 1.75 0 1 0 3.5 0a1.75 1.75 0 1 0 -3.5 0M508.0 34.5a1.75 1.75 0 1 0 3.5 0a1.75 1.75 0 1 0 -3.5 0M506.6 34.8a1.75 1.75 0 1 0 3.5 0a1.75 1.75 0 1 0 -3.5 0M505.5 35.1a1.75 1.75 0 1 0 3.5 0a1.75 1.75 0 1 0 -3.5 0M504.7 35.3a1.75 1.75 0 1 0 3.5 0a1.75 1.75 0 1 0 -3.5 0M504.4 35.4a1.75 1.75 0 1 0 3.5 0a1.75 1.75 0 1 0 -3.5 0M505.0 35.6a1.75 1.75 0 1 0 3.5 0a1.75 1.75 0 1 0 -3.5 0M505.6 35.7a1.75 1.75 0 1 0 3.5 0a1.75 1.75 0 1 0 -3.5 0M506.4 35.7a1.75 1.75 0 1 0 3.5 0a1.75 1.75 0 1 0 -3.5 0M507.1 35.8a1.75 1.75 0 1 0 3.5 0a1.75 1.75 0 1 0 -3.5 0M507.7 35.8a1.75 1.75 0 1 0 3.5 0a1.75 1.75 0 1 0 -3.5 0M508.2 35.9a1.75 1.75 0 1 0 3.5 0a1.75 1.75 0 1 0 -3.5 0M508.6 36.1a1.75 1.75 0 1 0 3.5 0a1.75 1.75 0 1 0 -3.5 0M508.9 36.5a1.75 1.75 0 1 0 3.5 0a1.75 1.75 0 1 0 -3.5 0M509.2 37.2a1.75 1.75 0 1 0 3.5 0a1.75 1.75 0 1 0 -3.5 0M509.4 38.1a1.75 1.75 0 1 0 3.5 0a1.75 1.75 0 1 0 -3.5 0M509.4 38.9a1.75 1.75 0 1 0 3.5 0a1.75 1.75 0 1 0 -3.5 0M509.4 39.5a1.75 1.75 0 1 0 3.5 0a1.75 1.75 0 1 0 -3.5 0M509.4 39.8a1.75 1.75 0 1 0 3.5 0a1.75 1.75 0 1 0 -3.5 0" fill="#000"/>
<path d="M517.5 18.3a1.75 1.75 0 1 0 3.5 0a1.75 1.75 0 1 0 -3.5 0M517.8 18.4a1.75 1.75 0 1 0 3.5 0a1.75 1.75 0 1 0 -3.5 0M518.1 18.5a1.75 1.75 0 1 0 3.5 0a1.75 1.75 0 1 0 -3.5 0M518.6 18.6a1.75 1.75 0 1 0 3.5 0a1.75 1.75 0 1 0 -3.5 0M518.9 18.8a1.75 1.75 0 1 0 3.5 0a1.75 1.75 0 1 0 -3.5 0M519.2 18.9a1.75 1.75 0 1 0 3.5 0a1.75 1.75 0 1 0 -3.5 0M519.6 19.1a1.75 1.75 0 1 0 3.5 0a1.75 1.75 0 1 0 -3.5 0M520.1 19.4a1.75 1.75 0 1 0 3.5 0a1.75 1.75 0 1 0 -3.5 0M520.6 19.8a1.75 1.75 0 1 0 3.5 0a1.75 1.75 0 1 0 -3.5 0M521.2 20.3a1.75 1.75 0 1 0 3.5 0a1.75 1.75 0 1 0 -3.5 0M521.8 20.9a1.75 1.75 0 1 0 3.5 0a1.75 1.75 0 1 0 -3.5 0M522.5 21.7a1.75 1.75 0 1 0 3.5 0a1.75 1.75 0 1 0 -3.5 0M523.0 22.7a1.75 1.75 0 1 0 3.5 0a1.75 1.75 0 1 0 -3.5 0M523.4 23.8a1.75 1.75 0 1 0 3.5 0a1.75 1.75 0 1 0 -3.5 0M523.7 25.0a1.75 1.75 0 1 0 3.5 0a1.75 1.75 0 1 0 -3.5 0M523.7 26.4a1.75 1.75 0 1 0 3.5 0a1.75 1.75 0 1 0 -3.5 0M523.4 27.8a1.75 1.75 0 1 0 3.5 0a1.75 1.75 0 1 0 -3.5 0M522.9 29.0a1.75 1.75 0 1 0 3.5 0a1.75 1.75 0 1 0 -3.5 0M522.1 30.2a1.75 1.75 0 1 0 3.5 0a1.75 1.75 0 1 0 -3.5 0M521.0 31.2a1.75 1.75 0 1 0 3.5 0a1.75 1.75 0 1 0 -3.5 0M519.8 32.0a1.75 1.75 0 1 0 3.5 0a1.75 1.75 0 1 0 -3.5 0M518.5 32.7a1.75 1.75 0 1 0 3.5 0a1.75 1.75 0 1 0 -3.5 0M517.0 33.2a1.75 1.75 0 1 0 3.5 0a1.75 1.75 0 1 0 -3.5 0M515.6 33.6a1.75 1.75 0 1 0 3.5 0a1.75 1.75 0 1 0 -3.5 0M514.3 33.9a1.75 1.75 0 1 0 3.5 0a1.75 1.75 0 1 0 -3.5 0M513.2 34.2a1.75 1.75 0 1 0 3.5 0a1.75 1.75 0 1 0 -3.5 0M512.5 34.3a1.75 1.75 0 1 0 3.5 0a1.75 1.75 0 1 0 -3.5 0M512.2 34.5a1.75 1.75 0 1 0 3.5 0a1.75 1.75 0 1 0 -3.5 0M512.8 34.7a1.75 1.75 0 1 0 3.5 0a1.75 1.75 0 1 0 -3.5 0M513.4 34.7a1.75 1.75 0 1 0 3.5 0a1.75 1.75 0 1 0 -3.5 0M514.1 34.8a1.75 1.75 0 1 0 3.5 0a1.75 1.75 0 1 0 -3.5 0M514.8 34.8a1.75 1.75 0 1 0 3.5 0a1.75 1.75 0 1 0 -3.5 0M515.4 34.9a1.75 1.75 0 1 0 3.5 0a1.75 1.75 0 1 0 -3.5 0M515.9 35.0a1.75 1.75 0 1 0 3.5 0a1.75 1.75 0 1 0 -3.5 0M516.3 35.2a1.75 1.75 0 1 0 3.5 0a1.75 1.75 0 1 0 -3.5 0M516.6 35.6a1.75 1.75 0 1 0 3.5 0a1.75 1.75 0 1 0 -3.5 0M516.9 36.3a1.75 1.75 0 1 0 3.5 0a1.75 1.75 0 1 0 -3.5 0M517.0 37.2a1.75 1.75 0 1 0 3.5 0a1.75 1.75 0 1 0 -3.5 0M517.1 38.0a1.75 1.75 0 1 0 3.5 0a1.75 1.75 0 1 0 -3.5 0M517.0 38.5a1.75 1.75 0 1 0 3.5 0a1.75 1.75 0 1 0 -3.5 0M517.1 38.9a1.75 1.75 0 1 0 3.5 0a1.75 1.75 0 1 0 -3.5 0" fill="#000"/>
<path d="M525.1 18.3a1.75 1.75 0 1 0 3.5 0a1.75 1.75 0 1 0 -3.5 0M525.5 18.4a1.75 1.75 0 1 0 3.5 0a1.75 1.75 0 1 0 -3.5 0M525.8 18.5a1.75 1.75 0 1 0 3.5 0a1.75 1.75 0 1 0 -3.5 0M526.4 18.7a1.75 1.75 0 1 0 3.5 0a1.75 1.75 0 1 0 -3.5 0M526.7 18.9a1.75 1.75 0 1 0 3.5 0a1.75 1.75 0 1 0 -3.5 0M527.1 19.1a1.75 1.75 0 1 0 3.5 0a1.75 1.75 0 1 0 -3.5 0M527.6 19.3a1.75 1.75 0 1 0 3.5 0a1.75 1.75 0 1 0 -3.5 0M528.1 19.7a1.75 1.75 0 1 0 3.5 0a1.75 1.75 0 1 0 -3.5 0M528.6 20.1a1.75 1.75 0 1 0 3.5 0a1.75 1.75 0 1 0 -3.5 0M529.2 20.7a1.75 1.75 0 1 0 3.5 0a1.75 1.75 0 1 0 -3.5 0M529.8 21.5a1.75 1.75 0 1 0 3.5 0a1.75 1.75 0 1 0 -3.5 0M530.3 22.4a1.75 1.75 0 1 0 3.5 0a1.75 1.75 0 1 0 -3.5 0M530.7 23.4a1.75 1.75 0 1 0 3.5 0a1.75 1.75 0 1 0 -3.5 0M530.9 24.6a1.75 1.75 0 1 0 3.5 0a1.75 1.75 0 1 0 -3.5 0M530.9 25.9a1.75 1.75 0 1 0 3.5 0a1.75 1.75 0 1 0 -3.5 0M530.7 27.2a1.75 1.75 0 1 0 3.5 0a1.75 1.75 0 1 0 -3.5 0M530.2 28.4a1.75 1.75 0 1 0 3.5 0a1.75 1.75 0 1 0 -3.5 0M529.4 29.5a1.75 1.75 0 1 0 3.5 0a1.75 1.75 0 1 0 -3.5 0M528.4 30.5a1.75 1.75 0 1 0 3.5 0a1.75 1.75 0 1 0 -3.5 0M527.2 31.3a1.75 1.75 0 1 0 3.5 0a1.75 1.75 0 1 0 -3.5 0M526.0 31.9a1.75 1.75 0 1 0 3.5 0a1.75 1.75 0 1 0 -3.5 0M524.6 32.4a1.75 1.75 0 1 0 3.5 0a1.75 1.75 0 1 0 -3.5 0M523.3 32.8a1.75 1.75 0 1 0 3.5 0a1.75 1.75 0 1 0 -3.5 0M522.0 33.0a1.75 1.75 0 1 0 3.5 0a1.75 1.75 0 1 0 -3.5 0M521.0 33.3a1.75 1.75 0 1 0 3.5 0a1.75 1.75 0 1 0 -3.5 0M520.3 33.4a1.75 1.75 0 1 0 3.5 0a1.75 1.75 0 1 0 -3.5 0M520.6 33.7a1.75 1.75 0 1 0 3.5 0a1.75 1.75 0 1 0 -3.5 0M521.3 33.8a1.75 1.75 0 1 0 3.5 0a1.75 1.75 0 1 0 -3.5 0M521.9 33.8a1.75 1.75 0 1 0 3.5 0a1.75 1.75 0 1 0 -3.5 0M522.6 33.9a1.75 1.75 0 1 0 3.5 0a1.75 1.75 0 1 0 -3.5 0M523.1 33.9a1.75 1.75 0 1 0 3.5 0a1.75 1.75 0 1 0 -3.5 0M523.6 34.0a1.75 1.75 0 1 0 3.5 0a1.75 1.75 0 1 0 -3.5 0M523.9 34.2a1.75 1.75 0 1 0 3.5 0a1.75 1.75 0 1 0 -3.5 0M524.2 34.7a1.75 1.75 0 1 0 3.5 0a1.75 1.75 0 1 0 -3.5 0M524.5 35.4a1.75 1.75 0 1 0 3.5 0a1.75 1.75 0 1 0 -3.5 0M524.6 36.3a1.75 1.75 0 1 0 3.5 0a1.75 1.75 0 1 0 -3.5 0M524.7 37.1a1.75 1.75 0 1 0 3.5 0a1.75 1.75 0 1 0 -3.5 0M524.7 37.6a1.75 1.75 0 1 0 3.5 0a1.75 1.75 0 1 0 -3.5 0M524.7 37.9a1.75 1.75 0 1 0 3.5 0a1.75 1.75 0 1 0 -3.5 0" fill="#000"/>
<path d="M532.7 18.2a1.75 1.75 0 1 0 3.5 0a1.75 1.75 0 1 0 -3.5 0M533.1 18.4a1.75 1.75 0 1 0 3.5 0a1.75 1.75 0 1 0 -3.5 0M533.4 18.5a1.75 1.75 0 1 0 3.5 0a1.75 1.75 0 1 0 -3.5 0M533.9 18.7a1.75 1.75 0 1 0 3.5 0a1.75 1.75 0 1 0 -3.5 0M534.2 18.8a1.75 1.75 0 1 0 3.5 0a1.75 1.75 0 1 0 -3.5 0M534.6 19.0a1.75 1.75 0 1 0 3.5 0a1.75 1.75 0 1 0 -3.5 0M535.0 19.3a1.75 1.75 0 1 0 3.5 0a1.75 1.75 0 1 0 -3.5 0M535.5 19.6a1.75 1.75 0 1 0 3.5 0a1.75 1.75 0 1 0 -3.5 0M536.0 20.0a1.75 1.75 0 1 0 3.5 0a1.75 1.75 0 1 0 -3.5 0M536.6 20.6a1.75 1.75 0 1 0 3.5 0a1.75 1.75 0 1 0 -3.5 0M537.1 21.3a1.75 1.75 0 1 0 3.5 0a1.75 1.75 0 1 0 -3.5 0M537.6 22.1a1.75 1.75 0 1 0 3.5 0a1.75 1.75 0 1 0 -3.5 0M538.0 23.2a1.75 1.75 0 1 0 3.5 0a1.75 1.75 0 1 0 -3.5 0M538.2 24.3a1.75 1.75 0 1 0 3.5 0a1.75 1.75 0 1 0 -3.5 0M538.2 25.5a1.75 1.75 0 1 0 3.5 0a1.75 1.75 0 1 0 -3.5 0M538.0 26.7a1.75 1.75 0 1 0 3.5 0a1.75 1.75 0 1 0 -3.5 0M537.5 27.9a1.75 1.75 0 1 0 3.5 0a1.75 1.75 0 1 0 -3.5 0M536.7 28.9a1.75 1.75 0 1 0 3.5 0a1.75 1.75 0 1 0 -3.5 0M535.8 29.8a1.75 1.75 0 1 0 3.5 0a1.75 1.75 0 1 0 -3.5 0M534.7 30.6a1.75 1.75 0 1 0 3.5 0a1.75 1.75 0 1 0 -3.5 0M533.5 31.2a1.75 1.75 0 1 0 3.5 0a1.75 1.75 0 1 0 -3.5 0M532.2 31.6a1.75 1.75 0 1 0 3.5 0a1.75 1.75 0 1 0 -3.5 0M530.9 32.0a1.75 1.75 0 1 0 3.5 0a1.75 1.75 0 1 0 -3.5 0M529.7 32.3a1.75 1.75 0 1 0 3.5 0a1.75 1.75 0 1 0 -3.5 0M528.7 32.5a1.75 1.75 0 1 0 3.5 0a1.75 1.75 0 1 0 -3.5 0M528.1 32.6a1.75 1.75 0 1 0 3.5 0a1.75 1.75 0 1 0 -3.5 0M528.5 32.9a1.75 1.75 0 1 0 3.5 0a1.75 1.75 0 1 0 -3.5 0M529.0 33.0a1.75 1.75 0 1 0 3.5 0a1.75 1.75 0 1 0 -3.5 0M529.7 33.0a1.75 1.75 0 1 0 3.5 0a1.75 1.75 0 1 0 -3.5 0M530.3 33.1a1.75 1.75 0 1 0 3.5 0a1.75 1.75 0 1 0 -3.5 0M530.8 33.1a1.75 1.75 0 1 0 3.5 0a1.75 1.75 0 1 0 -3.5 0M531.2 33.2a1.75 1.75 0 1 0 3.5 0a1.75 1.75 0 1 0 -3.5 0M531.6 33.4a1.75 1.75 0 1 0 3.5 0a1.75 1.75 0 1 0 -3.5 0M531.9 33.9a1.75 1.75 0 1 0 3.5 0a1.75 1.75 0 1 0 -3.5 0M532.1 34.6a1.75 1.75 0 1 0 3.5 0a1.75 1.75 0 1 0 -3.5 0M532.3 35.5a1.75 1.75 0 1 0 3.5 0a1.75 1.75 0 1 0 -3.5 0M532.3 36.3a1.75 1.75 0 1 0 3.5 0a1.75 1.75 0 1 0 -3.5 0M532.3 36.7a1.75 1.75 0 1 0 3.5 0a1.75 1.75 0 1 0 -3.5 0M532.3 37.1a1.75 1.75 0 1 0 3.5 0a1.75 1.75 0 1 0 -3.5 0" fill="#000"/>
<path d="M540.3 18.2a1.75 1.75 0 1 0 3.5 0a1.75 1.75 0 1 0 -3.5 0M540.7 18.3a1.75 1.75 0 1 0 3.5 0a1.75 1.75 0 1 0 -3.5 0M541.0 18.4a1.75 1.75 0 1 0 3.5 0a1.75 1.75 0 1 0 -3.5 0M541.5 18.6a1.75 1.75 0 1 0 3.5 0a1.75 1.75 0 1 0 -3.5 0M541.8 18.8a1.75 1.75 0 1 0 3.5 0a1.75 1.75 0 1 0 -3.5 0M542.1 19.0a1.75 1.75 0 1 0 3.5 0a1.75 1.75 0 1 0 -3.5 0M542.5 19.2a1.75 1.75 0 1 0 3.5 0a1.75 1.75 0 1 0 -3.5 0M543.0 19.5a1.75 1.75 0 1 0 3.5 0a1.75 1.75 0 1 0 -3.5 0M543.5 20.0a1.75 1.75 0 1 0 3.5 0a1.75 1.75 0 1 0 -3.5 0M544.1 20.5a1.75 1.75 0 1 0 3.5 0a1.75 1.75 0 1 0 -3.5 0M544.6 21.2a1.75 1.75 0 1 0 3.5 0a1.75 1.75 0 1 0 -3.5 0M545.1 22.0a1.75 1.75 0 1 0 3.5 0a1.75 1.75 0 1 0 -3.5 0M545.4 23.0a1.75 1.75 0 1 0 3.5 0a1.75 1.75 0 1 0 -3.5 0M545.7 24.1a1.75 1.75 0 1 0 3.5 0a1.75 1.75 0 1 0 -3.5 0M545.7 25.2a1.75 1.75 0 1 0 3.5 0a1.75 1.75 0 1 0 -3.5 0M545.4 26.4a1.75 1.75 0 1 0 3.5 0a1.75 1.75 0 1 0 -3.5 0M544.9 27.5a1.75 1.75 0 1 0 3.5 0a1.75 1.75 0 1 0 -3.5 0M544.2 28.6a1.75 1.75 0 1 0 3.5 0a1.75 1.75 0 1 0 -3.5 0M543.3 29.4a1.75 1.75 0 1 0 3.5 0a1.75 1.75 0 1 0 -3.5 0M542.2 30.2a1.75 1.75 0 1 0 3.5 0a1.75 1.75 0 1 0 -3.5 0M541.0 30.7a1.75 1.75 0 1 0 3.5 0a1.75 1.75 0 1 0 -3.5 0M539.7 31.2a1.75 1.75 0 1 0 3.5 0a1.75 1.75 0 1 0 -3.5 0M538.5 31.5a1.75 1.75 0 1 0 3.5 0a1.75 1.75 0 1 0 -3.5 0M537.3 31.8a1.75 1.75 0 1 0 3.5 0a1.75 1.75 0 1 0 -3.5 0M536.4 32.0a1.75 1.75 0 1 0 3.5 0a1.75 1.75 0 1 0 -3.5 0M535.8 32.1a1.75 1.75 0 1 0 3.5 0a1.75 1.75 0 1 0 -3.5 0M536.2 32.4a1.75 1.75 0 1 0 3.5 0a1.75 1.75 0 1 0 -3.5 0M536.8 32.5a1.75 1.75 0 1 0 3.5 0a1.75 1.75 0 1 0 -3.5 0M537.4 32.5a1.75 1.75 0 1 0 3.5 0a1.75 1.75 0 1 0 -3.5 0M538.0 32.6a1.75 1.75 0 1 0 3.5 0a1.75 1.75 0 1 0 -3.5 0M538.5 32.6a1.75 1.75 0 1 0 3.5 0a1.75 1.75 0 1 0 -3.5 0M538.9 32.7a1.75 1.75 0 1 0 3.5 0a1.75 1.75 0 1 0 -3.5 0M539.2 33.0a1.75 1.75 0 1 0 3.5 0a1.75 1.75 0 1 0 -3.5 0M539.5 33.4a1.75 1.75 0 1 0 3.5 0a1.75 1.75 0 1 0 -3.5 0M539.8 34.2a1.75 1.75 0 1 0 3.5 0a1.75 1.75 0 1 0 -3.5 0M539.9 35.1a1.75 1.75 0 1 0 3.5 0a1.75 1.75 0 1 0 -3.5 0M539.9 35.8a1.75 1.75 0 1 0 3.5 0a1.75 1.75 0 1 0 -3.5 0M539.9 36.2a1.75 1.75 0 1 0 3.5 0a1.75 1.75 0 1 0 -3.5 0M539.9 36.6a1.75 1.75 0 1 0 3.5 0a1.75 1.75 0 1 0 -3.5 0" fill="#000"/>
<path d="M547.9 18.2a1.75 1.75 0 1 0 3.5 0a1.75 1.75 0 1 0 -3.5 0M548.2 18.3a1.75 1.75 0 1 0 3.5 0a1.75 1.75 0 1 0 -3.5 0M548.6 18.4a1.75 1.75 0 1 0 3.5 0a1.75 1.75 0 1 0 -3.5 0M549.0 18.6a1.75 1.75 0 1 0 3.5 0a1.75 1.75 0 1 0 -3.5 0M549.3 18.7a1.75 1.75 0 1 0 3.5 0a1.75 1.75 0 1 0 -3.5 0M549.6 18.9a1.75 1.75 0 1 0 3.5 0a1.75 1.75 0 1 0 -3.5 0M550.0 19.1a1.75 1.75 0 1 0 3.5 0a1.75 1.75 0 1 0 -3.5 0M550.5 19.4a1.75 1.75 0 1 0 3.5 0a1.75 1.75 0 1 0 -3.5 0M551.0 19.8a1.75 1.75 0 1 0 3.5 0a1.75 1.75 0 1 0 -3.5 0M551.5 20.4a1.75 1.75 0 1 0 3.5 0a1.75 1.75 0 1 0 -3.5 0M552.0 21.0a1.75 1.75 0 1 0 3.5 0a1.75 1.75 0 1 0 -3.5 0M552.4 21.8a1.75 1.75 0 1 0 3.5 0a1.75 1.75 0 1 0 -3.5 0M552.8 22.7a1.75 1.75 0 1 0 3.5 0a1.75 1.75 0 1 0 -3.5 0M553.0 23.8a1.75 1.75 0 1 0 3.5 0a1.75 1.75 0 1 0 -3.5 0M553.0 24.9a1.75 1.75 0 1 0 3.5 0a1.75 1.75 0 1 0 -3.5 0M552.7 26.0a1.75 1.75 0 1 0 3.5 0a1.75 1.75 0 1 0 -3.5 0M552.3 27.1a1.75 1.75 0 1 0 3.5 0a1.75 1.75 0 1 0 -3.5 0M551.6 28.0a1.75 1.75 0 1 0 3.5 0a1.75 1.75 0 1 0 -3.5 0M550.7 28.8a1.75 1.75 0 1 0 3.5 0a1.75 1.75 0 1 0 -3.5 0M549.7 29.5a1.75 1.75 0 1 0 3.5 0a1.75 1.75 0 1 0 -3.5 0M548.5 30.1a1.75 1.75 0 1 0 3.5 0a1.75 1.75 0 1 0 -3.5 0M547.3 30.5a1.75 1.75 0 1 0 3.5 0a1.75 1.75 0 1 0 -3.5 0M546.1 30.8a1.75 1.75 0 1 0 3.5 0a1.75 1.75 0 1 0 -3.5 0M545.0 31.1a1.75 1.75 0 1 0 3.5 0a1.75 1.75 0 1 0 -3.5 0M544.2 31.3a1.75 1.75 0 1 0 3.5 0a1.75 1.75 0 1 0 -3.5 0M543.6 31.4a1.75 1.75 0 1 0 3.5 0a1.75 1.75 0 1 0 -3.5 0M544.0 31.7a1.75 1.75 0 1 0 3.5 0a1.75 1.75 0 1 0 -3.5 0M544.5 31.7a1.75 1.75 0 1 0 3.5 0a1.75 1.75 0 1 0 -3.5 0M545.1 31.8a1.75 1.75 0 1 0 3.5 0a1.75 1.75 0 1 0 -3.5 0M545.7 31.8a1.75 1.75 0 1 0 3.5 0a1.75 1.75 0 1 0 -3.5 0M546.2 31.9a1.75 1.75 0 1 0 3.5 0a1.75 1.75 0 1 0 -3.5 0M546.6 32.0a1.75 1.75 0 1 0 3.5 0a1.75 1.75 0 1 0 -3.5 0M546.9 32.2a1.75 1.75 0 1 0 3.5 0a1.75 1.75 0 1 0 -3.5 0M547.2 32.7a1.75 1.75 0 1 0 3.5 0a1.75 1.75 0 1 0 -3.5 0M547.4 33.5a1.75 1.75 0 1 0 3.5 0a1.75 1.75 0 1 0 -3.5 0M547.5 34.4a1.75 1.75 0 1 0 3.5 0a1.75 1.75 0 1 0 -3.5 0M547.5 35.1a1.75 1.75 0 1 0 3.5 0a1.75 1.75 0 1 0 -3.5 0M547.5 35.5a1.75 1.75 0 1 0 3.5 0a1.75 1.75 0 1 0 -3.5 0M547.5 35.8a1.75 1.75 0 1 0 3.5 0a1.75 1.75 0 1 0 -3.5 0" fill="#000"/>
<path d="M555.5 18.2a1.75 1.75 0 1 0 3.5 0a1.75 1.75 0 1 0 -3.5 0M555.8 18.3a1.75 1.75 0 1 0 3.5 0a1.75 1.75 0 1 0 -3.5 0M556.1 18.4a1.75 1.75 0 1 0 3.5 0a1.75 1.75 0 1 0 -3.5 0M556.6 18.6a1.75 1.75 0 1 0 3.5 0a1.75 1.75 0 1 0 -3.5 0M556.9 18.7a1.75 1.75 0 1 0 3.5 0a1.75 1.75 0 1 0 -3.5 0M557.2 18.9a1.75 1.75 0 1 0 3.5 0a1.75 1.75 0 1 0 -3.5 0M557.6 19.1a1.75 1.75 0 1 0 3.5 0a1.75 1.75 0 1 0 -3.5 0M558.0 19.4a1.75 1.75 0 1 0 3.5 0a1.75 1.75 0 1 0 -3.5 0M558.5 19.8a1.75 1.75 0 1 0 3.5 0a1.75 1.75 0 1 0 -3.5 0M559.0 20.3a1.75 1.75 0 1 0 3.5 0a1.75 1.75 0 1 0 -3.5 0M559.5 20.9a1.75 1.75 0 1 0 3.5 0a1.75 1.75 0 1 0 -3.5 0M559.9 21.7a1.75 1.75 0 1 0 3.5 0a1.75 1.75 0 1 0 -3.5 0M560.3 22.6a1.75 1.75 0 1 0 3.5 0a1.75 1.75 0 1 0 -3.5 0M560.5 23.6a1.75 1.75 0 1 0 3.5 0a1.75 1.75 0 1 0 -3.5 0M560.5 24.7a1.75 1.75 0 1 0 3.5 0a1.75 1.75 0 1 0 -3.5 0M560.2 25.8a1.75 1.75 0 1 0 3.5 0a1.75 1.75 0 1 0 -3.5 0M559.8 26.8a1.75 1.75 0 1 0 3.5 0a1.75 1.75 0 1 0 -3.5 0M559.1 27.8a1.75 1.75 0 1 0 3.5 0a1.75 1.75 0 1 0 -3.5 0M558.2 28.6a1.75 1.75 0 1 0 3.5 0a1.75 1.75 0 1 0 -3.5 0M557.2 29.3a1.75 1.75 0 1 0 3.5 0a1.75 1.75 0 1 0 -3.5 0M556.1 29.8a1.75 1.75 0 1 0 3.5 0a1.75 1.75 0 1 0 -3.5 0M554.9 30.2a1.75 1.75 0 1 0 3.5 0a1.75 1.75 0 1 0 -3.5 0M553.7 30.5a1.75 1.75 0 1 0 3.5 0a1.75 1.75 0 1 0 -3.5 0M552.6 30.8a1.75 1.75 0 1 0 3.5 0a1.75 1.75 0 1 0 -3.5 0M551.8 31.0a1.75 1.75 0 1 0 3.5 0a1.75 1.75 0 1 0 -3.5 0M551.3 31.1a1.75 1.75 0 1 0 3.5 0a1.75 1.75 0 1 0 -3.5 0M551.7 31.4a1.75 1.75 0 1 0 3.5 0a1.75 1.75 0 1 0 -3.5 0M552.2 31.4a1.75 1.75 0 1 0 3.5 0a1.75 1.75 0 1 0 -3.5 0M552.8 31.5a1.75 1.75 0 1 0 3.5 0a1.75 1.75 0 1 0 -3.5 0M553.3 31.5a1.75 1.75 0 1 0 3.5 0a1.75 1.75 0 1 0 -3.5 0M553.8 31.6a1.75 1.75 0 1 0 3.5 0a1.75 1.75 0 1 0 -3.5 0M554.2 31.7a1.75 1.75 0 1 0 3.5 0a1.75 1.75 0 1 0 -3.5 0M554.5 31.9a1.75 1.75 0 1 0 3.5 0a1.75 1.75 0 1 0 -3.5 0M554.8 32.4a1.75 1.75 0 1 0 3.5 0a1.75 1.75 0 1 0 -3.5 0M555.0 33.2a1.75 1.75 0 1 0 3.5 0a1.75 1.75 0 1 0 -3.5 0M555.1 34.1a1.75 1.75 0 1 0 3.5 0a1.75 1.75 0 1 0 -3.5 0M555.1 34.8a1.75 1.75 0 1 0 3.5 0a1.75 1.75 0 1 0 -3.5 0M555.1 35.2a1.75 1.75 0 1 0 3.5 0a1.75 1.75 0 1 0 -3.5 0M555.2 35.5a1.75 1.75 0 1 0 3.5 0a1.75 1.75 0 1 0 -3.5 0" fill="#000"/>
<path d="M563.1 18.2a1.75 1.75 0 1 0 3.5 0a1.75 1.75 0 1 0 -3.5 0M563.4 18.3a1.75 1.75 0 1 0 3.5 0a1.75 1.75 0 1 0 -3.5 0M563.7 18.4a1.75 1.75 0 1 0 3.5 0a1.75 1.75 0 1 0 -3.5 0M564.2 18.5a1.75 1.75 0 1 0 3.5 0a1.75 1.75 0 1 0 -3.5 0M564.5 18.7a1.75 1.75 0 1 0 3.5 0a1.75 1.75 0 1 0 -3.5 0M564.8 18.8a1.75 1.75 0 1 0 3.5 0a1.75 1.75 0 1 0 -3.5 0M565.2 19.1a1.75 1.75 0 1 0 3.5 0a1.75 1.75 0 1 0 -3.5 0M565.6 19.4a1.75 1.75 0 1 0 3.5 0a1.75 1.75 0 1 0 -3.5 0M566.0 19.7a1.75 1.75 0 1 0 3.5 0a1.75 1.75 0 1 0 -3.5 0M566.5 20.2a1.75 1.75 0 1 0 3.5 0a1.75 1.75 0 1 0 -3.5 0M567.0 20.9a1.75 1.75 0 1 0 3.5 0a1.75 1.75 0 1 0 -3.5 0M567.4 21.6a1.75 1.75 0 1 0 3.5 0a1.75 1.75 0 1 0 -3.5 0M567.8 22.5a1.75 1.75 0 1 0 3.5 0a1.75 1.75 0 1 0 -3.5 0M568.0 23.5a1.75 1.75 0 1 0 3.5 0a1.75 1.75 0 1 0 -3.5 0M568.0 24.6a1.75 1.75 0 1 0 3.5 0a1.75 1.75 0 1 0 -3.5 0M567.7 25.6a1.75 1.75 0 1 0 3.5 0a1.75 1.75 0 1 0 -3.5 0M567.3 26.7a1.75 1.75 0 1 0 3.5 0a1.75 1.75 0 1 0 -3.5 0M566.6 27.6a1.75 1.75 0 1 0 3.5 0a1.75 1.75 0 1 0 -3.5 0M565.8 28.4a1.75 1.75 0 1 0 3.5 0a1.75 1.75 0 1 0 -3.5 0M564.7 29.0a1.75 1.75 0 1 0 3.5 0a1.75 1.75 0 1 0 -3.5 0M563.6 29.6a1.75 1.75 0 1 0 3.5 0a1.75 1.75 0 1 0 -3.5 0M562.5 30.0a1.75 1.75 0 1 0 3.5 0a1.75 1.75 0 1 0 -3.5 0M561.3 30.3a1.75 1.75 0 1 0 3.5 0a1.75 1.75 0 1 0 -3.5 0M560.3 30.5a1.75 1.75 0 1 0 3.5 0a1.75 1.75 0 1 0 -3.5 0M559.4 30.7a1.75 1.75 0 1 0 3.5 0a1.75 1.75 0 1 0 -3.5 0M558.9 30.9a1.75 1.75 0 1 0 3.5 0a1.75 1.75 0 1 0 -3.5 0M559.3 31.1a1.75 1.75 0 1 0 3.5 0a1.75 1.75 0 1 0 -3.5 0M559.9 31.2a1.75 1.75 0 1 0 3.5 0a1.75 1.75 0 1 0 -3.5 0M560.5 31.2a1.75 1.75 0 1 0 3.5 0a1.75 1.75 0 1 0 -3.5 0M561.0 31.3a1.75 1.75 0 1 0 3.5 0a1.75 1.75 0 1 0 -3.5 0M561.5 31.3a1.75 1.75 0 1 0 3.5 0a1.75 1.75 0 1 0 -3.5 0M561.9 31.5a1.75 1.75 0 1 0 3.5 0a1.75 1.75 0 1 0 -3.5 0M562.2 31.7a1.75 1.75 0 1 0 3.5 0a1.75 1.75 0 1 0 -3.5 0M562.5 32.2a1.75 1.75 0 1 0 3.5 0a1.75 1.75 0 1 0 -3.5 0M562.7 33.0a1.75 1.75 0 1 0 3.5 0a1.75 1.75 0 1 0 -3.5 0M562.8 33.9a1.75 1.75 0 1 0 3.5 0a1.75 1.75 0 1 0 -3.5 0M562.8 34.5a1.75 1.75 0 1 0 3.5 0a1.75 1.75 0 1 0 -3.5 0M562.8 34.9a1.75 1.75 0 1 0 3.5 0a1.75 1.75 0 1 0 -3.5 0M562.8 35.2a1.75 1.75 0 1 0 3.5 0a1.75 1.75 0 1 0 -3.5 0" fill="#000"/>
<path d="M570.7 18.1a1.75 1.75 0 1 0 3.5 0a1.75 1.75 0 1 0 -3.5 0M571.1 18.2a1.75 1.75 0 1 0 3.5 0a1.75 1.75 0 1 0 -3.5 0M571.4 18.4a1.75 1.75 0 1 0 3.5 0a1.75 1.75 0 1 0 -3.5 0M571.8 18.5a1.75 1.75 0 1 0 3.5 0a1.75 1.75 0 1 0 -3.5 0M572.1 18.7a1.75 1.75 0 1 0 3.5 0a1.75 1.75 0 1 0 -3.5 0M572.4 18.8a1.75 1.75 0 1 0 3.5 0a1.75 1.75 0 1 0 -3.5 0M572.8 19.0a1.75 1.75 0 1 0 3.5 0a1.75 1.75 0 1 0 -3.5 0M573.2 19.3a1.75 1.75 0 1 0 3.5 0a1.75 1.75 0 1 0 -3.5 0M573.6 19.7a1.75 1.75 0 1 0 3.5 0a1.75 1.75 0 1 0 -3.5 0M574.1 20.2a1.75 1.75 0 1 0 3.5 0a1.75 1.75 0 1 0 -3.5 0M574.6 20.8a1.75 1.75 0 1 0 3.5 0a1.75 1.75 0 1 0 -3.5 0M575.0 21.6a1.75 1.75 0 1 0 3.5 0a1.75 1.75 0 1 0 -3.5 0M575.4 22.5a1.75 1.75 0 1 0 3.5 0a1.75 1.75 0 1 0 -3.5 0M575.6 23.5a1.75 1.75 0 1 0 3.5 0a1.75 1.75 0 1 0 -3.5 0M575.6 24.5a1.75 1.75 0 1 0 3.5 0a1.75 1.75 0 1 0 -3.5 0M575.3 25.6a1.75 1.75 0 1 0 3.5 0a1.75 1.75 0 1 0 -3.5 0M574.9 26.6a1.75 1.75 0 1 0 3.5 0a1.75 1.75 0 1 0 -3.5 0M574.2 27.5a1.75 1.75 0 1 0 3.5 0a1.75 1.75 0 1 0 -3.5 0M573.3 28.3a1.75 1.75 0 1 0 3.5 0a1.75 1.75 0 1 0 -3.5 0M572.3 29.0a1.75 1.75 0 1 0 3.5 0a1.75 1.75 0 1 0 -3.5 0M571.2 29.5a1.75 1.75 0 1 0 3.5 0a1.75 1.75 0 1 0 -3.5 0M570.0 29.9a1.75 1.75 0 1 0 3.5 0a1.75 1.75 0 1 0 -3.5 0M568.9 30.2a1.75 1.75 0 1 0 3.5 0a1.75 1.75 0 1 0 -3.5 0M567.8 30.5a1.75 1.75 0 1 0 3.5 0a1.75 1.75 0 1 0 -3.5 0M567.0 30.6a1.75 1.75 0 1 0 3.5 0a1.75 1.75 0 1 0 -3.5 0M566.5 30.8a1.75 1.75 0 1 0 3.5 0a1.75 1.75 0 1 0 -3.5 0M566.9 31.0a1.75 1.75 0 1 0 3.5 0a1.75 1.75 0 1 0 -3.5 0M567.5 31.1a1.75 1.75 0 1 0 3.5 0a1.75 1.75 0 1 0 -3.5 0M568.1 31.1a1.75 1.75 0 1 0 3.5 0a1.75 1.75 0 1 0 -3.5 0M568.6 31.2a1.75 1.75 0 1 0 3.5 0a1.75 1.75 0 1 0 -3.5 0M569.1 31.2a1.75 1.75 0 1 0 3.5 0a1.75 1.75 0 1 0 -3.5 0M569.5 31.4a1.75 1.75 0 1 0 3.5 0a1.75 1.75 0 1 0 -3.5 0M569.8 31.6a1.75 1.75 0 1 0 3.5 0a1.75 1.75 0 1 0 -3.5 0M570.1 32.2a1.75 1.75 0 1 0 3.5 0a1.75 1.75 0 1 0 -3.5 0M570.3 32.9a1.75 1.75 0 1 0 3.5 0a1.75 1.75 0 1 0 -3.5 0M570.4 33.8a1.75 1.75 0 1 0 3.5 0a1.75 1.75 0 1 0 -3.5 0M570.4 34.5a1.75 1.75 0 1 0 3.5 0a1.75 1.75 0 1 0 -3.5 0M570.4 34.8a1.75 1.75 0 1 0 3.5 0a1.75 1.75 0 1 0 -3.5 0" fill="#000"/>
<path d="M578.3 18.1a1.75 1.75 0 1 0 3.5 0a1.75 1.75 0 1 0 -3.5 0M578.7 18.2a1.75 1.75 0 1 0 3.5 0a1.75 1.75 0 1 0 -3.5 0M579.0 18.3a1.75 1.75 0 1 0 3.5 0a1.75 1.75 0 1 0 -3.5 0M579.4 18.5a1.75 1.75 0 1 0 3.5 0a1.75 1.75 0 1 0 -3.5 0M579.7 18.6a1.75 1.75 0 1 0 3.5 0a1.75 1.75 0 1 0 -3.5 0M580.0 18.8a1.75 1.75 0 1 0 3.5 0a1.75 1.75 0 1 0 -3.5 0M580.4 19.0a1.75 1.75 0 1 0 3.5 0a1.75 1.75 0 1 0 -3.5 0M580.8 19.3a1.75 1.75 0 1 0 3.5 0a1.75 1.75 0 1 0 -3.5 0M581.2 19.7a1.75 1.75 0 1 0 3.5 0a1.75 1.75 0 1 0 -3.5 0M581.7 20.2a1.75 1.75 0 1 0 3.5 0a1.75 1.75 0 1 0 -3.5 0M582.2 20.8a1.75 1.75 0 1 0 3.5 0a1.75 1.75 0 1 0 -3.5 0M582.6 21.5a1.75 1.75 0 1 0 3.5 0a1.75 1.75 0 1 0 -3.5 0M583.0 22.4a1.75 1.75 0 1 0 3.5 0a1.75 1.75 0 1 0 -3.5 0M583.1 23.4a1.75 1.75 0 1 0 3.5 0a1.75 1.75 0 1 0 -3.5 0M583.1 24.5a1.75 1.75 0 1 0 3.5 0a1.75 1.75 0 1 0 -3.5 0M582.9 25.5a1.75 1.75 0 1 0 3.5 0a1.75 1.75 0 1 0 -3.5 0M582.4 26.5a1.75 1.75 0 1 0 3.5 0a1.75 1.75 0 1 0 -3.5 0M581.8 27.5a1.75 1.75 0 1 0 3.5 0a1.75 1.75 0 1 0 -3.5 0M580.9 28.2a1.75 1.75 0 1 0 3.5 0a1.75 1.75 0 1 0 -3.5 0M579.9 28.9a1.75 1.75 0 1 0 3.5 0a1.75 1.75 0 1 0 -3.5 0M578.8 29.4a1.75 1.75 0 1 0 3.5 0a1.75 1.75 0 1 0 -3.5 0M577.6 29.8a1.75 1.75 0 1 0 3.5 0a1.75 1.75 0 1 0 -3.5 0M576.4 30.1a1.75 1.75 0 1 0 3.5 0a1.75 1.75 0 1 0 -3.5 0M575.4 30.4a1.75 1.75 0 1 0 3.5 0a1.75 1.75 0 1 0 -3.5 0M574.6 30.6a1.75 1.75 0 1 0 3.5 0a1.75 1.75 0 1 0 -3.5 0M574.1 30.7a1.75 1.75 0 1 0 3.5 0a1.75 1.75 0 1 0 -3.5 0M574.6 31.0a1.75 1.75 0 1 0 3.5 0a1.75 1.75 0 1 0 -3.5 0M575.1 31.0a1.75 1.75 0 1 0 3.5 0a1.75 1.75 0 1 0 -3.5 0M575.7 31.0a1.75 1.75 0 1 0 3.5 0a1.75 1.75 0 1 0 -3.5 0M576.2 31.1a1.75 1.75 0 1 0 3.5 0a1.75 1.75 0 1 0 -3.5 0M576.7 31.2a1.75 1.75 0 1 0 3.5 0a1.75 1.75 0 1 0 -3.5 0M577.1 31.3a1.75 1.75 0 1 0 3.5 0a1.75 1.75 0 1 0 -3.5 0M577.4 31.6a1.75 1.75 0 1 0 3.5 0a1.75 1.75 0 1 0 -3.5 0M577.7 32.1a1.75 1.75 0 1 0 3.5 0a1.75 1.75 0 1 0 -3.5 0M577.9 32.9a1.75 1.75 0 1 0 3.5 0a1.75 1.75 0 1 0 -3.5 0M578.0 33.8a1.75 1.75 0 1 0 3.5 0a1.75 1.75 0 1 0 -3.5 0M578.0 34.4a1.75 1.75 0 1 0 3.5 0a1.75 1.75 0 1 0 -3.5 0M578.0 34.7a1.75 1.75 0 1 0 3.5 0a1.75 1.75 0 1 0 -3.5 0" fill="#000"/>
<path d="M585.9 18.1a1.75 1.75 0 1 0 3.5 0a1.75 1.75 0 1 0 -3.5 0M586.3 18.2a1.75 1.75 0 1 0 3.5 0a1.75 1.75 0 1 0 -3.5 0M586.6 18.3a1.75 1.75 0 1 0 3.5 0a1.75 1.75 0 1 0 -3.5 0M587.0 18.5a1.75 1.75 0 1 0 3.5 0a1.75 1.75 0 1 0 -3.5 0M587.3 18.6a1.75 1.75 0 1 0 3.5 0a1.75 1.75 0 1 0 -3.5 0M587.6 18.8a1.75 1.75 0 1 0 3.5 0a1.75 1.75 0 1 0 -3.5 0M588.0 19.0a1.75 1.75 0 1 0 3.5 0a1.75 1.75 0 1 0 -3.5 0M588.4 19.3a1.75 1.75 0 1 0 3.5 0a1.75 1.75 0 1 0 -3.5 0M588.8 19.7a1.75 1.75 0 1 0 3.5 0a1.75 1.75 0 1 0 -3.5 0M589.3 20.1a1.75 1.75 0 1 0 3.5 0a1.75 1.75 0 1 0 -3.5 0M589.8 20.7a1.75 1.75 0 1 0 3.5 0a1.75 1.75 0 1 0 -3.5 0M590.2 21.5a1.75 1.75 0 1 0 3.5 0a1.75 1.75 0 1 0 -3.5 0M590.5 22.3a1.75 1.75 0 1 0 3.5 0a1.75 1.75 0 1 0 -3.5 0M590.7 23.3a1.75 1.75 0 1 0 3.5 0a1.75 1.75 0 1 0 -3.5 0M590.7 24.4a1.75 1.75 0 1 0 3.5 0a1.75 1.75 0 1 0 -3.5 0M590.5 25.4a1.75 1.75 0 1 0 3.5 0a1.75 1.75 0 1 0 -3.5 0M590.0 26.4a1.75 1.75 0 1 0 3.5 0a1.75 1.75 0 1 0 -3.5 0M589.3 27.3a1.75 1.75 0 1 0 3.5 0a1.75 1.75 0 1 0 -3.5 0M588.5 28.1a1.75 1.75 0 1 0 3.5 0a1.75 1.75 0 1 0 -3.5 0M587.5 28.8a1.75 1.75 0 1 0 3.5 0a1.75 1.75 0 1 0 -3.5 0M586.3 29.3a1.75 1.75 0 1 0 3.5 0a1.75 1.75 0 1 0 -3.5 0M585.2 29.7a1.75 1.75 0 1 0 3.5 0a1.75 1.75 0 1 0 -3.5 0M584.0 30.0a1.75 1.75 0 1 0 3.5 0a1.75 1.75 0 1 0 -3.5 0M583.0 30.2a1.75 1.75 0 1 0 3.5 0a1.75 1.75 0 1 0 -3.5 0M582.2 30.4a1.75 1.75 0 1 0 3.5 0a1.75 1.75 0 1 0 -3.5 0M581.7 30.5a1.75 1.75 0 1 0 3.5 0a1.75 1.75 0 1 0 -3.5 0M582.2 30.8a1.75 1.75 0 1 0 3.5 0a1.75 1.75 0 1 0 -3.5 0M582.8 30.8a1.75 1.75 0 1 0 3.5 0a1.75 1.75 0 1 0 -3.5 0M583.4 30.9a1.75 1.75 0 1 0 3.5 0a1.75 1.75 0 1 0 -3.5 0M583.9 30.9a1.75 1.75 0 1 0 3.5 0a1.75 1.75 0 1 0 -3.5 0M584.4 31.0a1.75 1.75 0 1 0 3.5 0a1.75 1.75 0 1 0 -3.5 0M584.7 31.1a1.75 1.75 0 1 0 3.5 0a1.75 1.75 0 1 0 -3.5 0M585.1 31.4a1.75 1.75 0 1 0 3.5 0a1.75 1.75 0 1 0 -3.5 0M585.3 32.0a1.75 1.75 0 1 0 3.5 0a1.75 1.75 0 1 0 -3.5 0M585.5 32.8a1.75 1.75 0 1 0 3.5 0a1.75 1.75 0 1 0 -3.5 0M585.6 33.6a1.75 1.75 0 1 0 3.5 0a1.75 1.75 0 1 0 -3.5 0M585.6 34.2a1.75 1.75 0 1 0 3.5 0a1.75 1.75 0 1 0 -3.5 0M585.6 34.5a1.75 1.75 0 1 0 3.5 0a1.75 1.75 0 1 0 -3.5 0" fill="#000"/>
<path d="M593.5 18.1a1.75 1.75 0 1 0 3.5 0a1.75 1.75 0 1 0 -3.5 0M593.9 18.2a1.75 1.75 0 1 0 3.5 0a1.75 1.75 0 1 0 -3.5 0M594.2 18.3a1.75 1.75 0 1 0 3.5 0a1.75 1.75 0 1 0 -3.5 0M594.6 18.5a1.75 1.75 0 1 0 3.5 0a1.75 1.75 0 1 0 -3.5 0M595.2 18.8a1.75 1.75 0 1 0 3.5 0a1.75 1.75 0 1 0 -3.5 0M595.6 19.0a1.75 1.75 0 1 0 3.5 0a1.75 1.75 0 1 0 -3.5 0M596.0 19.3a1.75 1.75 0 1 0 3.5 0a1.75 1.75 0 1 0 -3.5 0M596.4 19.6a1.75 1.75 0 1 0 3.5 0a1.75 1.75 0 1 0 -3.5 0M596.9 20.1a1.75 1.75 0 1 0 3.5 0a1.75 1.75 0 1 0 -3.5 0M597.4 20.7a1.75 1.75 0 1 0 3.5 0a1.75 1.75 0 1 0 -3.5 0M597.8 21.4a1.75 1.75 0 1 0 3.5 0a1.75 1.75 0 1 0 -3.5 0M598.1 22.3a1.75 1.75 0 1 0 3.5 0a1.75 1.75 0 1 0 -3.5 0M598.3 23.3a1.75 1.75 0 1 0 3.5 0a1.75 1.75 0 1 0 -3.5 0M598.3 24.3a1.75 1.75 0 1 0 3.5 0a1.75 1.75 0 1 0 -3.5 0M598.0 25.4a1.75 1.75 0 1 0 3.5 0a1.75 1.75 0 1 0 -3.5 0M597.6 26.4a1.75 1.75 0 1 0 3.5 0a1.75 1.75 0 1 0 -3.5 0M596.9 27.3a1.75 1.75 0 1 0 3.5 0a1.75 1.75 0 1 0 -3.5 0M596.0 28.0a1.75 1.75 0 1 0 3.5 0a1.75 1.75 0 1 0 -3.5 0M595.0 28.7a1.75 1.75 0 1 0 3.5 0a1.75 1.75 0 1 0 -3.5 0M593.9 29.2a1.75 1.75 0 1 0 3.5 0a1.75 1.75 0 1 0 -3.5 0M592.8 29.6a1.75 1.75 0 1 0 3.5 0a1.75 1.75 0 1 0 -3.5 0M591.6 29.9a1.75 1.75 0 1 0 3.5 0a1.75 1.75 0 1 0 -3.5 0M590.6 30.1a1.75 1.75 0 1 0 3.5 0a1.75 1.75 0 1 0 -3.5 0M589.8 30.3a1.75 1.75 0 1 0 3.5 0a1.75 1.75 0 1 0 -3.5 0M589.3 30.5a1.75 1.75 0 1 0 3.5 0a1.75 1.75 0 1 0 -3.5 0M589.8 30.7a1.75 1.75 0 1 0 3.5 0a1.75 1.75 0 1 0 -3.5 0M590.4 30.8a1.75 1.75 0 1 0 3.5 0a1.75 1.75 0 1 0 -3.5 0M591.0 30.8a1.75 1.75 0 1 0 3.5 0a1.75 1.75 0 1 0 -3.5 0M591.5 30.8a1.75 1.75 0 1 0 3.5 0a1.75 1.75 0 1 0 -3.5 0M592.0 30.9a1.75 1.75 0 1 0 3.5 0a1.75 1.75 0 1 0 -3.5 0M592.4 31.1a1.75 1.75 0 1 0 3.5 0a1.75 1.75 0 1 0 -3.5 0M592.7 31.4a1.75 1.75 0 1 0 3.5 0a1.75 1.75 0 1 0 -3.5 0M593.0 31.9a1.75 1.75 0 1 0 3.5 0a1.75 1.75 0 1 0 -3.5 0M593.1 32.7a1.75 1.75 0 1 0 3.5 0a1.75 1.75 0 1 0 -3.5 0M593.2 33.6a1.75 1.75 0 1 0 3.5 0a1.75 1.75 0 1 0 -3.5 0M593.2 34.1a1.75 1.75 0 1 0 3.5 0a1.75 1.75 0 1 0 -3.5 0M593.2 34.4a1.75 1.75 0 1 0 3.5 0a1.75 1.75 0 1 0 -3.5 0" fill="#000"/>
<rect x="604.77" y="22.7" width="5.2" height="5.2" fill="#fff" stroke="#000" stroke-width="1.4"/>
<path d="M601.2 18.1a1.75 1.75 0 1 0 3.5 0a1.75 1.75 0 1 0 -3.5 0M601.5 18.2a1.75 1.75 0 1 0 3.5 0a1.75 1.75 0 1 0 -3.5 0M601.8 18.3a1.75 1.75 0 1 0 3.5 0a1.75 1.75 0 1 0 -3.5 0M602.2 18.4a1.75 1.75 0 1 0 3.5 0a1.75 1.75 0 1 0 -3.5 0M602.8 18.7a1.75 1.75 0 1 0 3.5 0a1.75 1.75 0 1 0 -3.5 0M603.2 18.9a1.75 1.75 0 1 0 3.5 0a1.75 1.75 0 1 0 -3.5 0M603.6 19.2a1.75 1.75 0 1 0 3.5 0a1.75 1.75 0 1 0 -3.5 0M604.0 19.6a1.75 1.75 0 1 0 3.5 0a1.75 1.75 0 1 0 -3.5 0M604.5 20.1a1.75 1.75 0 1 0 3.5 0a1.75 1.75 0 1 0 -3.5 0M604.9 20.7a1.75 1.75 0 1 0 3.5 0a1.75 1.75 0 1 0 -3.5 0M605.4 21.4a1.75 1.75 0 1 0 3.5 0a1.75 1.75 0 1 0 -3.5 0M605.7 22.3a1.75 1.75 0 1 0 3.5 0a1.75 1.75 0 1 0 -3.5 0M605.9 23.2a1.75 1.75 0 1 0 3.5 0a1.75 1.75 0 1 0 -3.5 0M605.9 24.3a1.75 1.75 0 1 0 3.5 0a1.75 1.75 0 1 0 -3.5 0M605.2 26.3a1.75 1.75 0 1 0 3.5 0a1.75 1.75 0 1 0 -3.5 0M604.5 27.2a1.75 1.75 0 1 0 3.5 0a1.75 1.75 0 1 0 -3.5 0M603.6 28.0a1.75 1.75 0 1 0 3.5 0a1.75 1.75 0 1 0 -3.5 0M602.6 28.6a1.75 1.75 0 1 0 3.5 0a1.75 1.75 0 1 0 -3.5 0M601.5 29.1a1.75 1.75 0 1 0 3.5 0a1.75 1.75 0 1 0 -3.5 0M600.3 29.5a1.75 1.75 0 1 0 3.5 0a1.75 1.75 0 1 0 -3.5 0M599.2 29.8a1.75 1.75 0 1 0 3.5 0a1.75 1.75 0 1 0 -3.5 0M598.2 30.1a1.75 1.75 0 1 0 3.5 0a1.75 1.75 0 1 0 -3.5 0M597.4 30.2a1.75 1.75 0 1 0 3.5 0a1.75 1.75 0 1 0 -3.5 0M596.9 30.4a1.75 1.75 0 1 0 3.5 0a1.75 1.75 0 1 0 -3.5 0M597.5 30.6a1.75 1.75 0 1 0 3.5 0a1.75 1.75 0 1 0 -3.5 0M598.0 30.7a1.75 1.75 0 1 0 3.5 0a1.75 1.75 0 1 0 -3.5 0M598.6 30.7a1.75 1.75 0 1 0 3.5 0a1.75 1.75 0 1 0 -3.5 0M599.1 30.8a1.75 1.75 0 1 0 3.5 0a1.75 1.75 0 1 0 -3.5 0M599.6 30.8a1.75 1.75 0 1 0 3.5 0a1.75 1.75 0 1 0 -3.5 0M600.0 31.0a1.75 1.75 0 1 0 3.5 0a1.75 1.75 0 1 0 -3.5 0M600.3 31.3a1.75 1.75 0 1 0 3.5 0a1.75 1.75 0 1 0 -3.5 0M600.6 31.9a1.75 1.75 0 1 0 3.5 0a1.75 1.75 0 1 0 -3.5 0M600.8 32.7a1.75 1.75 0 1 0 3.5 0a1.75 1.75 0 1 0 -3.5 0M600.8 33.5a1.75 1.75 0 1 0 3.5 0a1.75 1.75 0 1 0 -3.5 0M600.8 34.1a1.75 1.75 0 1 0 3.5 0a1.75 1.75 0 1 0 -3.5 0M600.8 34.5a1.75 1.75 0 1 0 3.5 0a1.75 1.75 0 1 0 -3.5 0" fill="#000"/>
<polyline points="396.8,105.9 404.2,107.4 411.8,106.6 418,103.6 424,98.2 430.2,91.3 436.3,83.7 440,78.8 445.9,72.4 451.8,68.8 457.6,65.9 465.9,61.8 475.3,58.2 487.1,54.1 498.8,51.8 510.6,49.4 520,47.1 528.2,45.8 545.9,44 550,44.5 563.8,44 572.2,41.8 579.7,42.1 587,40.3 594.5,40.5 603,41.3" fill="none" stroke="#c8312a" stroke-width="1.9" />
<line x1="397" y1="17" x2="643" y2="17" stroke="#1e1e1e" stroke-width="1.5" />
<line x1="397.5" y1="16.5" x2="397.5" y2="140" stroke="#1e1e1e" stroke-width="1" />
<line x1="642.5" y1="16.5" x2="642.5" y2="140" stroke="#1e1e1e" stroke-width="1" />
<line x1="397" y1="139.5" x2="643" y2="139.5" stroke="#1e1e1e" stroke-width="1" />
<line x1="397.5" y1="37.5" x2="401" y2="37.5" stroke="#1e1e1e" stroke-width="1" />
<line x1="397.5" y1="58.5" x2="404.5" y2="58.5" stroke="#1e1e1e" stroke-width="1" />
<line x1="397.5" y1="80.5" x2="401" y2="80.5" stroke="#1e1e1e" stroke-width="1" />
<line x1="397.5" y1="101.5" x2="404.5" y2="101.5" stroke="#1e1e1e" stroke-width="1" />
<line x1="397.5" y1="122.5" x2="401" y2="122.5" stroke="#1e1e1e" stroke-width="1" />
<line x1="642.5" y1="38.5" x2="639" y2="38.5" stroke="#1e1e1e" stroke-width="1" />
<line x1="642.5" y1="58.5" x2="635.5" y2="58.5" stroke="#1e1e1e" stroke-width="1" />
<line x1="642.5" y1="79.5" x2="639" y2="79.5" stroke="#1e1e1e" stroke-width="1" />
<line x1="642.5" y1="100.5" x2="635.5" y2="100.5" stroke="#1e1e1e" stroke-width="1" />
<line x1="642.5" y1="121.5" x2="639" y2="121.5" stroke="#1e1e1e" stroke-width="1" />
<line x1="423.5" y1="139.5" x2="423.5" y2="136" stroke="#1e1e1e" stroke-width="1" />
<line x1="448.5" y1="139.5" x2="448.5" y2="136" stroke="#1e1e1e" stroke-width="1" />
<line x1="474.5" y1="139.5" x2="474.5" y2="136" stroke="#1e1e1e" stroke-width="1" />
<line x1="499.5" y1="139.5" x2="499.5" y2="133" stroke="#1e1e1e" stroke-width="1" />
<line x1="525.5" y1="139.5" x2="525.5" y2="136" stroke="#1e1e1e" stroke-width="1" />
<line x1="551.5" y1="139.5" x2="551.5" y2="136" stroke="#1e1e1e" stroke-width="1" />
<line x1="576.5" y1="139.5" x2="576.5" y2="136" stroke="#1e1e1e" stroke-width="1" />
<line x1="602.5" y1="139.5" x2="602.5" y2="133" stroke="#1e1e1e" stroke-width="1" />
<line x1="628.5" y1="139.5" x2="628.5" y2="136" stroke="#1e1e1e" stroke-width="1" />
<text x="391.7" y="21.3" font-size="11" fill="#c8312a" text-anchor="end" >0</text>
<text x="391.7" y="63.5" font-size="11" fill="#c8312a" text-anchor="end" >-10</text>
<text x="391.7" y="105.7" font-size="11" fill="#c8312a" text-anchor="end" >-20</text>
<text x="648.9" y="20.6" font-size="11" fill="#000" text-anchor="start" >0</text>
<text x="648.9" y="61.8" font-size="11" fill="#000" text-anchor="start" >50</text>
<text x="648.9" y="104.5" font-size="11" fill="#000" text-anchor="start" >100</text>
<text x="397.5" y="157.8" font-size="11" fill="#c8312a" text-anchor="middle" >0</text>
<text x="499.95" y="157.8" font-size="11" fill="#c8312a" text-anchor="middle" >1</text>
<text x="602.4" y="157.8" font-size="11" fill="#c8312a" text-anchor="middle" >2</text>
<circle cx="440.8" cy="113.5" r="2.8" fill="none" stroke="#000" stroke-width="1.45"/>
<text x="450.7" y="116.5" font-size="11" fill="#000" text-anchor="start" >320 Hz</text>
<path d="M501.8 113.5L507.02 110.6L507.02 116.4Z" fill="#fff" stroke="#000" stroke-width="1.5" stroke-linejoin="miter"/>
<text x="515" y="116.5" font-size="11" fill="#000" text-anchor="start" >1 kHz</text>
<rect x="558.4" y="111.2" width="4.6" height="4.6" fill="#fff" stroke="#000" stroke-width="1.5"/>
<text x="570.4" y="116.5" font-size="11" fill="#000" text-anchor="start" >1 kHz</text>
<text x="398" y="11.6" font-size="11" fill="#000" text-anchor="start" >b)</text>
<text x="518" y="9.4" font-size="11" fill="#000" text-anchor="start" ><tspan font-style="italic">-Im</tspan>(<tspan font-style="italic">Z</tspan>)</text>
<text x="140.6" y="170.8" font-size="11" fill="#c8312a" text-anchor="start" >time / h</text>
<text x="510.8" y="170.8" font-size="11" fill="#c8312a" text-anchor="start" >time / h</text>
<text transform="translate(8.9,139) rotate(-90)" font-size="10.8" fill="#c8312a" text-anchor="start" >overpotential / mV vs. Li/Li<tspan font-size="6.5" dy="-4">+</tspan></text>
<text transform="translate(364.9,139) rotate(-90)" font-size="10.8" fill="#c8312a" text-anchor="start" >overpotential / mV vs. Li/Li<tspan font-size="6.5" dy="-4">+</tspan></text>
<text transform="translate(324.4,92.7) rotate(-90)" font-size="10.6" fill="#000" text-anchor="start" ><tspan font-style="italic">Re</tspan>(<tspan font-style="italic">Z</tspan>) / Ω</text>
<text transform="translate(683.3,94.2) rotate(-90)" font-size="10.6" fill="#000" text-anchor="start" ><tspan font-style="italic">Re</tspan>(<tspan font-style="italic">Z</tspan>) / Ω</text>
<polygon points="44.1,304.5 44.1,206.6 45.9,208.5 50,209.4 60,209.7 70,209.5 80,209.8 90,209.9 100,210.3 110,210.2 120,211 130,211 140,211.5 146.8,211.7 146.8,304.5" fill="#bfbfbf"/>
<polygon points="44.1,304.5 44.1,302.6 60,302.5 80,302.7 100,302.5 120,302.6 146.8,302.4 146.8,304.5" fill="#808080"/>
<line x1="40.5" y1="198" x2="40.5" y2="305" stroke="#2a2a2a" stroke-width="1" />
<line x1="40" y1="304.5" x2="147.3" y2="304.5" stroke="#2a2a2a" stroke-width="1" />
<line x1="37" y1="198.3" x2="40.5" y2="198.3" stroke="#2a2a2a" stroke-width="1" />
<line x1="38.5" y1="211.57" x2="40.5" y2="211.57" stroke="#2a2a2a" stroke-width="1" />
<line x1="37" y1="224.85" x2="40.5" y2="224.85" stroke="#2a2a2a" stroke-width="1" />
<line x1="38.5" y1="238.12" x2="40.5" y2="238.12" stroke="#2a2a2a" stroke-width="1" />
<line x1="37" y1="251.4" x2="40.5" y2="251.4" stroke="#2a2a2a" stroke-width="1" />
<line x1="38.5" y1="264.68" x2="40.5" y2="264.68" stroke="#2a2a2a" stroke-width="1" />
<line x1="37" y1="277.95" x2="40.5" y2="277.95" stroke="#2a2a2a" stroke-width="1" />
<line x1="38.5" y1="291.23" x2="40.5" y2="291.23" stroke="#2a2a2a" stroke-width="1" />
<line x1="37" y1="304.5" x2="40.5" y2="304.5" stroke="#2a2a2a" stroke-width="1" />
<line x1="40.5" y1="304.5" x2="40.5" y2="308" stroke="#2a2a2a" stroke-width="1" />
<line x1="67.08" y1="304.5" x2="67.08" y2="306.5" stroke="#2a2a2a" stroke-width="1" />
<line x1="93.65" y1="304.5" x2="93.65" y2="308" stroke="#2a2a2a" stroke-width="1" />
<line x1="120.23" y1="304.5" x2="120.23" y2="306.5" stroke="#2a2a2a" stroke-width="1" />
<line x1="146.8" y1="304.5" x2="146.8" y2="308" stroke="#2a2a2a" stroke-width="1" />
<text x="35" y="202" font-size="11" fill="#000" text-anchor="end" >100</text>
<text x="35" y="228.55" font-size="11" fill="#000" text-anchor="end" >75</text>
<text x="35" y="255.1" font-size="11" fill="#000" text-anchor="end" >50</text>
<text x="35" y="281.65" font-size="11" fill="#000" text-anchor="end" >25</text>
<text x="35" y="308.2" font-size="11" fill="#000" text-anchor="end" >0</text>
<text x="40.5" y="322.4" font-size="11" fill="#000" text-anchor="middle" >0</text>
<text x="93.65" y="322.4" font-size="11" fill="#000" text-anchor="middle" >1</text>
<text x="146.8" y="322.4" font-size="11" fill="#000" text-anchor="middle" >2</text>
<text x="95.95" y="338.6" font-size="11" fill="#000" text-anchor="middle" >relative time / h</text>
<text x="41.3" y="190.3" font-size="11" fill="#000" text-anchor="start" >c)</text>
<text x="76" y="203.3" font-size="11" fill="#1d8bc6"><tspan font-style="italic">R</tspan><tspan font-size="6.5" dy="3.4">LF</tspan></text>
<line x1="94" y1="200" x2="94" y2="207.5" stroke="#1d8bc6" stroke-width="1.1" />
<path d="M92.4 201.5L94 197L95.6 201.5Z" fill="#1d8bc6"/>
<path d="M92.4 206L94 210.5L95.6 206Z" fill="#1d8bc6"/>
<text x="125" y="206" font-size="11" fill="#c4c4c4" font-style="italic">R<tspan font-size="6.5" dy="3.6">HF</tspan></text>
<text x="129.4" y="294" font-size="11" fill="#9a9a9a"><tspan font-style="italic">R</tspan><tspan font-size="6.3" dy="3.6">el</tspan></text>
<text transform="translate(9.6,250.8) rotate(-90)" font-size="11" fill="#000" text-anchor="middle" >% of <tspan font-style="italic">R</tspan><tspan font-size="6.5" dy="2.5">total</tspan><tspan dy="-2.5"> = η/</tspan><tspan font-style="italic">I</tspan></text>
<polygon points="206.3,304.5 206.2,206.1 214.1,212.6 221.2,220.6 228.2,225.9 233.5,232 240,236.1 245.8,236.9 249.9,237.3 254,240 257.5,240 261.6,242.3 265.1,241.1 269.2,242.8 273.9,242.5 280.9,243.7 285,242.8 289,244.9 293.2,241.9 297.2,244.3 300.7,241.1 304.8,242.3 308.9,242.3 308.9,304.5" fill="#bfbfbf"/>
<polygon points="206.3,304.5 206.4,302 230,300.2 247.6,298.8 261.6,296.7 268.6,297.4 273,296.2 277.3,297.4 280.8,296.2 293,295.6 300.1,295.6 308.9,295.3 308.9,304.5" fill="#808080"/>
<line x1="202.5" y1="198" x2="202.5" y2="305" stroke="#2a2a2a" stroke-width="1" />
<line x1="202" y1="304.5" x2="309.4" y2="304.5" stroke="#2a2a2a" stroke-width="1" />
<line x1="199" y1="198.3" x2="202.5" y2="198.3" stroke="#2a2a2a" stroke-width="1" />
<line x1="200.5" y1="211.57" x2="202.5" y2="211.57" stroke="#2a2a2a" stroke-width="1" />
<line x1="199" y1="224.85" x2="202.5" y2="224.85" stroke="#2a2a2a" stroke-width="1" />
<line x1="200.5" y1="238.12" x2="202.5" y2="238.12" stroke="#2a2a2a" stroke-width="1" />
<line x1="199" y1="251.4" x2="202.5" y2="251.4" stroke="#2a2a2a" stroke-width="1" />
<line x1="200.5" y1="264.68" x2="202.5" y2="264.68" stroke="#2a2a2a" stroke-width="1" />
<line x1="199" y1="277.95" x2="202.5" y2="277.95" stroke="#2a2a2a" stroke-width="1" />
<line x1="200.5" y1="291.23" x2="202.5" y2="291.23" stroke="#2a2a2a" stroke-width="1" />
<line x1="199" y1="304.5" x2="202.5" y2="304.5" stroke="#2a2a2a" stroke-width="1" />
<line x1="202.5" y1="304.5" x2="202.5" y2="308" stroke="#2a2a2a" stroke-width="1" />
<line x1="229.1" y1="304.5" x2="229.1" y2="306.5" stroke="#2a2a2a" stroke-width="1" />
<line x1="255.7" y1="304.5" x2="255.7" y2="308" stroke="#2a2a2a" stroke-width="1" />
<line x1="282.3" y1="304.5" x2="282.3" y2="306.5" stroke="#2a2a2a" stroke-width="1" />
<line x1="308.9" y1="304.5" x2="308.9" y2="308" stroke="#2a2a2a" stroke-width="1" />
<text x="197" y="202" font-size="11" fill="#000" text-anchor="end" >100</text>
<text x="197" y="228.55" font-size="11" fill="#000" text-anchor="end" >75</text>
<text x="197" y="255.1" font-size="11" fill="#000" text-anchor="end" >50</text>
<text x="197" y="281.65" font-size="11" fill="#000" text-anchor="end" >25</text>
<text x="197" y="308.2" font-size="11" fill="#000" text-anchor="end" >0</text>
<text x="202.5" y="322.4" font-size="11" fill="#000" text-anchor="middle" >0</text>
<text x="255.7" y="322.4" font-size="11" fill="#000" text-anchor="middle" >1</text>
<text x="308.9" y="322.4" font-size="11" fill="#000" text-anchor="middle" >2</text>
<text x="258" y="338.6" font-size="11" fill="#000" text-anchor="middle" >relative time / h</text>
<text x="203.5" y="192.8" font-size="11" fill="#000" text-anchor="start" >d)</text>
<text x="251.8" y="220.8" font-size="11" fill="#1d8bc6"><tspan font-style="italic">R</tspan><tspan font-size="6.5" dy="3.4">LF</tspan></text>
<line x1="270.6" y1="200.1" x2="270.6" y2="239.5" stroke="#1d8bc6" stroke-width="1.1" />
<path d="M269 201.6L270.6 197.1L272.2 201.6Z" fill="#1d8bc6"/>
<path d="M269 238L270.6 242.5L272.2 238Z" fill="#1d8bc6"/>
<text x="288.5" y="232.1" font-size="11" fill="#c4c4c4" font-style="italic">R<tspan font-size="6.5" dy="3.6">HF</tspan></text>
<text x="292.2" y="287.7" font-size="11" fill="#9a9a9a"><tspan font-style="italic">R</tspan><tspan font-size="6.3" dy="3.6">el</tspan></text>
<text transform="translate(172.6,250.8) rotate(-90)" font-size="11" fill="#000" text-anchor="middle" >% of <tspan font-style="italic">R</tspan><tspan font-size="6.5" dy="2.5">total</tspan><tspan dy="-2.5"> = η/</tspan><tspan font-style="italic">I</tspan></text>
<polyline points="405.64,307.3 414.42,307.3 423.19,307.3 431.96,307.3 440.74,307.3 449.51,307.3 458.28,307.3 467.06,307.3 475.83,307.3 484.6,307.3 493.38,307.3 502.15,307.3 510.92,307.3 519.69,307.3 528.47,307.3 537.24,307.3 546.01,307.3 554.79,307.3 563.56,307.3 572.33,307.3 581.11,307.3 589.88,307.3 598.65,307.3 607.43,307.3 616.2,307.3 624.97,307.3 633.75,307.3" fill="none" stroke="#000" stroke-width="1.0" />
<polyline points="405.64,305.48 414.42,305.48 423.19,305.48 431.96,305.48 440.74,305.48 449.51,305.48 458.28,305.48 467.06,305.48 475.83,305.48 484.6,305.48 493.38,305.48 502.15,305.48 510.92,305.48 519.69,305.48 528.47,305.48 537.24,305.48 546.01,305.48 554.79,305.48 563.56,305.48 572.33,305.48 581.11,305.48 589.88,305.48 598.65,305.48 607.43,305.48 616.2,305.48 624.97,305.48 633.75,305.48" fill="none" stroke="#000" stroke-width="1.3" stroke-dasharray="1 1.1"/>
<circle cx="405.64" cy="305.48" r="1.45" fill="#fff" stroke="#000" stroke-width="0.9"/>
<circle cx="414.42" cy="305.48" r="1.45" fill="#fff" stroke="#000" stroke-width="0.9"/>
<circle cx="423.19" cy="305.48" r="1.45" fill="#fff" stroke="#000" stroke-width="0.9"/>
<circle cx="431.96" cy="305.48" r="1.45" fill="#fff" stroke="#000" stroke-width="0.9"/>
<circle cx="440.74" cy="305.48" r="1.45" fill="#fff" stroke="#000" stroke-width="0.9"/>
<circle cx="449.51" cy="305.48" r="1.45" fill="#fff" stroke="#000" stroke-width="0.9"/>
<circle cx="458.28" cy="305.48" r="1.45" fill="#fff" stroke="#000" stroke-width="0.9"/>
<circle cx="467.06" cy="305.48" r="1.45" fill="#fff" stroke="#000" stroke-width="0.9"/>
<circle cx="475.83" cy="305.48" r="1.45" fill="#fff" stroke="#000" stroke-width="0.9"/>
<circle cx="484.6" cy="305.48" r="1.45" fill="#fff" stroke="#000" stroke-width="0.9"/>
<circle cx="493.38" cy="305.48" r="1.45" fill="#fff" stroke="#000" stroke-width="0.9"/>
<circle cx="502.15" cy="305.48" r="1.45" fill="#fff" stroke="#000" stroke-width="0.9"/>
<circle cx="510.92" cy="305.48" r="1.45" fill="#fff" stroke="#000" stroke-width="0.9"/>
<circle cx="519.69" cy="305.48" r="1.45" fill="#fff" stroke="#000" stroke-width="0.9"/>
<circle cx="528.47" cy="305.48" r="1.45" fill="#fff" stroke="#000" stroke-width="0.9"/>
<circle cx="537.24" cy="305.48" r="1.45" fill="#fff" stroke="#000" stroke-width="0.9"/>
<circle cx="546.01" cy="305.48" r="1.45" fill="#fff" stroke="#000" stroke-width="0.9"/>
<circle cx="554.79" cy="305.48" r="1.45" fill="#fff" stroke="#000" stroke-width="0.9"/>
<circle cx="563.56" cy="305.48" r="1.45" fill="#fff" stroke="#000" stroke-width="0.9"/>
<circle cx="572.33" cy="305.48" r="1.45" fill="#fff" stroke="#000" stroke-width="0.9"/>
<circle cx="581.11" cy="305.48" r="1.45" fill="#fff" stroke="#000" stroke-width="0.9"/>
<circle cx="589.88" cy="305.48" r="1.45" fill="#fff" stroke="#000" stroke-width="0.9"/>
<circle cx="598.65" cy="305.48" r="1.45" fill="#fff" stroke="#000" stroke-width="0.9"/>
<circle cx="607.43" cy="305.48" r="1.45" fill="#fff" stroke="#000" stroke-width="0.9"/>
<circle cx="616.2" cy="305.48" r="1.45" fill="#fff" stroke="#000" stroke-width="0.9"/>
<circle cx="624.97" cy="305.48" r="1.45" fill="#fff" stroke="#000" stroke-width="0.9"/>
<circle cx="633.75" cy="305.48" r="1.45" fill="#fff" stroke="#000" stroke-width="0.9"/>
<polyline points="405.64,299.8 414.42,296.3 423.19,293.3 431.96,292.2 440.74,291 449.51,291.5 458.28,291.5 467.06,289.8 475.83,290.7 484.6,290.1 493.38,291 502.15,291.9 510.92,291.4 519.69,291.9 528.47,292 537.24,292.2 546.01,292.5 554.79,292.8 563.56,293.2 572.33,293.6 581.11,294.1 589.88,294.6 598.65,295 607.43,295.4 616.2,295.8 624.97,296.2 633.75,296.6" fill="none" stroke="#1d8bc6" stroke-width="1.3" stroke-dasharray="1 1.1"/>
<circle cx="405.64" cy="299.8" r="1.05" fill="#fff" stroke="#1d8bc6" stroke-width="0.9"/>
<circle cx="414.42" cy="296.3" r="1.05" fill="#fff" stroke="#1d8bc6" stroke-width="0.9"/>
<circle cx="423.19" cy="293.3" r="1.05" fill="#fff" stroke="#1d8bc6" stroke-width="0.9"/>
<circle cx="431.96" cy="292.2" r="1.05" fill="#fff" stroke="#1d8bc6" stroke-width="0.9"/>
<circle cx="440.74" cy="291" r="1.05" fill="#fff" stroke="#1d8bc6" stroke-width="0.9"/>
<circle cx="449.51" cy="291.5" r="1.05" fill="#fff" stroke="#1d8bc6" stroke-width="0.9"/>
<circle cx="458.28" cy="291.5" r="1.05" fill="#fff" stroke="#1d8bc6" stroke-width="0.9"/>
<circle cx="467.06" cy="289.8" r="1.05" fill="#fff" stroke="#1d8bc6" stroke-width="0.9"/>
<circle cx="475.83" cy="290.7" r="1.05" fill="#fff" stroke="#1d8bc6" stroke-width="0.9"/>
<circle cx="484.6" cy="290.1" r="1.05" fill="#fff" stroke="#1d8bc6" stroke-width="0.9"/>
<circle cx="493.38" cy="291" r="1.05" fill="#fff" stroke="#1d8bc6" stroke-width="0.9"/>
<circle cx="502.15" cy="291.9" r="1.05" fill="#fff" stroke="#1d8bc6" stroke-width="0.9"/>
<circle cx="510.92" cy="291.4" r="1.05" fill="#fff" stroke="#1d8bc6" stroke-width="0.9"/>
<circle cx="519.69" cy="291.9" r="1.05" fill="#fff" stroke="#1d8bc6" stroke-width="0.9"/>
<circle cx="528.47" cy="292" r="1.05" fill="#fff" stroke="#1d8bc6" stroke-width="0.9"/>
<circle cx="537.24" cy="292.2" r="1.05" fill="#fff" stroke="#1d8bc6" stroke-width="0.9"/>
<circle cx="546.01" cy="292.5" r="1.05" fill="#fff" stroke="#1d8bc6" stroke-width="0.9"/>
<circle cx="554.79" cy="292.8" r="1.05" fill="#fff" stroke="#1d8bc6" stroke-width="0.9"/>
<circle cx="563.56" cy="293.2" r="1.05" fill="#fff" stroke="#1d8bc6" stroke-width="0.9"/>
<circle cx="572.33" cy="293.6" r="1.05" fill="#fff" stroke="#1d8bc6" stroke-width="0.9"/>
<circle cx="581.11" cy="294.1" r="1.05" fill="#fff" stroke="#1d8bc6" stroke-width="0.9"/>
<circle cx="589.88" cy="294.6" r="1.05" fill="#fff" stroke="#1d8bc6" stroke-width="0.9"/>
<circle cx="598.65" cy="295" r="1.05" fill="#fff" stroke="#1d8bc6" stroke-width="0.9"/>
<circle cx="607.43" cy="295.4" r="1.05" fill="#fff" stroke="#1d8bc6" stroke-width="0.9"/>
<circle cx="616.2" cy="295.8" r="1.05" fill="#fff" stroke="#1d8bc6" stroke-width="0.9"/>
<circle cx="624.97" cy="296.2" r="1.05" fill="#fff" stroke="#1d8bc6" stroke-width="0.9"/>
<circle cx="633.75" cy="296.6" r="1.05" fill="#fff" stroke="#1d8bc6" stroke-width="0.9"/>
<polyline points="405.64,297.7 414.42,294.5 423.19,294 431.96,294.5 440.74,295.4 449.51,294.9 458.28,295 467.06,295.4 475.83,295.4 484.6,294.9 493.38,294.5 502.15,294.2 510.92,294.5 519.69,294.2 528.47,293.8 537.24,293.6 546.01,293.4 554.79,293.6 563.56,293.4 572.33,293.3 581.11,293.2 589.88,293.4 598.65,293.2 607.43,293.1 616.2,293 624.97,293.1 633.75,293" fill="none" stroke="#1d8bc6" stroke-width="1.3" />
<circle cx="405.64" cy="297.7" r="1.5" fill="#1d8bc6" stroke="none" stroke-width="0"/>
<circle cx="414.42" cy="294.5" r="1.5" fill="#1d8bc6" stroke="none" stroke-width="0"/>
<circle cx="423.19" cy="294" r="1.5" fill="#1d8bc6" stroke="none" stroke-width="0"/>
<circle cx="431.96" cy="294.5" r="1.5" fill="#1d8bc6" stroke="none" stroke-width="0"/>
<circle cx="440.74" cy="295.4" r="1.5" fill="#1d8bc6" stroke="none" stroke-width="0"/>
<circle cx="449.51" cy="294.9" r="1.5" fill="#1d8bc6" stroke="none" stroke-width="0"/>
<circle cx="458.28" cy="295" r="1.5" fill="#1d8bc6" stroke="none" stroke-width="0"/>
<circle cx="467.06" cy="295.4" r="1.5" fill="#1d8bc6" stroke="none" stroke-width="0"/>
<circle cx="475.83" cy="295.4" r="1.5" fill="#1d8bc6" stroke="none" stroke-width="0"/>
<circle cx="484.6" cy="294.9" r="1.5" fill="#1d8bc6" stroke="none" stroke-width="0"/>
<circle cx="493.38" cy="294.5" r="1.5" fill="#1d8bc6" stroke="none" stroke-width="0"/>
<circle cx="502.15" cy="294.2" r="1.5" fill="#1d8bc6" stroke="none" stroke-width="0"/>
<circle cx="510.92" cy="294.5" r="1.5" fill="#1d8bc6" stroke="none" stroke-width="0"/>
<circle cx="519.69" cy="294.2" r="1.5" fill="#1d8bc6" stroke="none" stroke-width="0"/>
<circle cx="528.47" cy="293.8" r="1.5" fill="#1d8bc6" stroke="none" stroke-width="0"/>
<circle cx="537.24" cy="293.6" r="1.5" fill="#1d8bc6" stroke="none" stroke-width="0"/>
<circle cx="546.01" cy="293.4" r="1.5" fill="#1d8bc6" stroke="none" stroke-width="0"/>
<circle cx="554.79" cy="293.6" r="1.5" fill="#1d8bc6" stroke="none" stroke-width="0"/>
<circle cx="563.56" cy="293.4" r="1.5" fill="#1d8bc6" stroke="none" stroke-width="0"/>
<circle cx="572.33" cy="293.3" r="1.5" fill="#1d8bc6" stroke="none" stroke-width="0"/>
<circle cx="581.11" cy="293.2" r="1.5" fill="#1d8bc6" stroke="none" stroke-width="0"/>
<circle cx="589.88" cy="293.4" r="1.5" fill="#1d8bc6" stroke="none" stroke-width="0"/>
<circle cx="598.65" cy="293.2" r="1.5" fill="#1d8bc6" stroke="none" stroke-width="0"/>
<circle cx="607.43" cy="293.1" r="1.5" fill="#1d8bc6" stroke="none" stroke-width="0"/>
<circle cx="616.2" cy="293" r="1.5" fill="#1d8bc6" stroke="none" stroke-width="0"/>
<circle cx="624.97" cy="293.1" r="1.5" fill="#1d8bc6" stroke="none" stroke-width="0"/>
<circle cx="633.75" cy="293" r="1.5" fill="#1d8bc6" stroke="none" stroke-width="0"/>
<polyline points="405.64,216.43 414.42,220.53 423.19,228.36 431.96,239.36 440.74,251.19 449.51,259.86 458.28,267.22 467.06,273.1 475.83,276.36 484.6,279.15 493.38,281.86 502.15,283.91 510.92,286.33 519.69,287.82 528.47,288.94 537.24,289.5 546.01,290.34 554.79,290.9 563.56,291.46 572.33,292.48 581.11,292.95 589.88,293.6 598.65,293.97 607.43,293.97 616.2,294.62 624.97,294.62 633.75,295" fill="none" stroke="#c8312a" stroke-width="1.3" stroke-dasharray="1 1.1"/>
<circle cx="405.64" cy="216.43" r="1.05" fill="#fff" stroke="#c8312a" stroke-width="0.9"/>
<circle cx="414.42" cy="220.53" r="1.05" fill="#fff" stroke="#c8312a" stroke-width="0.9"/>
<circle cx="423.19" cy="228.36" r="1.05" fill="#fff" stroke="#c8312a" stroke-width="0.9"/>
<circle cx="431.96" cy="239.36" r="1.05" fill="#fff" stroke="#c8312a" stroke-width="0.9"/>
<circle cx="440.74" cy="251.19" r="1.05" fill="#fff" stroke="#c8312a" stroke-width="0.9"/>
<circle cx="449.51" cy="259.86" r="1.05" fill="#fff" stroke="#c8312a" stroke-width="0.9"/>
<circle cx="458.28" cy="267.22" r="1.05" fill="#fff" stroke="#c8312a" stroke-width="0.9"/>
<circle cx="467.06" cy="273.1" r="1.05" fill="#fff" stroke="#c8312a" stroke-width="0.9"/>
<circle cx="475.83" cy="276.36" r="1.05" fill="#fff" stroke="#c8312a" stroke-width="0.9"/>
<circle cx="484.6" cy="279.15" r="1.05" fill="#fff" stroke="#c8312a" stroke-width="0.9"/>
<circle cx="493.38" cy="281.86" r="1.05" fill="#fff" stroke="#c8312a" stroke-width="0.9"/>
<circle cx="502.15" cy="283.91" r="1.05" fill="#fff" stroke="#c8312a" stroke-width="0.9"/>
<circle cx="510.92" cy="286.33" r="1.05" fill="#fff" stroke="#c8312a" stroke-width="0.9"/>
<circle cx="519.69" cy="287.82" r="1.05" fill="#fff" stroke="#c8312a" stroke-width="0.9"/>
<circle cx="528.47" cy="288.94" r="1.05" fill="#fff" stroke="#c8312a" stroke-width="0.9"/>
<circle cx="537.24" cy="289.5" r="1.05" fill="#fff" stroke="#c8312a" stroke-width="0.9"/>
<circle cx="546.01" cy="290.34" r="1.05" fill="#fff" stroke="#c8312a" stroke-width="0.9"/>
<circle cx="554.79" cy="290.9" r="1.05" fill="#fff" stroke="#c8312a" stroke-width="0.9"/>
<circle cx="563.56" cy="291.46" r="1.05" fill="#fff" stroke="#c8312a" stroke-width="0.9"/>
<circle cx="572.33" cy="292.48" r="1.05" fill="#fff" stroke="#c8312a" stroke-width="0.9"/>
<circle cx="581.11" cy="292.95" r="1.05" fill="#fff" stroke="#c8312a" stroke-width="0.9"/>
<circle cx="589.88" cy="293.6" r="1.05" fill="#fff" stroke="#c8312a" stroke-width="0.9"/>
<circle cx="598.65" cy="293.97" r="1.05" fill="#fff" stroke="#c8312a" stroke-width="0.9"/>
<circle cx="607.43" cy="293.97" r="1.05" fill="#fff" stroke="#c8312a" stroke-width="0.9"/>
<circle cx="616.2" cy="294.62" r="1.05" fill="#fff" stroke="#c8312a" stroke-width="0.9"/>
<circle cx="624.97" cy="294.62" r="1.05" fill="#fff" stroke="#c8312a" stroke-width="0.9"/>
<circle cx="633.75" cy="295" r="1.05" fill="#fff" stroke="#c8312a" stroke-width="0.9"/>
<polyline points="405.64,203.2 414.42,205.2 423.19,205.4 431.96,206.5 440.74,206.3 449.51,207 458.28,207.4 467.06,207.4 475.83,208 484.6,208.3 493.38,208.9 502.15,209.2 510.92,208.9 519.69,209.4 528.47,209.4 537.24,209.6 546.01,210.7 554.79,211 563.56,210.9 572.33,211 581.11,211 589.88,211.2 598.65,212 607.43,211.4 616.2,211.8 624.97,212.5 633.75,212.3" fill="none" stroke="#c8312a" stroke-width="1.3" />
<circle cx="405.64" cy="203.2" r="1.5" fill="#c8312a" stroke="none" stroke-width="0"/>
<circle cx="414.42" cy="205.2" r="1.5" fill="#c8312a" stroke="none" stroke-width="0"/>
<circle cx="423.19" cy="205.4" r="1.5" fill="#c8312a" stroke="none" stroke-width="0"/>
<circle cx="431.96" cy="206.5" r="1.5" fill="#c8312a" stroke="none" stroke-width="0"/>
<circle cx="440.74" cy="206.3" r="1.5" fill="#c8312a" stroke="none" stroke-width="0"/>
<circle cx="449.51" cy="207" r="1.5" fill="#c8312a" stroke="none" stroke-width="0"/>
<circle cx="458.28" cy="207.4" r="1.5" fill="#c8312a" stroke="none" stroke-width="0"/>
<circle cx="467.06" cy="207.4" r="1.5" fill="#c8312a" stroke="none" stroke-width="0"/>
<circle cx="475.83" cy="208" r="1.5" fill="#c8312a" stroke="none" stroke-width="0"/>
<circle cx="484.6" cy="208.3" r="1.5" fill="#c8312a" stroke="none" stroke-width="0"/>
<circle cx="493.38" cy="208.9" r="1.5" fill="#c8312a" stroke="none" stroke-width="0"/>
<circle cx="502.15" cy="209.2" r="1.5" fill="#c8312a" stroke="none" stroke-width="0"/>
<circle cx="510.92" cy="208.9" r="1.5" fill="#c8312a" stroke="none" stroke-width="0"/>
<circle cx="519.69" cy="209.4" r="1.5" fill="#c8312a" stroke="none" stroke-width="0"/>
<circle cx="528.47" cy="209.4" r="1.5" fill="#c8312a" stroke="none" stroke-width="0"/>
<circle cx="537.24" cy="209.6" r="1.5" fill="#c8312a" stroke="none" stroke-width="0"/>
<circle cx="546.01" cy="210.7" r="1.5" fill="#c8312a" stroke="none" stroke-width="0"/>
<circle cx="554.79" cy="211" r="1.5" fill="#c8312a" stroke="none" stroke-width="0"/>
<circle cx="563.56" cy="210.9" r="1.5" fill="#c8312a" stroke="none" stroke-width="0"/>
<circle cx="572.33" cy="211" r="1.5" fill="#c8312a" stroke="none" stroke-width="0"/>
<circle cx="581.11" cy="211" r="1.5" fill="#c8312a" stroke="none" stroke-width="0"/>
<circle cx="589.88" cy="211.2" r="1.5" fill="#c8312a" stroke="none" stroke-width="0"/>
<circle cx="598.65" cy="212" r="1.5" fill="#c8312a" stroke="none" stroke-width="0"/>
<circle cx="607.43" cy="211.4" r="1.5" fill="#c8312a" stroke="none" stroke-width="0"/>
<circle cx="616.2" cy="211.8" r="1.5" fill="#c8312a" stroke="none" stroke-width="0"/>
<circle cx="624.97" cy="212.5" r="1.5" fill="#c8312a" stroke="none" stroke-width="0"/>
<circle cx="633.75" cy="212.3" r="1.5" fill="#c8312a" stroke="none" stroke-width="0"/>
<rect x="397" y="185.5" width="245.5" height="122" fill="none" stroke="#333" stroke-width="1"/>
<line x1="397" y1="307.8" x2="642.5" y2="307.8" stroke="#000" stroke-width="1.8" />
<line x1="397" y1="307.3" x2="401" y2="307.3" stroke="#000" stroke-width="1" />
<line x1="397" y1="302.64" x2="399" y2="302.64" stroke="#000" stroke-width="1" />
<line x1="397" y1="297.98" x2="399" y2="297.98" stroke="#000" stroke-width="1" />
<line x1="397" y1="293.32" x2="399" y2="293.32" stroke="#000" stroke-width="1" />
<line x1="397" y1="288.66" x2="399" y2="288.66" stroke="#000" stroke-width="1" />
<line x1="397" y1="284" x2="401" y2="284" stroke="#000" stroke-width="1" />
<line x1="397" y1="279.34" x2="399" y2="279.34" stroke="#000" stroke-width="1" />
<line x1="397" y1="274.68" x2="399" y2="274.68" stroke="#000" stroke-width="1" />
<line x1="397" y1="270.02" x2="399" y2="270.02" stroke="#000" stroke-width="1" />
<line x1="397" y1="265.36" x2="399" y2="265.36" stroke="#000" stroke-width="1" />
<line x1="397" y1="260.7" x2="401" y2="260.7" stroke="#000" stroke-width="1" />
<line x1="397" y1="256.04" x2="399" y2="256.04" stroke="#000" stroke-width="1" />
<line x1="397" y1="251.38" x2="399" y2="251.38" stroke="#000" stroke-width="1" />
<line x1="397" y1="246.72" x2="399" y2="246.72" stroke="#000" stroke-width="1" />
<line x1="397" y1="242.06" x2="399" y2="242.06" stroke="#000" stroke-width="1" />
<line x1="397" y1="237.4" x2="401" y2="237.4" stroke="#000" stroke-width="1" />
<line x1="397" y1="232.74" x2="399" y2="232.74" stroke="#000" stroke-width="1" />
<line x1="397" y1="228.08" x2="399" y2="228.08" stroke="#000" stroke-width="1" />
<line x1="397" y1="223.42" x2="399" y2="223.42" stroke="#000" stroke-width="1" />
<line x1="397" y1="218.76" x2="399" y2="218.76" stroke="#000" stroke-width="1" />
<line x1="397" y1="214.1" x2="401" y2="214.1" stroke="#000" stroke-width="1" />
<line x1="397" y1="209.44" x2="399" y2="209.44" stroke="#000" stroke-width="1" />
<line x1="397" y1="204.78" x2="399" y2="204.78" stroke="#000" stroke-width="1" />
<line x1="397" y1="200.12" x2="399" y2="200.12" stroke="#000" stroke-width="1" />
<line x1="397" y1="195.46" x2="399" y2="195.46" stroke="#000" stroke-width="1" />
<line x1="397" y1="190.8" x2="401" y2="190.8" stroke="#000" stroke-width="1" />
<text x="392.8" y="311.3" font-size="11" fill="#000" text-anchor="end" >0</text>
<text x="392.8" y="288" font-size="11" fill="#000" text-anchor="end" >25</text>
<text x="392.8" y="264.7" font-size="11" fill="#000" text-anchor="end" >50</text>
<text x="392.8" y="241.4" font-size="11" fill="#000" text-anchor="end" >75</text>
<text x="392.8" y="218.1" font-size="11" fill="#000" text-anchor="end" >100</text>
<text x="392.8" y="194.8" font-size="11" fill="#000" text-anchor="end" >125</text>
<line x1="397.5" y1="307.5" x2="397.5" y2="303.5" stroke="#000" stroke-width="1" />
<line x1="427" y1="307.5" x2="427" y2="305.5" stroke="#000" stroke-width="1" />
<line x1="456.5" y1="307.5" x2="456.5" y2="305.5" stroke="#000" stroke-width="1" />
<line x1="486" y1="307.5" x2="486" y2="305.5" stroke="#000" stroke-width="1" />
<line x1="515.5" y1="307.5" x2="515.5" y2="303.5" stroke="#000" stroke-width="1" />
<line x1="545" y1="307.5" x2="545" y2="305.5" stroke="#000" stroke-width="1" />
<line x1="574.5" y1="307.5" x2="574.5" y2="305.5" stroke="#000" stroke-width="1" />
<line x1="604" y1="307.5" x2="604" y2="305.5" stroke="#000" stroke-width="1" />
<line x1="633.5" y1="307.5" x2="633.5" y2="303.5" stroke="#000" stroke-width="1" />
<text x="397.5" y="322.6" font-size="11" fill="#000" text-anchor="middle" >0</text>
<text x="515.5" y="322.6" font-size="11" fill="#000" text-anchor="middle" >1</text>
<text x="633.5" y="322.6" font-size="11" fill="#000" text-anchor="middle" >2</text>
<text x="525.3" y="339.6" font-size="11" fill="#000" text-anchor="middle" >time / h</text>
<text x="394" y="181.5" font-size="11" fill="#000" text-anchor="start" >e)</text>
<text transform="translate(367.3,250.6) rotate(-90)" font-size="11" fill="#000" text-anchor="middle" >resistance / Ω</text>
<line x1="465.4" y1="222.4" x2="500.5" y2="222.4" stroke="#000" stroke-width="1.15" />
<circle cx="483" cy="222.4" r="1.3" fill="#000" stroke="none" stroke-width="0"/>
<text x="505.1" y="227.9" font-size="11" fill="#000"><tspan font-style="italic">R</tspan><tspan font-size="6.5" dy="3">el, str</tspan></text>
<line x1="465.4" y1="244.4" x2="500.5" y2="244.4" stroke="#c8312a" stroke-width="1.15" />
<circle cx="483" cy="244.4" r="1.3" fill="#c8312a" stroke="none" stroke-width="0"/>
<text x="505.1" y="249.9" font-size="11" fill="#000"><tspan font-style="italic">R</tspan><tspan font-size="6.5" dy="3">HF, str</tspan></text>
<line x1="465.4" y1="266.4" x2="500.5" y2="266.4" stroke="#1d8bc6" stroke-width="1.15" />
<circle cx="483" cy="266.4" r="1.3" fill="#1d8bc6" stroke="none" stroke-width="0"/>
<text x="505.6" y="271.9" font-size="11" fill="#000"><tspan font-style="italic">R</tspan><tspan font-size="6.5" dy="3">LF, str</tspan></text>
<line x1="557.3" y1="222.4" x2="591.7" y2="222.4" stroke="#000" stroke-width="1.25" stroke-dasharray="0.9 1.3"/>
<circle cx="574.5" cy="222.4" r="1.2" fill="#fff" stroke="#000" stroke-width="0.9"/>
<text x="597.8" y="227.9" font-size="11" fill="#000"><tspan font-style="italic">R</tspan><tspan font-size="6.5" dy="3">el, pla</tspan></text>
<line x1="554.2" y1="244.4" x2="589.2" y2="244.4" stroke="#c8312a" stroke-width="1.25" stroke-dasharray="0.9 1.3"/>
<circle cx="572" cy="244.4" r="1.2" fill="#fff" stroke="#c8312a" stroke-width="0.9"/>
<text x="596.8" y="249.9" font-size="11" fill="#000"><tspan font-style="italic">R</tspan><tspan font-size="6.5" dy="3">HF, pla</tspan></text>
<line x1="557.3" y1="266.4" x2="591.7" y2="266.4" stroke="#1d8bc6" stroke-width="1.25" stroke-dasharray="0.9 1.3"/>
<circle cx="574.5" cy="266.4" r="1.2" fill="#fff" stroke="#1d8bc6" stroke-width="0.9"/>
<text x="597.8" y="276.4" font-size="11" fill="#000"><tspan font-style="italic">R</tspan><tspan font-size="6.5" dy="3">LF, pla</tspan></text>
</g></svg>
</body></html>
